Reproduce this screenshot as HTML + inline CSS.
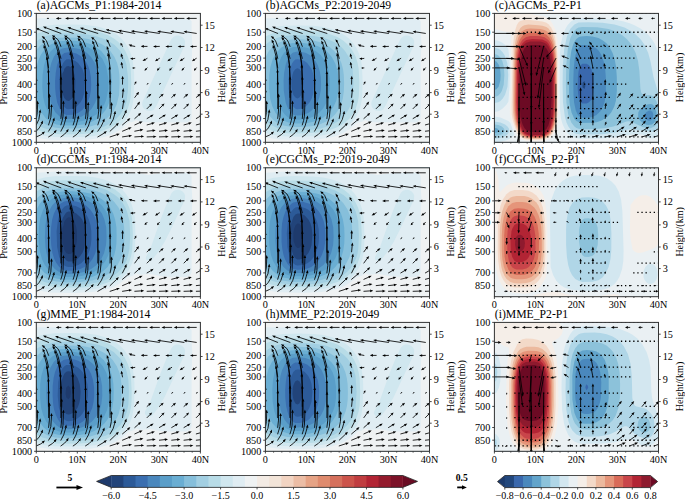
<!DOCTYPE html>
<html><head><meta charset="utf-8"><title>Figure</title>
<style>html,body{margin:0;padding:0;background:#fff;width:685px;height:500px;overflow:hidden}svg{display:block}text{font-family:"Liberation Serif",serif}</style>
</head><body>
<svg width="685" height="500" viewBox="0 0 685 500" font-family='"Liberation Serif", serif' fill="#000">
<g>
<rect x="36.3" y="13.4" width="164.1" height="128.9" fill="#22447a"/>
<path fill="#2c5a98" d="M38.3 13.4 200.4 13.4 200.4 142.3 36.3 142.3 36.3 13.4ZM66 66.9 64.3 68.7 63.8 70.9 62.3 73.6 62 82.8 62.3 93 64.3 98.1 66.3 100.3 68.3 100.9 69.4 100.7 71.8 98.7 74.3 93 75.1 88.8 75.3 80.8 74.6 74.9 72.5 68.9 70.8 66.9 68.3 66 66.3 66.6Z"/>
<path fill="#3a6eb0" d="M38.3 13.4 200.4 13.4 200.4 142.3 36.3 142.3 36.3 13.4ZM64.7 61 63.2 63 61.5 66.9 59.4 78.8 59.4 88.8 61.4 100.7 64.1 106.6 66.3 108.8 68.3 109.2 72.3 108.8 76.6 106.6 80.4 102.6 82.5 98.7 84.3 93 85 82.8 84.4 74.9 82.3 68.8 78.1 63 75.4 61 72.3 59.7 68.3 59.2 66.3 59.6Z"/>
<path fill="#4a87bd" d="M38.3 13.4 200.4 13.4 200.4 142.3 36.3 142.3 36.3 13.4ZM64.3 53.1 61.9 55 59.3 59 57.1 65 55.7 72.9 55.1 80.8 55.2 88.8 55.8 94.7 57.2 102.6 60.3 109.9 62.3 112.6 64.3 114.1 66.3 114.9 72.3 114.8 74.3 114.5 78.8 112.6 82.3 109.9 85.2 106.6 87.5 102.6 89.7 96.7 90.8 90.7 91.2 84.8 90.9 76.9 89.8 70.9 88.6 66.9 86.3 62.3 84 59 80.3 55.7 76.3 53.5 72.3 52.5 68.3 52.2 64.3 53Z"/>
<path fill="#5a9ec9" d="M38.3 13.4 200.4 13.4 200.4 142.3 36.3 142.3 36.3 13.4ZM61.1 49.1 58.2 51.1 56.3 53 53.7 57 51.3 63 49.8 68.9 49 76.9 48.8 86.8 49.4 94.7 50.9 102.6 53.2 108.6 55.5 112.6 59.6 116.5 62.3 118 66.3 118.9 72.3 118.8 76.3 118.3 81.9 116.5 88.1 112.6 91.8 108.6 95.3 102.6 96.7 98.7 98 92.7 98.5 84.8 98.1 74.9 97 68.9 94.8 63 91 57 87 53.1 84 51.1 79.5 49.1 72.3 47.8 66.3 47.7 62.3 48.6Z"/>
<path fill="#6aaed3" d="M38.3 13.4 200.4 13.4 200.4 142.3 36.3 142.3 36.3 13.4ZM60.1 45.1 54.3 48 50.3 51.8 47 57 44.1 65 42.6 74.9 42.3 86.8 43.1 96.7 44.9 104.6 47.5 110.6 50.1 114.5 54.3 118.5 58.3 120.7 64.3 122.2 70.3 122.4 78.3 121.8 84.6 120.5 89.8 118.5 96.3 114.5 100.4 110.6 104.3 104.6 106.3 99.3 108.3 88.8 108.3 78.6 106.3 66.9 102.5 59 99.2 55 94.9 51.1 88.3 47.4 80.9 45.1 74.3 44.3 66.3 44.1 60.3 45.1Z"/>
<path fill="#86bfdb" d="M38.3 13.4 200.4 13.4 200.4 142.3 36.3 142.3 36.3 98.3 38.4 106.6 41.3 112.6 46 118.5 51.5 122.5 56.5 124.5 64.3 125.6 74.3 125.6 83.7 124.5 90.3 122.4 96.3 119.4 100.3 116.2 105.3 110.6 107.6 106.6 109.8 100.7 111.4 92.7 111.8 82.8 111.5 74.9 109.6 65 105.9 57 101.2 51.1 94.3 45.9 90.3 44 82.3 41.7 74.3 40.8 62.3 40.9 56.3 42.1 50.3 44.8 44.9 49.1 40.7 55 38.1 61 36.3 68.4 36.3 13.4Z"/>
<path fill="#a2cfe2" d="M38.3 13.4 200.4 13.4 200.4 142.3 36.3 142.3 36.3 116.3 40.1 120.5 46.3 124.7 54.3 127.5 62.3 128.6 76.3 128.5 86.3 127.5 96.3 124.7 104.4 120.5 111 114.5 113.8 110.6 116.7 104.6 119.1 94.7 119.6 82.8 119.4 74.9 118.6 68.9 117.1 63 114.5 57 110.3 51.1 106.3 47.2 102.3 44.4 96.3 41.4 88.3 39 80.3 37.8 68.3 37.4 58.3 37.8 52.1 39.2 46.3 41.5 40.8 45.1 36.3 50 36.3 13.4Z"/>
<path fill="#b8dce7" d="M38.3 13.4 200.4 13.4 200.4 142.3 36.3 142.3 36.3 124.1 40.1 126.4 44.3 128.3 52 130.4 60.3 131.4 74.3 131.5 88.3 130.5 98.3 128.5 104.3 126.4 111.7 122.5 116.3 118.8 120.3 114.5 124.4 107.5 126.4 102.1 127.9 90.7 128.2 82.8 128 76.9 126.4 64.2 124.4 58.4 122.4 54.4 120.3 51.1 114.6 45.1 108.9 41.2 105 39.2 96.3 36.2 86.3 34.3 76.3 33.6 62.3 33.6 54.3 34.3 46.3 36.1 40.3 38.7 36.3 41.2 36.3 13.4Z"/>
<path fill="#d0e7ef" d="M38.3 13.4 200.4 13.4 200.4 142.3 36.3 142.3 36.3 129.6 44.5 132.4 54.3 133.9 66.3 134.4 82.3 134.1 92.3 133.1 100.3 131.4 108.3 128.5 114.3 125.2 118.3 122.1 122.4 118 126 112.6 127.8 108.6 129.7 102.6 130.7 96.7 131.3 82.8 130.7 68.9 129.7 63 128 57 125.3 51.1 122.4 46.5 118.3 42.1 114.3 38.8 108.3 35.3 100.3 32.2 92.3 30.4 82.3 29.3 66.3 29 54.3 29.5 44.3 31.2 36.3 34.1 36.3 13.4Z"/>
<path fill="#e0edf3" d="M38.3 13.4 200.4 13.4 200.4 142.3 36.3 142.3 36.3 133.9 44.3 135.8 54.3 137 70.3 137.3 84.3 137 94.3 135.9 102.3 134.2 108.3 132.3 116 128.4 120.4 125.3 124.4 121.3 127.8 116.5 130.4 111.6 132.4 105.5 133.6 98.7 134.3 82.8 134.1 72.9 133.3 65 132.3 59 130.4 52.5 127.8 47.1 124.4 41.9 120.4 37.5 116.3 34.3 110.3 30.8 102.3 27.7 94.3 25.9 84.3 24.7 70.3 24.4 54.3 24.7 44.3 26 36.3 28.1 36.3 13.4ZM173 37.2 171.3 39.2 169.4 43.1 142.4 102.1 142.2 104.6 142.6 106.6 143.8 108.6 146.4 110.4 150.4 111 152.4 110.5 154.4 109.1 157.1 104.6 184.9 45.1 185.1 41.2 184.3 39.2 182.6 37.2 180.4 35.9 178.4 35.4 176.4 35.5 174.4 36.2Z"/>
<path fill="#eff2f3" d="M38.3 13.4 200.4 13.4 200.4 142.3 36.3 142.3 36.3 137.8 50.3 139.8 72.3 140.2 90.3 139.5 102.3 137.6 108.3 135.8 114.3 133.3 120.4 129.7 128.4 122.5 132.4 121.9 136.4 120 140.4 122.1 142.4 122.3 186.4 122.5 188.4 121.8 190.1 120.5 191.4 118.5 191.6 116.5 191.6 63 192.3 43.1 191.6 33.2 191.6 21.3 189.7 19.3 186.4 18.4 36.3 18.3 36.3 13.4Z"/>
</g>
<svg x="36.3" y="13.4" width="164.1" height="128.9" viewBox="36.3 13.4 164.1 128.9" overflow="hidden">
<path d="M48.6 18.4 47.8 18.4M60.9 18.4 58.9 18.4M73.2 18.4 68.3 18.4M85.5 18.4 78.6 18.4M97.8 18.4 90.9 18.4M110.1 18.4 103.2 18.4M122.5 18.4 115.5 18.4M134.8 18.4 127.8 18.4M147.1 18.4 140.1 18.4M159.4 18.4 152.4 18.4M171.7 18.4 164.7 18.4M184.0 18.4 177.0 18.4M196.3 18.4 189.4 18.4M36.3 33.4 32.4 31.6M48.6 33.4 38.7 29.4M60.9 33.4 45.9 27.8M73.2 33.4 58.0 28.2M85.5 33.4 70.4 28.4M97.8 33.4 83.0 28.7M110.1 33.4 95.8 29.4M122.5 33.4 108.8 30.3M134.8 33.4 121.2 30.9M147.1 33.4 134.1 31.4M159.4 33.4 147.2 31.6M171.7 33.4 160.4 31.7M184.0 33.4 173.5 31.8M196.3 33.4 186.6 31.9M36.3 46.4 34.1 41.1M48.6 46.4 46.4 40.8 44.2 38.1M60.9 46.4 59.3 42.2 57.8 39.6 54.5 36.9M73.2 46.4 71.6 42.2 70.1 39.6 66.8 36.9M85.5 46.4 83.3 40.9 81.4 38.5 79.7 37.3M97.8 46.4 95.5 40.9 93.6 38.9M110.1 46.4 108.2 41.8M122.5 46.4 121.7 44.9M134.8 46.4 131.6 45.8M147.1 46.4 143.9 46.4M159.4 46.4 156.2 46.5M171.7 46.4 168.5 46.5M184.0 46.4 180.8 46.5M196.3 46.4 193.1 46.5M36.3 58.4 33.6 47.9M48.6 58.4 46.9 51.1 43.9 42.4M60.9 58.4 57.9 46.8 55.7 41.2 54.4 39.5M73.2 58.4 70.2 46.8 68.0 41.2 66.7 39.5M85.5 58.4 82.9 48.2 80.9 42.6 79.6 40.5M97.8 58.4 96.1 51.1 93.6 43.5M110.1 58.4 107.8 49.0M122.5 58.4 121.8 56.3M134.8 58.4 132.9 58.7M147.1 58.4 145.2 59.5M159.4 58.4 157.6 59.5M171.7 58.4 169.9 59.5M184.0 58.4 182.2 59.5M196.3 58.4 194.5 59.5M36.3 67.9 35.4 60.5 34.2 54.6M48.6 67.9 47.2 57.5 44.7 47.9M60.9 67.9 59.2 56.0 55.6 44.0M73.2 67.9 71.5 56.0 67.9 44.0M85.5 67.9 83.8 56.0 80.7 45.3M97.8 67.9 96.7 59.0 94.3 49.2M110.1 67.9 108.4 55.9M122.5 67.9 121.9 64.9M134.8 67.9 133.7 68.0M147.1 67.9 146.1 69.0M159.4 67.9 158.4 69.1M171.7 67.9 170.7 69.1M184.0 67.9 183.0 69.1M196.3 67.9 195.3 69.1M36.3 84.2 35.8 67.7M48.6 84.2 48.4 70.7 47.1 59.6M60.9 84.2 60.5 67.7 59.6 60.3 58.5 54.7M73.2 84.2 72.8 67.7 71.9 60.3 70.8 54.7M85.5 84.2 85.2 69.2 83.4 56.3M97.8 84.2 97.7 72.2 96.6 61.2M110.1 84.2 109.8 69.3M122.5 84.2 122.6 78.9M134.8 84.2 135.4 83.0M147.1 84.2 147.7 83.8M159.4 84.2 160.0 83.8M171.7 84.2 172.3 83.8M184.0 84.2 184.6 83.8M196.3 84.2 196.9 83.8M36.3 97.4 36.3 80.7M48.6 97.4 48.5 72.4M60.9 97.4 60.9 76.4 60.4 67.4M73.2 97.4 73.2 76.4 72.7 67.4M85.5 97.4 85.5 76.4 85.2 69.1M97.8 97.4 97.8 74.0M110.1 97.4 110.1 82.3M122.5 97.4 123.1 91.3M134.8 97.4 137.2 94.2M147.1 97.4 148.9 95.8M159.4 97.4 161.2 95.8M171.7 97.4 173.5 95.8M184.0 97.4 185.9 95.8M196.3 97.4 198.2 95.8M36.3 108.6 36.4 92.3M48.6 108.6 48.7 84.2M60.9 108.6 61.0 79.4M73.2 108.6 73.3 79.4M85.5 108.6 85.6 81.0M97.8 108.6 97.9 85.8M110.1 108.6 110.2 94.0M122.5 108.6 123.5 102.3M134.8 108.6 138.1 104.1M147.1 108.6 150.0 105.7M159.4 108.6 162.3 105.7M171.7 108.6 174.6 105.7M184.0 108.6 186.9 105.7M196.3 108.6 199.2 105.7M36.3 118.5 37.3 112.6 37.6 103.8M48.6 118.5 49.4 111.1 49.5 96.8M60.9 118.5 61.6 111.0 61.7 92.6M73.2 118.5 73.9 111.0 74.0 92.6M85.5 118.5 86.3 111.0 86.4 94.0M97.8 118.5 98.7 111.1 98.8 98.3M110.1 118.5 111.3 112.6 111.6 105.2M122.5 118.5 125.5 112.6M134.8 118.5 138.9 114.9M147.1 118.5 151.0 116.2M159.4 118.5 163.3 116.2M171.7 118.5 175.6 116.2M184.0 118.5 187.9 116.2M196.3 118.5 200.2 116.2M36.3 124.9 38.8 119.5 40.0 112.5M48.6 124.9 50.8 117.7 51.5 107.1M60.9 124.9 62.2 120.6 63.0 116.2 63.4 103.7M73.2 124.9 74.5 120.6 75.3 116.2 75.8 103.7M85.5 124.9 86.9 120.6 87.8 116.2 88.2 104.9M97.8 124.9 100.2 117.8 101.1 108.2M110.1 124.9 113.1 119.7 114.8 113.9M122.5 124.9 128.0 120.3M134.8 124.9 139.7 122.7M147.1 124.9 151.9 123.6M159.4 124.9 164.2 123.6M171.7 124.9 176.5 123.6M184.0 124.9 188.8 123.6M196.3 124.9 201.1 123.6M36.3 131.2 39.3 127.9 41.7 123.6M48.6 131.2 51.7 126.1 53.6 120.5M60.9 131.2 63.7 125.9 65.8 118.6M73.2 131.2 76.0 125.9 78.1 118.6M85.5 131.2 88.4 126.0 90.6 119.3M97.8 131.2 101.2 126.3 103.5 121.4M110.1 131.2 116.6 125.0M122.5 131.2 128.7 128.6M134.8 131.2 140.3 130.1M147.1 131.2 152.5 130.6M159.4 131.2 164.8 130.6M171.7 131.2 177.1 130.6M184.0 131.2 189.5 130.6M196.3 131.2 201.8 130.6M36.3 136.9 40.4 135.1 42.6 133.6M48.6 136.9 52.4 134.5 54.7 132.3M60.9 136.9 64.5 134.2 66.9 131.6M73.2 136.9 76.9 134.3 79.2 131.6M85.5 136.9 89.3 134.4 91.7 132.0M97.8 136.9 104.3 133.1M110.1 136.9 116.8 134.7M122.5 136.9 128.9 135.9M134.8 136.9 141.0 136.5M147.1 136.9 153.3 136.7M159.4 136.9 165.6 136.7M171.7 136.9 177.9 136.7M184.0 136.9 190.2 136.7M196.3 136.9 202.6 136.7" stroke="#000" stroke-width="0.85" fill="none" stroke-linecap="round" stroke-linejoin="round"/><path d="M46.6 18.4L47.8 17.7L47.8 19.1ZM55.8 18.4L58.9 17.1L58.9 19.7ZM65.1 18.4L68.3 17.1L68.3 19.7ZM75.4 18.4L78.6 17.1L78.6 19.7ZM87.7 18.4L90.9 17.1L90.9 19.7ZM100.0 18.4L103.2 17.1L103.2 19.7ZM112.3 18.4L115.5 17.1L115.5 19.7ZM124.6 18.4L127.8 17.1L127.8 19.7ZM136.9 18.4L140.1 17.1L140.1 19.7ZM149.2 18.4L152.4 17.1L152.4 19.7ZM161.5 18.4L164.7 17.1L164.7 19.7ZM173.8 18.4L177.0 17.1L177.0 19.7ZM186.2 18.4L189.4 17.1L189.4 19.7ZM29.5 30.2L33.0 30.4L31.9 32.7ZM35.8 27.9L39.3 28.2L38.1 30.5ZM43.0 26.4L46.5 26.7L45.3 29.0ZM55.1 27.0L58.5 27.0L57.6 29.4ZM67.4 27.2L70.9 27.1L70.0 29.6ZM80.0 27.7L83.5 27.5L82.6 30.0ZM92.8 28.5L96.2 28.2L95.4 30.6ZM105.7 29.5L109.1 29.0L108.5 31.5ZM118.1 30.3L121.5 29.7L121.0 32.2ZM130.9 30.9L134.3 30.1L133.9 32.6ZM144.1 31.1L147.4 30.3L147.0 32.8ZM157.2 31.2L160.5 30.4L160.2 33.0ZM170.3 31.3L173.7 30.5L173.3 33.1ZM183.5 31.5L186.8 30.6L186.5 33.2ZM32.5 38.3L35.2 40.4L33.0 41.7ZM41.7 36.1L45.0 37.0L43.4 39.1ZM51.8 35.3L55.2 35.8L53.9 38.0ZM64.0 35.4L67.4 35.8L66.2 38.1ZM77.0 35.7L80.4 36.2L79.1 38.4ZM91.1 36.9L94.4 37.8L92.8 39.9ZM106.3 39.2L109.2 41.0L107.1 42.6ZM120.5 42.7L122.8 44.3L120.5 45.6ZM128.6 44.6L132.1 44.6L131.1 47.0ZM140.7 46.3L143.9 45.1L143.8 47.7ZM153.0 46.5L156.2 45.2L156.2 47.8ZM165.3 46.5L168.5 45.2L168.5 47.8ZM177.6 46.5L180.8 45.2L180.8 47.8ZM189.9 46.5L193.1 45.2L193.1 47.8ZM32.6 44.9L34.8 47.5L32.4 48.3ZM42.4 39.6L45.1 41.8L42.8 43.0ZM52.1 37.2L55.3 38.5L53.5 40.4ZM64.4 37.3L67.6 38.5L65.8 40.4ZM77.6 38.0L80.6 39.6L78.6 41.3ZM92.2 40.6L94.7 43.0L92.4 44.1ZM106.8 46.0L109.0 48.6L106.6 49.4ZM121.0 53.3L123.1 56.0L120.6 56.7ZM130.1 58.5L133.0 57.4L132.8 60.0ZM142.5 61.1L144.6 58.4L145.9 60.6ZM155.0 61.3L156.8 58.5L158.3 60.6ZM167.3 61.3L169.2 58.5L170.6 60.6ZM179.6 61.3L181.5 58.5L182.9 60.6ZM191.9 61.3L193.8 58.5L195.2 60.6ZM33.5 51.5L35.5 54.3L33.0 54.9ZM43.7 44.9L45.9 47.5L43.4 48.3ZM54.3 41.0L56.8 43.5L54.4 44.5ZM66.6 41.0L69.1 43.5L66.7 44.5ZM79.6 42.3L81.9 44.8L79.5 45.7ZM93.3 46.2L95.6 48.8L93.1 49.6ZM107.7 52.8L109.7 55.6L107.2 56.3ZM121.3 61.7L123.2 64.6L120.6 65.1ZM132.1 68.1L133.6 67.1L133.8 68.9ZM144.5 70.7L145.2 68.2L147.0 69.8ZM157.0 70.8L157.5 68.3L159.4 69.8ZM169.3 70.8L169.8 68.3L171.7 69.8ZM181.6 70.8L182.1 68.3L184.0 69.8ZM193.9 70.8L194.4 68.3L196.3 69.8ZM35.5 64.5L37.1 67.6L34.5 67.8ZM46.5 56.4L48.4 59.3L45.9 59.8ZM57.7 51.6L59.7 54.4L57.2 55.0ZM70.0 51.6L72.0 54.4L69.5 55.0ZM82.7 53.2L84.7 56.0L82.2 56.6ZM96.1 58.0L97.9 61.0L95.3 61.4ZM109.5 66.2L111.1 69.2L108.5 69.4ZM122.7 75.7L123.9 79.0L121.3 78.9ZM136.3 81.2L136.3 83.5L134.4 82.5ZM148.7 83.2L148.0 84.3L147.4 83.3ZM161.0 83.2L160.3 84.3L159.7 83.3ZM173.3 83.2L172.6 84.3L172.0 83.3ZM185.6 83.2L184.9 84.3L184.3 83.3ZM197.9 83.2L197.2 84.3L196.6 83.3ZM36.3 77.5L37.6 80.7L35.0 80.7ZM48.3 69.2L49.7 72.3L47.2 72.5ZM60.1 64.2L61.7 67.3L59.1 67.5ZM72.4 64.2L74.0 67.3L71.4 67.5ZM84.9 65.9L86.5 69.0L83.9 69.2ZM97.6 70.9L99.1 74.0L96.5 74.1ZM110.1 79.1L111.4 82.3L108.8 82.3ZM123.4 88.1L124.4 91.4L121.8 91.2ZM139.1 91.7L138.2 95.0L136.1 93.4ZM151.4 93.7L149.8 96.7L148.1 94.8ZM163.7 93.7L162.1 96.7L160.4 94.8ZM176.0 93.7L174.4 96.7L172.7 94.8ZM188.3 93.7L186.7 96.7L185.0 94.8ZM200.6 93.7L199.0 96.7L197.3 94.8ZM36.4 89.1L37.7 92.3L35.1 92.3ZM48.7 81.0L50.0 84.2L47.4 84.2ZM60.9 76.2L62.3 79.4L59.7 79.4ZM73.2 76.2L74.6 79.4L72.0 79.4ZM85.6 77.8L86.9 81.0L84.3 81.0ZM97.9 82.6L99.2 85.8L96.6 85.8ZM110.2 90.8L111.5 94.0L108.9 94.0ZM124.0 99.2L124.8 102.6L122.2 102.1ZM140.1 101.6L139.1 104.9L137.1 103.3ZM152.2 103.4L150.9 106.6L149.0 104.8ZM164.5 103.4L163.2 106.6L161.3 104.8ZM176.8 103.4L175.5 106.6L173.6 104.8ZM189.1 103.4L187.8 106.6L186.0 104.8ZM201.4 103.4L200.1 106.6L198.3 104.8ZM37.6 100.6L38.9 103.9L36.3 103.8ZM49.5 93.6L50.8 96.8L48.2 96.8ZM61.7 89.4L63.0 92.6L60.4 92.6ZM74.0 89.4L75.3 92.6L72.7 92.6ZM86.4 90.8L87.7 94.0L85.1 94.0ZM98.8 95.1L100.1 98.3L97.5 98.3ZM111.6 102.0L112.9 105.3L110.3 105.2ZM126.5 109.6L126.7 113.1L124.2 112.2ZM141.1 112.7L139.8 115.9L138.0 114.0ZM153.6 114.4L151.7 117.3L150.2 115.2ZM165.9 114.4L164.0 117.3L162.5 115.2ZM178.2 114.4L176.3 117.3L174.8 115.2ZM190.5 114.4L188.6 117.3L187.1 115.2ZM202.8 114.4L200.9 117.3L199.4 115.2ZM40.2 109.3L41.3 112.6L38.7 112.4ZM51.5 103.9L52.8 107.1L50.2 107.1ZM63.5 100.5L64.7 103.7L62.1 103.7ZM75.8 100.5L77.1 103.7L74.5 103.7ZM88.2 101.7L89.5 104.9L86.9 104.9ZM101.1 105.0L102.4 108.2L99.8 108.2ZM115.2 110.7L116.1 114.0L113.5 113.7ZM130.3 118.1L128.9 121.2L127.1 119.3ZM142.6 121.4L140.2 123.9L139.2 121.5ZM154.9 122.6L152.2 124.8L151.5 122.3ZM167.2 122.6L164.5 124.8L163.8 122.3ZM179.5 122.6L176.8 124.8L176.1 122.3ZM191.8 122.6L189.2 124.8L188.4 122.3ZM204.1 122.6L201.5 124.8L200.7 122.3ZM42.9 120.6L42.9 124.1L40.5 123.1ZM54.3 117.4L54.9 120.8L52.3 120.2ZM66.2 115.4L67.0 118.8L64.5 118.4ZM78.6 115.5L79.4 118.8L76.8 118.4ZM91.2 116.2L91.9 119.6L89.3 119.1ZM104.5 118.4L104.7 121.8L102.2 121.0ZM118.8 122.7L117.6 125.9L115.7 124.1ZM131.7 127.3L129.2 129.8L128.2 127.4ZM143.4 129.5L140.5 131.4L140.0 128.8ZM155.7 130.2L152.7 131.9L152.4 129.3ZM168.0 130.2L165.0 131.9L164.7 129.3ZM180.3 130.2L177.3 131.9L177.0 129.3ZM192.6 130.2L189.6 131.9L189.3 129.3ZM204.9 130.2L201.9 131.9L201.6 129.3ZM45.0 131.6L43.4 134.6L41.7 132.6ZM56.6 129.8L55.8 133.1L53.7 131.6ZM68.6 128.8L68.0 132.2L65.8 130.9ZM81.0 128.9L80.3 132.3L78.2 130.9ZM93.7 129.5L92.8 132.8L90.7 131.2ZM106.8 131.1L105.2 134.1L103.5 132.1ZM119.8 133.7L117.2 135.9L116.4 133.5ZM132.1 135.5L129.1 137.2L128.8 134.7ZM144.2 136.3L141.1 137.8L141.0 135.2ZM156.5 136.5L153.4 138.0L153.3 135.4ZM168.8 136.5L165.7 138.0L165.6 135.4ZM181.1 136.5L178.0 138.0L177.9 135.4ZM193.4 136.5L190.3 138.0L190.2 135.4ZM205.8 136.5L202.6 138.0L202.5 135.4Z" fill="#000"/>
</svg>
<rect x="36.3" y="13.4" width="164.1" height="128.9" fill="none" stroke="#333" stroke-width="1"/>
<path d="M36.3 13.4h-2.2M36.3 32.2h-2.2M36.3 46.5h-2.2M36.3 58.1h-2.2M36.3 67.9h-2.2M36.3 84.2h-2.2M36.3 97.4h-2.2M36.3 118.5h-2.2M36.3 131.2h-2.2M36.3 142.3h-2.2M200.4 25.2h2.2M200.4 47.5h2.2M200.4 70.5h2.2M200.4 92.6h2.2M200.4 114.2h2.2M36.3 142.3v2.2M77.3 142.3v2.2M118.3 142.3v2.2M159.4 142.3v2.2M200.4 142.3v2.2M44.5 142.3v1.3M52.7 142.3v1.3M60.9 142.3v1.3M69.1 142.3v1.3M85.5 142.3v1.3M93.7 142.3v1.3M101.9 142.3v1.3M110.1 142.3v1.3M126.6 142.3v1.3M134.8 142.3v1.3M143 142.3v1.3M151.2 142.3v1.3M167.6 142.3v1.3M175.8 142.3v1.3M184 142.3v1.3M192.2 142.3v1.3" stroke="#333" stroke-width="0.9" fill="none"/>
<text x="32.2" y="16.8" font-size="10.2" text-anchor="end">100</text>
<text x="32.2" y="35.6" font-size="10.2" text-anchor="end">150</text>
<text x="32.2" y="49.9" font-size="10.2" text-anchor="end">200</text>
<text x="32.2" y="61.5" font-size="10.2" text-anchor="end">250</text>
<text x="32.2" y="71.3" font-size="10.2" text-anchor="end">300</text>
<text x="32.2" y="87.6" font-size="10.2" text-anchor="end">400</text>
<text x="32.2" y="100.8" font-size="10.2" text-anchor="end">500</text>
<text x="32.2" y="121.9" font-size="10.2" text-anchor="end">700</text>
<text x="32.2" y="134.6" font-size="10.2" text-anchor="end">850</text>
<text x="32.2" y="145.7" font-size="10.2" text-anchor="end">1000</text>
<text x="204.6" y="28.6" font-size="10.2" text-anchor="start">15</text>
<text x="204.6" y="50.9" font-size="10.2" text-anchor="start">12</text>
<text x="204.6" y="73.9" font-size="10.2" text-anchor="start">9</text>
<text x="204.6" y="96" font-size="10.2" text-anchor="start">6</text>
<text x="204.6" y="117.6" font-size="10.2" text-anchor="start">3</text>
<text x="36.3" y="153.9" font-size="10.2" text-anchor="middle">0</text>
<text x="77.3" y="153.9" font-size="10.2" text-anchor="middle">10N</text>
<text x="118.3" y="153.9" font-size="10.2" text-anchor="middle">20N</text>
<text x="159.4" y="153.9" font-size="10.2" text-anchor="middle">30N</text>
<text x="200.4" y="153.9" font-size="10.2" text-anchor="middle">40N</text>
<text x="36.7" y="9" font-size="11.7" text-anchor="start">(a)AGCMs_P1:1984-2014</text>
<text x="6.6" y="77.8" font-size="10.0" text-anchor="middle" transform="rotate(-90 6.6 77.8)">Pressure(mb)</text>
<text x="224.7" y="77.5" font-size="10.0" text-anchor="middle" transform="rotate(-90 224.7 77.5)">Height/(km)</text>
<g>
<rect x="265.4" y="13.4" width="164.1" height="128.9" fill="#2c5a98"/>
<path fill="#3a6eb0" d="M267.4 13.4 429.5 13.4 429.5 142.3 265.4 142.3 265.4 13.4ZM295.6 68.9 293.4 71.8 292.4 74.9 291.4 80.8 291.5 86.8 292.1 90.7 293.4 94.9 295.4 97.6 297.4 98.4 299.4 97.6 301.4 94.7 303 88.8 303.4 82.8 302.8 76.9 301.4 72 299.4 69.1 297.4 68.3Z"/>
<path fill="#4a87bd" d="M267.4 13.4 429.5 13.4 429.5 142.3 265.4 142.3 265.4 13.4ZM293.8 61 292.3 63 290.6 66.9 288.5 78.8 288.5 88.8 290.5 100.7 293.2 106.6 295.4 108.8 297.4 109.2 301.4 108.8 305.7 106.6 309.5 102.6 311.6 98.7 313.4 93 314.1 82.8 313.5 74.9 311.4 68.8 307.2 63 304.5 61 301.4 59.7 297.4 59.2 295.4 59.6Z"/>
<path fill="#5a9ec9" d="M267.4 13.4 429.5 13.4 429.5 142.3 265.4 142.3 265.4 13.4ZM292.4 53.1 289.4 56.1 286.9 61 285.6 65 284.1 72.9 283.6 80.8 283.8 90.7 285.7 102.6 287.1 106.6 289.1 110.6 290.6 112.6 293.4 114.7 297.4 115.5 301.4 115.3 304.8 114.5 309 112.6 311.7 110.6 315.1 106.6 317.4 102.6 319.5 96.7 320.7 90.7 321.1 84.8 320.8 76.9 319.7 70.9 317.7 65 315.5 61 312.2 57 309.8 55 305.4 52.8 301.4 51.9 297.4 51.6 293.4 52.4Z"/>
<path fill="#6aaed3" d="M267.4 13.4 429.5 13.4 429.5 142.3 265.4 142.3 265.4 13.4ZM293.2 47.1 288.2 49.1 283.9 53.1 281.3 57 278.9 63 277.2 70.9 276.5 78.8 276.7 90.7 277.7 98.7 279.2 104.6 281.9 110.6 284.8 114.5 287.4 116.9 291.4 118.9 295.4 119.7 301.4 119.6 307.4 118.8 313.6 116.5 319.5 112.6 323.1 108.6 326.5 102.6 328.5 96.7 329.7 88.8 329.7 78.8 328.7 70.9 326.9 65 323.8 59 320.6 55 315.6 51.1 311.4 49 305.4 47.4 299.4 46.8 293.4 47.1Z"/>
<path fill="#86bfdb" d="M267.4 13.4 429.5 13.4 429.5 142.3 265.4 142.3 265.4 13.4ZM293 43.1 287.4 44.3 281.4 47.4 276 53.1 272.8 59 270.4 66.9 269.3 74.9 269.2 88.8 270.2 98.7 272.4 106.6 275.3 112.6 278.4 116.5 283.4 120.4 288.3 122.5 293.4 123.4 301.4 123.5 307.4 123 315.4 121.3 323.4 117.5 329.4 112.5 333.4 107.1 336.3 100.7 338.1 92.7 338.4 78.8 337.6 70.9 335.4 63.7 331.8 57 327.4 52.1 323.4 49 317.4 46 311.4 44.2 303.4 43.1 293.4 43.1Z"/>
<path fill="#a2cfe2" d="M267.4 13.4 429.5 13.4 429.5 142.3 265.4 142.3 265.4 109.2 268.3 114.5 273.4 120.1 277.4 122.9 283.4 125.5 291.4 126.9 301.4 127.1 311.4 126.3 319.4 124.4 325.4 121.9 330.8 118.5 335 114.5 338 110.6 341 104.6 342.8 98.7 343.9 90.7 344.1 82.8 343.8 74.9 343 68.9 341.4 63 338.6 57 334.2 51.1 329.7 47.1 325.4 44.5 319.4 42 311.4 40.1 301.4 39.3 291.4 39.4 283.4 40.9 277.9 43.1 272.4 47.1 268.9 51.1 265.4 57.3 265.4 13.4Z"/>
<path fill="#b8dce7" d="M267.4 13.4 429.5 13.4 429.5 142.3 265.4 142.3 265.4 121.1 269.9 124.5 277.4 127.9 285.4 129.7 295.4 130.2 309.4 129.9 320.8 128.4 329.4 125.8 337.4 121.7 341.6 118.5 345.3 114.5 348 110.6 350 106.6 351.4 102.6 352.7 96.7 353.5 82.8 352.6 68.9 351.2 63 348.8 57 345 51.1 341.3 47.1 336 43.1 331.4 40.7 323.4 37.8 313.4 36 303.4 35.3 289.4 35.5 281.4 36.6 275.4 38.4 270 41.2 265.4 44.7 265.4 13.4Z"/>
<path fill="#d0e7ef" d="M267.4 13.4 429.5 13.4 429.5 142.3 265.4 142.3 265.4 127.9 273.4 131 281.4 132.7 291.4 133.4 307.4 133.3 317.4 132.6 327.4 130.8 335.4 128.1 341.4 125 345.4 122.2 349.5 118.4 352.5 114.5 355.7 108.6 357.7 102.6 358.8 96.7 359.4 82.8 358.7 68.9 357.6 63 355.8 57 351.5 49 347.4 44.2 343.4 40.8 337.4 37.1 329.4 33.9 319.4 31.7 309.4 30.8 291.4 30.6 281.4 31.3 272.8 33.2 265.4 36.4 265.4 13.4Z"/>
<path fill="#e0edf3" d="M267.4 13.4 429.5 13.4 429.5 142.3 265.4 142.3 265.4 133 273.4 135.1 283.4 136.3 299.4 136.7 313.4 136.3 321.4 135.5 329.4 134 337.4 131.4 343.6 128.4 349.2 124.5 353.1 120.5 356 116.5 359.1 110.6 360.9 104.6 362 98.7 362.7 82.8 362 66.9 361.1 61 359.5 55 357 49.1 353.5 43.5 349.5 39 345.4 35.7 339.4 32 331.4 28.9 323.4 27 313.4 25.8 299.4 25.4 283.4 25.8 273.4 27.1 265.4 29.4 265.4 13.4ZM402.1 37.2 400.4 39.2 398.5 43.1 371.5 102.1 371.3 104.6 371.7 106.6 372.9 108.6 375.5 110.4 379.5 111 381.5 110.5 383.5 109.1 386.2 104.6 414 45.1 414.2 41.2 413.4 39.2 411.7 37.2 409.5 35.9 407.5 35.4 405.5 35.5 403.5 36.2Z"/>
<path fill="#eff2f3" d="M267.4 13.4 429.5 13.4 429.5 142.3 265.4 142.3 265.4 137.3 279.4 139.4 299.4 139.9 317.4 139.4 331.4 137.2 337.4 135.4 343.4 132.9 349.5 129.2 355.5 123.7 357.5 122.5 361.5 121.9 365.5 120 369.5 122.1 371.5 122.3 415.5 122.5 417.5 121.8 419.2 120.5 420.5 118.5 420.7 116.5 420.7 63 421.4 43.1 420.7 33.2 420.7 21.3 418.8 19.3 415.5 18.4 265.4 18.3 265.4 13.4Z"/>
</g>
<svg x="265.4" y="13.4" width="164.1" height="128.9" viewBox="265.4 13.4 164.1 128.9" overflow="hidden">
<path d="M277.7 18.4 276.9 18.4M290.0 18.4 288.0 18.4M302.3 18.4 297.4 18.4M314.6 18.4 307.7 18.4M326.9 18.4 320.0 18.4M339.2 18.4 332.3 18.4M351.6 18.4 344.6 18.4M363.9 18.4 356.9 18.4M376.2 18.4 369.2 18.4M388.5 18.4 381.5 18.4M400.8 18.4 393.8 18.4M413.1 18.4 406.1 18.4M425.4 18.4 418.5 18.4M265.4 33.4 261.5 31.6M277.7 33.4 267.8 29.4M290.0 33.4 275.0 27.8M302.3 33.4 287.1 28.2M314.6 33.4 299.5 28.4M326.9 33.4 312.1 28.7M339.2 33.4 324.9 29.4M351.6 33.4 337.9 30.3M363.9 33.4 350.3 30.9M376.2 33.4 363.2 31.4M388.5 33.4 376.3 31.6M400.8 33.4 389.5 31.7M413.1 33.4 402.6 31.8M425.4 33.4 415.7 31.9M265.4 46.4 263.2 41.1M277.7 46.4 275.5 40.8 273.3 38.1M290.0 46.4 288.4 42.2 286.9 39.6 283.6 36.9M302.3 46.4 300.7 42.2 299.2 39.6 295.9 36.9M314.6 46.4 312.4 40.9 310.5 38.5 308.8 37.3M326.9 46.4 324.6 40.9 322.7 38.9M339.2 46.4 337.3 41.8M351.6 46.4 350.8 44.9M363.9 46.4 360.7 45.8M376.2 46.4 373.0 46.4M388.5 46.4 385.3 46.5M400.8 46.4 397.6 46.5M413.1 46.4 409.9 46.5M425.4 46.4 422.2 46.5M265.4 58.4 262.7 47.9M277.7 58.4 276.0 51.1 273.0 42.4M290.0 58.4 287.0 46.8 284.8 41.2 283.5 39.5M302.3 58.4 299.3 46.8 297.1 41.2 295.8 39.5M314.6 58.4 312.0 48.2 310.0 42.6 308.7 40.5M326.9 58.4 325.2 51.1 322.7 43.5M339.2 58.4 336.9 49.0M351.6 58.4 350.9 56.3M363.9 58.4 362.0 58.7M376.2 58.4 374.3 59.5M388.5 58.4 386.7 59.5M400.8 58.4 399.0 59.5M413.1 58.4 411.3 59.5M425.4 58.4 423.6 59.5M265.4 67.9 264.5 60.5 263.3 54.6M277.7 67.9 276.3 57.5 273.8 47.9M290.0 67.9 288.3 56.0 284.7 44.0M302.3 67.9 300.6 56.0 297.0 44.0M314.6 67.9 312.9 56.0 309.8 45.3M326.9 67.9 325.8 59.0 323.4 49.2M339.2 67.9 337.5 55.9M351.6 67.9 351.0 64.9M363.9 67.9 362.8 68.0M376.2 67.9 375.2 69.0M388.5 67.9 387.5 69.1M400.8 67.9 399.8 69.1M413.1 67.9 412.1 69.1M425.4 67.9 424.4 69.1M265.4 84.2 264.9 67.7M277.7 84.2 277.5 70.7 276.2 59.6M290.0 84.2 289.6 67.7 288.7 60.3 287.6 54.7M302.3 84.2 301.9 67.7 301.0 60.3 299.9 54.7M314.6 84.2 314.3 69.2 312.5 56.3M326.9 84.2 326.8 72.2 325.7 61.2M339.2 84.2 338.9 69.3M351.6 84.2 351.7 78.9M363.9 84.2 364.5 83.0M376.2 84.2 376.8 83.8M388.5 84.2 389.1 83.8M400.8 84.2 401.4 83.8M413.1 84.2 413.7 83.8M425.4 84.2 426.0 83.8M265.4 97.4 265.4 80.7M277.7 97.4 277.6 72.4M290.0 97.4 290.0 76.4 289.5 67.4M302.3 97.4 302.3 76.4 301.8 67.4M314.6 97.4 314.6 76.4 314.3 69.1M326.9 97.4 326.9 74.0M339.2 97.4 339.2 82.3M351.6 97.4 352.2 91.3M363.9 97.4 366.3 94.2M376.2 97.4 378.0 95.8M388.5 97.4 390.3 95.8M400.8 97.4 402.6 95.8M413.1 97.4 415.0 95.8M425.4 97.4 427.3 95.8M265.4 108.6 265.5 92.3M277.7 108.6 277.8 84.2M290.0 108.6 290.1 79.4M302.3 108.6 302.4 79.4M314.6 108.6 314.7 81.0M326.9 108.6 327.0 85.8M339.2 108.6 339.3 94.0M351.6 108.6 352.6 102.3M363.9 108.6 367.2 104.1M376.2 108.6 379.1 105.7M388.5 108.6 391.4 105.7M400.8 108.6 403.7 105.7M413.1 108.6 416.0 105.7M425.4 108.6 428.3 105.7M265.4 118.5 266.4 112.6 266.7 103.8M277.7 118.5 278.5 111.1 278.6 96.8M290.0 118.5 290.7 111.0 290.8 92.6M302.3 118.5 303.0 111.0 303.1 92.6M314.6 118.5 315.4 111.0 315.5 94.0M326.9 118.5 327.8 111.1 327.9 98.3M339.2 118.5 340.4 112.6 340.7 105.2M351.6 118.5 354.6 112.6M363.9 118.5 368.0 114.9M376.2 118.5 380.1 116.2M388.5 118.5 392.4 116.2M400.8 118.5 404.7 116.2M413.1 118.5 417.0 116.2M425.4 118.5 429.3 116.2M265.4 124.9 267.9 119.5 269.1 112.5M277.7 124.9 279.9 117.7 280.6 107.1M290.0 124.9 291.3 120.6 292.1 116.2 292.5 103.7M302.3 124.9 303.6 120.6 304.4 116.2 304.9 103.7M314.6 124.9 316.0 120.6 316.9 116.2 317.3 104.9M326.9 124.9 329.3 117.8 330.2 108.2M339.2 124.9 342.2 119.7 343.9 113.9M351.6 124.9 357.1 120.3M363.9 124.9 368.8 122.7M376.2 124.9 381.0 123.6M388.5 124.9 393.3 123.6M400.8 124.9 405.6 123.6M413.1 124.9 417.9 123.6M425.4 124.9 430.2 123.6M265.4 131.2 268.4 127.9 270.8 123.6M277.7 131.2 280.8 126.1 282.7 120.5M290.0 131.2 292.8 125.9 294.9 118.6M302.3 131.2 305.1 125.9 307.2 118.6M314.6 131.2 317.5 126.0 319.7 119.3M326.9 131.2 330.3 126.3 332.6 121.4M339.2 131.2 345.7 125.0M351.6 131.2 357.8 128.6M363.9 131.2 369.4 130.1M376.2 131.2 381.6 130.6M388.5 131.2 393.9 130.6M400.8 131.2 406.2 130.6M413.1 131.2 418.6 130.6M425.4 131.2 430.9 130.6M265.4 136.9 269.5 135.1 271.7 133.6M277.7 136.9 281.5 134.5 283.8 132.3M290.0 136.9 293.6 134.2 296.0 131.6M302.3 136.9 306.0 134.3 308.3 131.6M314.6 136.9 318.4 134.4 320.8 132.0M326.9 136.9 333.4 133.1M339.2 136.9 345.9 134.7M351.6 136.9 358.0 135.9M363.9 136.9 370.1 136.5M376.2 136.9 382.4 136.7M388.5 136.9 394.7 136.7M400.8 136.9 407.0 136.7M413.1 136.9 419.3 136.7M425.4 136.9 431.7 136.7" stroke="#000" stroke-width="0.85" fill="none" stroke-linecap="round" stroke-linejoin="round"/><path d="M275.7 18.4L276.9 17.7L276.9 19.1ZM284.9 18.4L288.0 17.1L288.0 19.7ZM294.2 18.4L297.4 17.1L297.4 19.7ZM304.5 18.4L307.7 17.1L307.7 19.7ZM316.8 18.4L320.0 17.1L320.0 19.7ZM329.1 18.4L332.3 17.1L332.3 19.7ZM341.4 18.4L344.6 17.1L344.6 19.7ZM353.7 18.4L356.9 17.1L356.9 19.7ZM366.0 18.4L369.2 17.1L369.2 19.7ZM378.3 18.4L381.5 17.1L381.5 19.7ZM390.6 18.4L393.8 17.1L393.8 19.7ZM402.9 18.4L406.1 17.1L406.1 19.7ZM415.3 18.4L418.5 17.1L418.5 19.7ZM258.6 30.2L262.1 30.4L261.0 32.7ZM264.9 27.9L268.4 28.2L267.2 30.5ZM272.1 26.4L275.6 26.7L274.4 29.0ZM284.2 27.0L287.6 27.0L286.7 29.4ZM296.5 27.2L300.0 27.1L299.1 29.6ZM309.1 27.7L312.6 27.5L311.7 30.0ZM321.9 28.5L325.3 28.2L324.5 30.6ZM334.8 29.5L338.2 29.0L337.6 31.5ZM347.2 30.3L350.6 29.7L350.1 32.2ZM360.0 30.9L363.4 30.1L363.0 32.6ZM373.2 31.1L376.5 30.3L376.1 32.8ZM386.3 31.2L389.6 30.4L389.3 33.0ZM399.4 31.3L402.8 30.5L402.4 33.1ZM412.6 31.5L415.9 30.6L415.6 33.2ZM261.6 38.3L264.3 40.4L262.1 41.7ZM270.8 36.1L274.1 37.0L272.5 39.1ZM280.9 35.3L284.3 35.8L283.0 38.0ZM293.1 35.4L296.5 35.8L295.3 38.1ZM306.1 35.7L309.5 36.2L308.2 38.4ZM320.2 36.9L323.5 37.8L321.9 39.9ZM335.4 39.2L338.3 41.0L336.2 42.6ZM349.6 42.7L351.9 44.3L349.6 45.6ZM357.7 44.6L361.2 44.6L360.2 47.0ZM369.8 46.3L373.0 45.1L372.9 47.7ZM382.1 46.5L385.3 45.2L385.3 47.8ZM394.4 46.5L397.6 45.2L397.6 47.8ZM406.7 46.5L409.9 45.2L409.9 47.8ZM419.0 46.5L422.2 45.2L422.2 47.8ZM261.7 44.9L263.9 47.5L261.5 48.3ZM271.5 39.6L274.2 41.8L271.9 43.0ZM281.2 37.2L284.4 38.5L282.6 40.4ZM293.5 37.3L296.7 38.5L294.9 40.4ZM306.7 38.0L309.7 39.6L307.7 41.3ZM321.3 40.6L323.8 43.0L321.5 44.1ZM335.9 46.0L338.1 48.6L335.7 49.4ZM350.1 53.3L352.2 56.0L349.7 56.7ZM359.2 58.5L362.1 57.4L361.9 60.0ZM371.6 61.1L373.7 58.4L375.0 60.6ZM384.1 61.3L385.9 58.5L387.4 60.6ZM396.4 61.3L398.3 58.5L399.7 60.6ZM408.7 61.3L410.6 58.5L412.0 60.6ZM421.0 61.3L422.9 58.5L424.3 60.6ZM262.6 51.5L264.6 54.3L262.1 54.9ZM272.8 44.9L275.0 47.5L272.5 48.3ZM283.4 41.0L285.9 43.5L283.5 44.5ZM295.7 41.0L298.2 43.5L295.8 44.5ZM308.7 42.3L311.0 44.8L308.6 45.7ZM322.4 46.2L324.7 48.8L322.2 49.6ZM336.8 52.8L338.8 55.6L336.3 56.3ZM350.4 61.7L352.3 64.6L349.7 65.1ZM361.2 68.1L362.7 67.1L362.9 68.9ZM373.6 70.7L374.3 68.2L376.1 69.8ZM386.1 70.8L386.6 68.3L388.5 69.8ZM398.4 70.8L398.9 68.3L400.8 69.8ZM410.7 70.8L411.2 68.3L413.1 69.8ZM423.0 70.8L423.5 68.3L425.4 69.8ZM264.6 64.5L266.2 67.6L263.6 67.8ZM275.6 56.4L277.5 59.3L275.0 59.8ZM286.8 51.6L288.8 54.4L286.3 55.0ZM299.1 51.6L301.1 54.4L298.6 55.0ZM311.8 53.2L313.8 56.0L311.3 56.6ZM325.2 58.0L327.0 61.0L324.4 61.4ZM338.6 66.2L340.2 69.2L337.6 69.4ZM351.8 75.7L353.0 79.0L350.4 78.9ZM365.4 81.2L365.4 83.5L363.5 82.5ZM377.8 83.2L377.1 84.3L376.5 83.3ZM390.1 83.2L389.4 84.3L388.8 83.3ZM402.4 83.2L401.7 84.3L401.1 83.3ZM414.7 83.2L414.0 84.3L413.4 83.3ZM427.0 83.2L426.3 84.3L425.7 83.3ZM265.4 77.5L266.7 80.7L264.1 80.7ZM277.4 69.2L278.8 72.3L276.3 72.5ZM289.2 64.2L290.8 67.3L288.2 67.5ZM301.5 64.2L303.1 67.3L300.5 67.5ZM314.0 65.9L315.6 69.0L313.0 69.2ZM326.7 70.9L328.2 74.0L325.6 74.1ZM339.2 79.1L340.5 82.3L337.9 82.3ZM352.5 88.1L353.5 91.4L350.9 91.2ZM368.2 91.7L367.3 95.0L365.2 93.4ZM380.5 93.7L378.9 96.7L377.2 94.8ZM392.8 93.7L391.2 96.7L389.5 94.8ZM405.1 93.7L403.5 96.7L401.8 94.8ZM417.4 93.7L415.8 96.7L414.1 94.8ZM429.7 93.7L428.1 96.7L426.4 94.8ZM265.5 89.1L266.8 92.3L264.2 92.3ZM277.8 81.0L279.1 84.2L276.5 84.2ZM290.0 76.2L291.4 79.4L288.8 79.4ZM302.3 76.2L303.7 79.4L301.1 79.4ZM314.7 77.8L316.0 81.0L313.4 81.0ZM327.0 82.6L328.3 85.8L325.7 85.8ZM339.3 90.8L340.6 94.0L338.0 94.0ZM353.1 99.2L353.9 102.6L351.3 102.1ZM369.2 101.6L368.2 104.9L366.2 103.3ZM381.3 103.4L380.0 106.6L378.1 104.8ZM393.6 103.4L392.3 106.6L390.4 104.8ZM405.9 103.4L404.6 106.6L402.7 104.8ZM418.2 103.4L416.9 106.6L415.1 104.8ZM430.5 103.4L429.2 106.6L427.4 104.8ZM266.7 100.6L268.0 103.9L265.4 103.8ZM278.6 93.6L279.9 96.8L277.3 96.8ZM290.8 89.4L292.1 92.6L289.5 92.6ZM303.1 89.4L304.4 92.6L301.8 92.6ZM315.5 90.8L316.8 94.0L314.2 94.0ZM327.9 95.1L329.2 98.3L326.6 98.3ZM340.7 102.0L342.0 105.3L339.4 105.2ZM355.6 109.6L355.8 113.1L353.3 112.2ZM370.2 112.7L368.9 115.9L367.1 114.0ZM382.7 114.4L380.8 117.3L379.3 115.2ZM395.0 114.4L393.1 117.3L391.6 115.2ZM407.3 114.4L405.4 117.3L403.9 115.2ZM419.6 114.4L417.7 117.3L416.2 115.2ZM431.9 114.4L430.0 117.3L428.5 115.2ZM269.3 109.3L270.4 112.6L267.8 112.4ZM280.6 103.9L281.9 107.1L279.3 107.1ZM292.6 100.5L293.8 103.7L291.2 103.7ZM304.9 100.5L306.2 103.7L303.6 103.7ZM317.3 101.7L318.6 104.9L316.0 104.9ZM330.2 105.0L331.5 108.2L328.9 108.2ZM344.3 110.7L345.2 114.0L342.6 113.7ZM359.4 118.1L358.0 121.2L356.2 119.3ZM371.7 121.4L369.3 123.9L368.3 121.5ZM384.0 122.6L381.3 124.8L380.6 122.3ZM396.3 122.6L393.6 124.8L392.9 122.3ZM408.6 122.6L405.9 124.8L405.2 122.3ZM420.9 122.6L418.3 124.8L417.5 122.3ZM433.2 122.6L430.6 124.8L429.8 122.3ZM272.0 120.6L272.0 124.1L269.6 123.1ZM283.4 117.4L284.0 120.8L281.4 120.2ZM295.3 115.4L296.1 118.8L293.6 118.4ZM307.7 115.5L308.5 118.8L305.9 118.4ZM320.3 116.2L321.0 119.6L318.4 119.1ZM333.6 118.4L333.8 121.8L331.3 121.0ZM347.9 122.7L346.7 125.9L344.8 124.1ZM360.8 127.3L358.3 129.8L357.3 127.4ZM372.5 129.5L369.6 131.4L369.1 128.8ZM384.8 130.2L381.8 131.9L381.5 129.3ZM397.1 130.2L394.1 131.9L393.8 129.3ZM409.4 130.2L406.4 131.9L406.1 129.3ZM421.7 130.2L418.7 131.9L418.4 129.3ZM434.0 130.2L431.0 131.9L430.7 129.3ZM274.1 131.6L272.5 134.6L270.8 132.6ZM285.7 129.8L284.9 133.1L282.8 131.6ZM297.7 128.8L297.1 132.2L294.9 130.9ZM310.1 128.9L309.4 132.3L307.3 130.9ZM322.8 129.5L321.9 132.8L319.8 131.2ZM335.9 131.1L334.3 134.1L332.6 132.1ZM348.9 133.7L346.3 135.9L345.5 133.5ZM361.2 135.5L358.2 137.2L357.9 134.7ZM373.3 136.3L370.2 137.8L370.1 135.2ZM385.6 136.5L382.5 138.0L382.4 135.4ZM397.9 136.5L394.8 138.0L394.7 135.4ZM410.2 136.5L407.1 138.0L407.0 135.4ZM422.5 136.5L419.4 138.0L419.3 135.4ZM434.9 136.5L431.7 138.0L431.6 135.4Z" fill="#000"/>
</svg>
<rect x="265.4" y="13.4" width="164.1" height="128.9" fill="none" stroke="#333" stroke-width="1"/>
<path d="M265.4 13.4h-2.2M265.4 32.2h-2.2M265.4 46.5h-2.2M265.4 58.1h-2.2M265.4 67.9h-2.2M265.4 84.2h-2.2M265.4 97.4h-2.2M265.4 118.5h-2.2M265.4 131.2h-2.2M265.4 142.3h-2.2M429.5 25.2h2.2M429.5 47.5h2.2M429.5 70.5h2.2M429.5 92.6h2.2M429.5 114.2h2.2M265.4 142.3v2.2M306.4 142.3v2.2M347.4 142.3v2.2M388.5 142.3v2.2M429.5 142.3v2.2M273.6 142.3v1.3M281.8 142.3v1.3M290 142.3v1.3M298.2 142.3v1.3M314.6 142.3v1.3M322.8 142.3v1.3M331 142.3v1.3M339.2 142.3v1.3M355.7 142.3v1.3M363.9 142.3v1.3M372.1 142.3v1.3M380.3 142.3v1.3M396.7 142.3v1.3M404.9 142.3v1.3M413.1 142.3v1.3M421.3 142.3v1.3" stroke="#333" stroke-width="0.9" fill="none"/>
<text x="261.3" y="16.8" font-size="10.2" text-anchor="end">100</text>
<text x="261.3" y="35.6" font-size="10.2" text-anchor="end">150</text>
<text x="261.3" y="49.9" font-size="10.2" text-anchor="end">200</text>
<text x="261.3" y="61.5" font-size="10.2" text-anchor="end">250</text>
<text x="261.3" y="71.3" font-size="10.2" text-anchor="end">300</text>
<text x="261.3" y="87.6" font-size="10.2" text-anchor="end">400</text>
<text x="261.3" y="100.8" font-size="10.2" text-anchor="end">500</text>
<text x="261.3" y="121.9" font-size="10.2" text-anchor="end">700</text>
<text x="261.3" y="134.6" font-size="10.2" text-anchor="end">850</text>
<text x="261.3" y="145.7" font-size="10.2" text-anchor="end">1000</text>
<text x="433.7" y="28.6" font-size="10.2" text-anchor="start">15</text>
<text x="433.7" y="50.9" font-size="10.2" text-anchor="start">12</text>
<text x="433.7" y="73.9" font-size="10.2" text-anchor="start">9</text>
<text x="433.7" y="96" font-size="10.2" text-anchor="start">6</text>
<text x="433.7" y="117.6" font-size="10.2" text-anchor="start">3</text>
<text x="265.4" y="153.9" font-size="10.2" text-anchor="middle">0</text>
<text x="306.4" y="153.9" font-size="10.2" text-anchor="middle">10N</text>
<text x="347.4" y="153.9" font-size="10.2" text-anchor="middle">20N</text>
<text x="388.5" y="153.9" font-size="10.2" text-anchor="middle">30N</text>
<text x="429.5" y="153.9" font-size="10.2" text-anchor="middle">40N</text>
<text x="265.8" y="9" font-size="11.7" text-anchor="start">(b)AGCMs_P2:2019-2049</text>
<text x="235.7" y="77.8" font-size="10.0" text-anchor="middle" transform="rotate(-90 235.7 77.8)">Pressure(mb)</text>
<text x="453.8" y="77.5" font-size="10.0" text-anchor="middle" transform="rotate(-90 453.8 77.5)">Height/(km)</text>
<g>
<rect x="494.4" y="13.4" width="164.1" height="128.9" fill="#22477c"/>
<path fill="#3a68ad" d="M496.4 13.4 658.5 13.4 658.5 142.3 494.4 142.3 494.4 13.4ZM582.6 82.8 582.5 87.2 584.5 89.1 585.2 86.8 585.3 84.8 584.5 81.1Z"/>
<path fill="#4a88bd" d="M496.4 13.4 658.5 13.4 658.5 142.3 494.4 142.3 494.4 13.4ZM580.9 65 579.8 66.9 578.6 70.9 577.9 76.9 577.7 88.8 578.5 97 580.5 102.2 582.5 103.6 586.5 103.5 588.6 102.6 590.5 100.8 591.7 98.7 593.3 92.7 593.6 82.8 593 74.9 591.4 68.9 590.4 66.9 588.7 65 586.5 63.8 582.5 63.7Z"/>
<path fill="#62a4cb" d="M496.4 13.4 658.5 13.4 658.5 142.3 494.4 142.3 494.4 13.4ZM582.3 45.1 580.5 45.8 577.6 49.1 575.5 55 574.5 61 573.7 68.9 573.3 80.8 573.5 94.7 574.1 102.6 575.8 110.6 577.6 114.5 579.3 116.5 582.5 117.8 588.5 117.7 592.5 116.9 596.5 115 600.5 111.1 603 106.6 604.5 102.4 605.5 96.7 605.9 90.7 605.8 76.9 605.2 68.9 604.5 64.3 602.5 57.5 600.5 53.4 598.5 50.6 596.5 48.6 592.5 46.3 588.5 45.2 582.5 45.1ZM650 110.6 648.5 110.7 645.9 112.6 644.7 114.5 644.5 116.5 645.3 118.5 646.5 119.7 648.5 120.7 650.5 120.6 652.7 118.5 653.3 114.5 652.5 112 650.5 110.5Z"/>
<path fill="#8cc2da" d="M496.4 13.4 658.5 13.4 658.5 142.3 494.4 142.3 494.4 132.8 497.1 132.4 498.9 130.4 497.4 128.4 494.4 127.8 494.4 89.9 496.4 89.3 498.6 86.8 500.3 80.8 500.6 74.9 500.1 68.9 499 65 496.4 61.5 494.4 60.8 494.4 13.4ZM578.5 37.2 576.4 38.9 574.8 41.2 573 45.1 571.3 51.1 569.8 61 569.1 74.9 569.1 94.7 569.8 104.6 571.5 112.6 574.4 118.9 576.4 121.1 580.5 123 592.5 122.8 596.5 122.2 601.7 120.5 607.8 116.5 611.2 112.6 614.3 106.6 615.9 100.7 616.9 90.7 616.8 76.9 616.1 66.9 614.6 59 612.6 53.1 609.5 47.1 606.2 43.1 602.5 40.2 598.5 38.1 592.5 36.6 586.5 36.1 580.5 36.4ZM647.4 104.6 642.5 107.3 639.2 110.6 638.3 112.6 638.1 116.5 640 120.5 642.5 122.7 646.5 124.7 648.5 125 651.8 124.5 654.4 122.5 655.5 120.5 656.6 116.5 656.5 112.6 654.5 106.6 652.5 104.6 650.5 104 648.5 104.2Z"/>
<path fill="#b0d6e7" d="M496.4 13.4 658.5 13.4 658.5 108 656.5 101.6 654.5 98.1 652.5 96.1 650.5 95.2 648.5 95 644.5 95.6 642.5 94.7 641.3 92.7 640.4 88.8 639.4 70.9 638 61 635.7 53.1 631.8 45.1 627 39.2 622.3 35.2 615 31.2 608.5 29.1 597.2 27.3 582.5 26.9 578.5 27.6 576.4 28.7 573.9 31.2 570.4 37.9 567.8 49.1 566.3 65 565.9 84.8 566.4 102.6 568.2 114.5 571.3 122.5 574.4 126.4 576.4 127.9 578.5 128.7 582.5 129.2 594.5 129.1 604.5 128.2 613.4 126.4 626.5 121.6 628.5 121.3 630.5 121.4 632.5 122.2 642.5 127 646.5 128.1 650.5 128.2 654.5 126.4 656.3 124.5 658.5 119.4 658.5 142.3 494.4 142.3 494.4 136 498.4 135.6 501.5 134.4 503.8 132.4 504.5 130.4 503.9 128.4 501.8 126.4 498.4 125.1 494.4 124.6 494.4 96.8 496.4 96.5 498.4 95.4 500.4 93.3 501.9 90.7 503.7 84.8 504.4 74.9 503.9 66.9 502.3 61 500.4 57.5 498.4 55.5 496.4 54.4 494.4 54 494.4 13.4Z"/>
<path fill="#d3e7f0" d="M496.4 13.4 658.5 13.4 658.5 93.5 653.5 76.9 650.4 61 648.2 53.1 644.7 45.1 640.6 39.2 634.3 33.2 630.5 30.7 624.5 27.6 614.5 24.5 602.5 22.7 588.5 22.2 578.5 22.6 574.4 24.4 570.4 28.7 568.4 32.4 566.7 37.2 564.2 49.1 562.9 65 562.6 84.8 563 102.6 564.8 116.5 566.5 122.5 568.4 126.6 571.2 130.4 574.4 132.9 576.4 133.8 580.5 134.5 602.5 134.2 614.5 132.8 628.5 129.6 632.5 129.2 652.5 131.8 654.5 131.2 656.5 129.7 658.5 127 658.5 142.3 494.4 142.3 494.4 138.8 500.4 138 504.8 136.4 507.4 134.4 508.8 132.4 509.3 130.4 508.9 128.4 507.5 126.4 505.1 124.5 500.4 122.5 494.4 121.6 494.4 103.1 498.4 102.2 500.4 100.9 502.6 98.7 505.1 94.7 507.5 86.8 508.2 74.9 507.3 63 504.5 55 502.4 51.9 500.4 50 498.4 48.7 494.4 47.7 494.4 13.4Z"/>
<path fill="#eaf0f3" d="M496.4 13.4 658.5 13.4 658.5 52.5 654.4 43.1 651.9 39.2 648.5 35.1 644.3 31.2 640.5 28.6 634.5 25.3 629.7 23.3 623 21.3 616.5 20 598.5 18.4 578.5 18.4 574.4 19.5 571.2 21.3 567.5 25.3 565.2 29.3 562.9 35.2 561 43.1 559.9 53.1 559.7 82.8 559.9 108.6 560.9 118.5 562.7 124.5 565.5 130.4 568.4 134 571.6 136.4 574.4 137.6 578.5 138.4 598.5 138.5 614.5 137.4 632.5 134.5 640.8 134.4 642.5 134.6 648.5 137.7 652.5 138.6 656.5 137.5 658.5 135.7 658.5 142.3 494.4 142.3 500.4 141.9 506.4 140.2 510.4 138.2 512.7 136.4 514.3 134.4 510.4 123 508.4 121.1 500.4 117.5 494.4 116.5 494.4 112.1 498.4 111.2 502.4 108.8 506.4 104.8 508.4 101.8 509.5 86.8 509.8 72.9 509.4 59 508.4 49.2 505.4 45.1 502.4 42.7 498.4 40.8 494.4 40.1 494.4 13.4Z"/>
<path fill="#f5eee8" d="M496.4 13.4 529.6 13.4 536.4 15.3 544.4 16.6 548.4 18.7 550.4 20.6 552.4 23.6 555.1 29.3 557.4 39.2 558.1 53.1 558.3 108.6 557.5 124.5 556.4 126.6 555.6 130.4 553.6 134.4 548.4 139.4 542.4 141.3 536.4 141.5 526.4 141 520.4 138.7 518.4 136.8 516.4 133.9 511.3 120.5 509.9 114.5 509.8 110.6 511 82.8 511.1 35.2 510.4 32.5 502.4 31.1 494.4 28.7 494.4 13.4Z"/>
<path fill="#f3d9c8" d="M520.4 20.9 524.4 19.7 528.4 19.8 542.4 21.4 546.4 22.8 548.4 24.3 551 27.3 553.1 31.2 555 37.2 556.9 49.1 557.4 57 557.4 114.5 555.5 126.4 553.1 132.4 551.7 134.4 548.4 137.6 544.4 139.3 540.4 139.8 528.4 139.7 524.4 138.9 520.4 136.7 518.4 134.4 515.5 128.4 512.9 120.5 511.8 114.5 511.6 106.6 512.8 47.1 513.9 37.2 515.5 29.3 516.8 25.3 518.4 22.6 519.8 21.3Z"/>
<path fill="#ecb99e" d="M524.4 25.3 528.4 24.6 538.4 25.2 542.4 25.7 546.4 27.1 548.4 28.6 550.6 31.2 552.4 34.6 554.5 41.2 556.1 51.1 556.7 61 557 100.7 556.5 114.5 555 124.5 553 130.4 550.4 134.5 548.4 136.4 546.4 137.5 540.4 138.9 530.4 138.9 526.4 138.4 522.4 136.7 519.8 134.4 517.5 130.4 515.3 124.5 513.9 118.5 513.1 112.6 512.9 102.6 513.6 61 514.5 47.1 515.8 39.2 517.5 33.2 520.4 28 522.4 26.2 524.4 25.3Z"/>
<path fill="#e5957a" d="M526.4 29 530.4 28.6 540.4 29.1 544.4 29.9 546.4 30.9 548.4 32.5 551.5 37.2 553.1 41.2 554.5 47.1 555.8 57 556.2 70.9 556.3 104.6 555.6 116.5 554.2 124.5 552.1 130.4 550.4 133.2 548.4 135.3 544.4 137.5 540.4 138.1 530.4 138.1 526.4 137.5 523.7 136.4 521.2 134.4 518.6 130.4 516.4 124.5 515 118.5 514.2 110.6 514 102.6 514.5 65 515.3 51.1 516.4 44.2 518.5 37.2 520.4 33.4 522.2 31.2 525.6 29.3Z"/>
<path fill="#d96b59" d="M528.4 32.7 540.4 32.8 544.4 33.7 546.4 34.7 549 37.2 551.4 41.2 552.8 45.1 554.4 53.1 555.3 63 555.6 76.9 555.5 104.6 554.9 116.5 553.4 124.5 551.2 130.4 548.4 134.2 544.4 136.6 540.4 137.3 532.4 137.4 528.4 137.1 524.4 135.8 522.4 134.3 519.7 130.4 517.4 124.5 516 118.5 515.2 110.6 515 100.7 515.4 66.9 516.3 53.1 517.8 45.1 520 39.2 522.4 35.8 524.4 34.1 526.5 33.2Z"/>
<path fill="#c9454a" d="M526.4 36.9 530.4 36 536.4 36 540.4 36.2 544.6 37.2 548.4 40 550.4 43.1 553 51.1 554.2 59 554.8 70.9 554.9 100.7 554.4 113 553.5 120.5 552 126.4 550.3 130.4 548.4 133 546.4 134.7 542.4 136.3 538.4 136.7 530.4 136.6 526.4 135.7 524 134.4 520.7 130.4 519 126.4 517.4 120.5 516.3 112.6 516 102.6 516.2 70.9 517 57 518.4 48.6 520.4 42.9 522.4 39.8 525.8 37.2Z"/>
<path fill="#b22434" d="M532.4 39.1 542.4 39.6 546.4 41.4 548.1 43.1 551.3 49.1 552.7 55 553.4 61 554.1 74.9 554.1 98.7 553.7 110.6 552.7 120.5 550.4 128.4 548.4 131.7 544.4 134.9 540.4 135.7 530.4 135.7 526.4 134.8 524.4 133.5 521.8 130.4 520 126.4 518.4 120.5 517.5 114.5 516.9 102.6 517.1 74.9 517.5 63 518.4 55 519.8 49.1 522.4 43.6 524.4 41.4 526.4 40.1 530.8 39.2Z"/>
<path fill="#8e1a2e" d="M526.4 42.7 530.4 41.6 534.4 41.5 540.4 41.6 544.4 42.7 546.4 44.1 548.4 46.5 550.4 50.8 551.4 55 552.4 60.4 553 72.9 553.1 100.7 552.6 114.5 550.4 125.8 548.4 130.1 546.4 132.5 543.1 134.4 540.4 134.9 532.4 135 528 134.4 524.7 132.4 522.4 129.4 519.8 122.5 518.4 114 518 106.6 518.4 65 520.4 51.6 522.4 46.8 524.4 44.2 525.8 43.1Z"/>
<path fill="#6c0a24" d="M532.4 45 538.4 45 542.4 45.7 544.4 46.6 546.4 48.5 548.4 52 549.5 55 550.4 59.4 551 65 551.6 76.9 551.6 98.7 550.4 117.8 548.4 125.3 546.4 128.9 544.4 130.8 540.4 132.2 530.4 132 526.4 130.2 524.4 128 522.6 124.5 520.4 117 519.5 98.7 519.7 74.9 520.5 61 522.4 52.4 524.4 48.6 526.4 46.6 530.7 45.1Z"/>
</g>
<svg x="494.4" y="13.4" width="164.1" height="128.9" viewBox="494.4 13.4 164.1 128.9" overflow="hidden">
<path d="M506.7 18.4 505.6 18.4M519.0 18.4 515.4 18.4M531.3 18.4 525.1 18.4M543.6 18.4 537.4 18.4M555.9 18.4 549.7 18.4M568.2 18.4 562.0 18.4M580.6 18.4 574.4 18.4M592.9 18.4 586.7 18.4M605.2 18.4 600.1 18.4M617.5 18.4 614.1 18.4M629.8 18.4 627.9 18.4M642.1 18.4 640.5 18.4M654.4 18.4 653.0 18.4M494.4 33.4 512.3 33.4M506.7 33.4 518.2 33.4M519.0 33.4 523.2 33.4M543.6 33.4 540.5 33.4M555.9 33.4 550.7 33.4M568.2 33.4 564.1 33.4M580.6 33.4 578.6 33.4M592.9 33.4 591.6 33.4M605.2 33.4 604.5 33.4M494.4 46.4 516.3 46.4M506.7 46.4 521.0 46.9M519.0 46.4 526.5 63.6M531.3 46.4 531.3 73.5M543.6 46.4 536.9 72.9M555.9 46.4 548.1 55.1M568.2 46.4 562.7 45.7M580.6 46.4 577.2 44.1M592.9 46.4 591.0 44.0M605.2 46.4 604.4 45.6M494.4 58.4 511.2 58.4M506.7 58.4 517.5 59.1M519.0 58.4 525.2 82.8M531.3 58.4 531.3 96.5M543.6 58.4 538.1 95.5M555.9 58.4 549.4 70.6M568.2 58.4 564.2 56.9M580.6 58.4 577.1 51.1M592.9 58.4 590.6 49.1M605.2 58.4 604.6 56.5M494.4 67.9 507.2 67.9M506.7 67.9 514.7 68.5M519.0 67.9 524.0 92.2M531.3 67.9 531.3 106.0M543.6 67.9 539.2 105.0M555.9 67.9 550.8 79.9M568.2 67.9 565.5 66.6M580.6 67.9 577.9 60.7M592.9 67.9 591.1 58.7M605.2 67.9 604.7 66.0M519.0 84.2 519.0 108.5M531.3 84.2 531.3 122.3M543.6 84.2 543.6 121.3M555.9 84.2 555.9 96.0M568.2 84.2 568.2 83.1M580.6 84.2 580.6 77.2M592.9 84.2 592.9 75.0M605.2 84.2 605.2 82.2M519.0 97.4 519.0 121.7M531.3 97.4 531.3 135.5M543.6 97.4 543.6 134.5M555.9 97.4 555.9 109.2M568.2 97.4 568.2 96.3M580.6 97.4 580.6 90.4M592.9 97.4 592.9 88.2M605.2 97.4 605.6 94.7M617.5 97.4 619.1 95.2M629.8 97.4 631.3 95.6M642.1 97.4 643.6 95.6M654.4 97.4 655.9 95.6M519.0 108.6 519.0 132.9M531.3 108.6 531.3 146.7M543.6 108.6 543.6 145.7M555.9 108.6 555.9 120.4M568.2 108.6 568.2 107.5M580.6 108.6 580.6 101.6M592.9 108.6 592.9 99.4M605.2 108.6 605.6 105.8M617.5 108.6 619.3 106.1M629.8 108.6 631.5 106.5M642.1 108.6 643.8 106.5M654.4 108.6 656.1 106.5M519.0 118.5 519.0 142.8M531.3 118.5 531.3 156.6M543.6 118.5 543.6 155.6M555.9 118.5 555.9 130.3M568.2 118.5 568.2 117.7M580.6 118.5 580.6 113.9M592.9 118.5 592.9 112.3M605.2 118.5 605.5 116.6M617.5 118.5 619.3 116.1M629.8 118.5 631.5 116.4M642.1 118.5 643.8 116.4M654.4 118.5 656.1 116.4M519.0 124.9 519.0 147.7M531.3 124.9 531.3 160.8M543.6 124.9 543.7 159.9M555.9 124.9 556.0 136.0M580.6 124.9 580.6 123.0M592.9 124.9 592.9 122.4M605.2 124.9 605.6 123.6M617.5 124.9 619.3 122.6M629.8 124.9 631.6 122.8M642.1 124.9 643.9 122.8M654.4 124.9 656.2 122.8M519.0 131.2 516.9 147.8M531.3 131.2 530.8 157.8M543.6 131.2 544.7 157.1M555.9 131.2 557.7 139.0M568.2 131.2 569.2 131.0M580.6 131.2 581.8 130.2M592.9 131.2 594.2 130.0M605.2 131.2 606.9 130.3M617.5 131.2 621.9 128.3M629.8 131.2 634.2 128.4M642.1 131.2 646.5 128.4M654.4 131.2 658.8 128.4M494.4 136.9 495.3 136.9M519.0 136.9 515.4 148.1M531.3 136.9 530.3 155.1M543.6 136.9 545.6 154.6M555.9 136.9 558.9 142.0M568.2 136.9 570.1 136.8M580.6 136.9 583.2 136.3M592.9 136.9 595.9 136.2M605.2 136.9 608.8 136.2M617.5 136.9 622.8 135.1M629.8 136.9 635.1 135.2M642.1 136.9 647.5 135.2M654.4 136.9 659.8 135.2" stroke="#000" stroke-width="0.85" fill="none" stroke-linecap="round" stroke-linejoin="round"/><path d="M503.9 18.4L505.6 17.5L505.6 19.3ZM512.2 18.4L515.4 17.1L515.4 19.7ZM521.9 18.4L525.1 17.1L525.1 19.7ZM534.2 18.4L537.4 17.1L537.4 19.7ZM546.5 18.4L549.7 17.1L549.7 19.7ZM558.8 18.4L562.0 17.1L562.0 19.7ZM571.2 18.4L574.4 17.1L574.4 19.7ZM583.5 18.4L586.7 17.1L586.7 19.7ZM596.9 18.4L600.1 17.1L600.1 19.7ZM610.9 18.4L614.1 17.1L614.1 19.7ZM625.0 18.4L627.9 17.1L627.9 19.7ZM638.2 18.4L640.5 17.1L640.5 19.7ZM651.0 18.4L653.0 17.3L653.0 19.5ZM515.5 33.4L512.3 34.7L512.3 32.1ZM521.4 33.4L518.2 34.7L518.2 32.1ZM526.4 33.4L523.2 34.7L523.2 32.1ZM537.3 33.4L540.5 32.1L540.5 34.7ZM547.5 33.4L550.7 32.1L550.7 34.7ZM560.9 33.4L564.1 32.1L564.1 34.7ZM575.6 33.4L578.6 32.1L578.6 34.7ZM589.7 33.4L591.6 32.4L591.6 34.4ZM603.6 33.4L604.5 32.9L604.5 33.9ZM519.5 46.4L516.3 47.7L516.3 45.1ZM524.2 47.1L521.0 48.2L521.1 45.6ZM527.8 66.5L525.3 64.1L527.7 63.1ZM531.3 76.7L530.0 73.5L532.6 73.5ZM536.1 76.0L535.6 72.5L538.2 73.2ZM545.9 57.5L547.1 54.2L549.0 56.0ZM559.5 45.3L562.8 44.4L562.5 47.0ZM574.6 42.3L578.0 43.0L576.5 45.2ZM589.1 41.5L592.1 43.2L590.0 44.8ZM603.3 44.5L605.0 45.0L603.8 46.2ZM514.4 58.4L511.2 59.7L511.2 57.1ZM520.7 59.3L517.4 60.4L517.6 57.8ZM526.0 85.9L524.0 83.1L526.5 82.4ZM531.3 99.7L530.0 96.5L532.6 96.5ZM537.6 98.7L536.8 95.4L539.4 95.7ZM547.9 73.4L548.3 69.9L550.6 71.2ZM561.2 55.7L564.7 55.6L563.8 58.1ZM575.8 48.2L578.3 50.5L576.0 51.6ZM589.9 46.0L591.9 48.8L589.4 49.5ZM603.7 53.6L605.8 56.1L603.3 56.8ZM510.4 67.9L507.2 69.2L507.2 66.6ZM517.9 68.8L514.6 69.8L514.8 67.2ZM524.6 95.4L522.7 92.5L525.3 92.0ZM531.3 109.2L530.0 106.0L532.6 106.0ZM538.8 108.2L537.9 104.9L540.5 105.2ZM549.5 82.9L549.6 79.4L552.0 80.4ZM562.6 65.2L566.1 65.4L565.0 67.8ZM576.8 57.7L579.1 60.2L576.6 61.1ZM590.5 55.5L592.3 58.4L589.8 58.9ZM604.0 63.1L605.9 65.7L603.4 66.3ZM519.0 111.7L517.7 108.5L520.3 108.5ZM531.3 125.5L530.0 122.3L532.6 122.3ZM543.6 124.5L542.3 121.3L544.9 121.3ZM555.9 99.2L554.6 96.0L557.2 96.0ZM568.2 81.5L569.1 83.1L567.4 83.1ZM580.6 74.0L581.9 77.2L579.3 77.2ZM592.9 71.8L594.2 75.0L591.6 75.0ZM605.2 79.3L606.5 82.3L603.9 82.2ZM519.0 124.9L517.7 121.7L520.3 121.7ZM531.3 138.7L530.0 135.5L532.6 135.5ZM543.6 137.7L542.3 134.5L544.9 134.5ZM555.9 112.4L554.6 109.2L557.2 109.2ZM568.2 94.7L569.1 96.3L567.4 96.3ZM580.6 87.2L581.9 90.4L579.3 90.4ZM592.9 85.0L594.2 88.2L591.6 88.2ZM606.0 91.5L606.9 94.9L604.3 94.5ZM621.0 92.6L620.2 95.9L618.1 94.4ZM633.3 93.2L632.3 96.5L630.2 94.8ZM645.6 93.2L644.5 96.5L642.6 94.8ZM657.9 93.2L656.9 96.5L654.9 94.8ZM519.0 136.1L517.7 132.9L520.3 132.9ZM531.3 149.9L530.0 146.7L532.6 146.7ZM543.6 148.9L542.3 145.7L544.9 145.7ZM555.9 123.6L554.6 120.4L557.2 120.4ZM568.2 105.9L569.1 107.5L567.4 107.5ZM580.6 98.4L581.9 101.6L579.3 101.6ZM592.9 96.2L594.2 99.4L591.6 99.4ZM606.1 102.6L606.9 106.0L604.3 105.6ZM621.2 103.5L620.4 106.8L618.3 105.3ZM633.5 104.1L632.5 107.4L630.5 105.7ZM645.9 104.1L644.8 107.4L642.8 105.7ZM658.2 104.1L657.1 107.4L655.1 105.7ZM519.0 146.0L517.7 142.8L520.3 142.8ZM531.3 159.8L530.0 156.6L532.6 156.6ZM543.6 158.8L542.3 155.6L544.9 155.6ZM555.9 133.5L554.6 130.3L557.2 130.3ZM568.2 116.5L568.9 117.7L567.6 117.7ZM580.6 110.7L581.9 113.9L579.3 113.9ZM592.9 109.1L594.2 112.3L591.6 112.3ZM606.1 113.7L606.8 116.8L604.3 116.3ZM621.2 113.5L620.3 116.9L618.3 115.3ZM633.5 114.0L632.5 117.3L630.5 115.6ZM645.9 114.0L644.8 117.3L642.8 115.6ZM658.2 114.0L657.1 117.3L655.1 115.6ZM519.0 150.9L517.7 147.7L520.3 147.7ZM531.3 164.0L530.0 160.8L532.6 160.8ZM543.7 163.1L542.4 159.9L545.0 159.9ZM556.0 139.2L554.7 136.0L557.3 136.0ZM580.6 120.2L581.9 123.0L579.3 123.0ZM592.9 119.2L594.2 122.4L591.6 122.4ZM606.2 121.5L606.7 123.9L604.5 123.2ZM621.3 120.1L620.3 123.4L618.3 121.8ZM633.6 120.4L632.5 123.7L630.6 122.0ZM645.9 120.4L644.8 123.7L642.9 122.0ZM658.2 120.4L657.2 123.7L655.2 122.0ZM516.5 151.0L515.6 147.7L518.2 148.0ZM530.7 161.0L529.5 157.8L532.1 157.8ZM544.9 160.3L543.4 157.1L546.0 157.0ZM558.4 142.1L556.5 139.3L559.0 138.7ZM570.8 130.6L569.4 131.8L569.0 130.1ZM583.7 128.7L582.6 131.2L581.0 129.2ZM596.2 128.2L595.1 131.0L593.3 129.0ZM609.4 128.9L607.5 131.4L606.3 129.1ZM624.6 126.5L622.6 129.4L621.2 127.2ZM636.9 126.7L634.9 129.5L633.5 127.3ZM649.2 126.7L647.2 129.5L645.8 127.3ZM661.5 126.7L659.5 129.5L658.1 127.3ZM496.7 136.9L495.3 137.7L495.3 136.1ZM514.4 151.1L514.1 147.7L516.6 148.5ZM530.2 158.3L529.0 155.0L531.6 155.2ZM545.9 157.8L544.3 154.7L546.9 154.5ZM560.6 144.8L557.8 142.7L560.1 141.3ZM572.9 136.6L570.2 138.1L570.0 135.5ZM586.4 135.7L583.5 137.6L583.0 135.1ZM599.0 135.4L596.2 137.4L595.6 134.9ZM611.9 135.7L609.0 137.5L608.5 135.0ZM625.9 134.2L623.2 136.4L622.4 133.9ZM638.2 134.2L635.5 136.4L634.7 134.0ZM650.5 134.2L647.8 136.4L647.1 134.0ZM662.8 134.2L660.2 136.4L659.4 134.0Z" fill="#000"/>
<path d="M575.8 12.8h1.3v1.3h-1.3zM579.9 12.8h1.3v1.3h-1.3zM584.0 12.8h1.3v1.3h-1.3zM588.1 12.8h1.3v1.3h-1.3zM592.2 12.8h1.3v1.3h-1.3zM596.3 12.8h1.3v1.3h-1.3zM600.4 12.8h1.3v1.3h-1.3zM604.5 12.8h1.3v1.3h-1.3zM608.6 12.8h1.3v1.3h-1.3zM612.7 12.8h1.3v1.3h-1.3zM616.8 12.8h1.3v1.3h-1.3zM620.9 12.8h1.3v1.3h-1.3zM625.0 12.8h1.3v1.3h-1.3zM629.1 12.8h1.3v1.3h-1.3zM633.2 12.8h1.3v1.3h-1.3zM637.3 12.8h1.3v1.3h-1.3zM641.4 12.8h1.3v1.3h-1.3zM645.5 12.8h1.3v1.3h-1.3zM649.6 12.8h1.3v1.3h-1.3zM653.7 12.8h1.3v1.3h-1.3zM657.9 12.8h1.3v1.3h-1.3zM526.6 31.6h1.3v1.3h-1.3zM530.7 31.6h1.3v1.3h-1.3zM534.8 31.6h1.3v1.3h-1.3zM538.9 31.6h1.3v1.3h-1.3zM571.7 31.6h1.3v1.3h-1.3zM575.8 31.6h1.3v1.3h-1.3zM579.9 31.6h1.3v1.3h-1.3zM584.0 31.6h1.3v1.3h-1.3zM588.1 31.6h1.3v1.3h-1.3zM592.2 31.6h1.3v1.3h-1.3zM596.3 31.6h1.3v1.3h-1.3zM600.4 31.6h1.3v1.3h-1.3zM604.5 31.6h1.3v1.3h-1.3zM608.6 31.6h1.3v1.3h-1.3zM612.7 31.6h1.3v1.3h-1.3zM616.8 31.6h1.3v1.3h-1.3zM620.9 31.6h1.3v1.3h-1.3zM625.0 31.6h1.3v1.3h-1.3zM629.1 31.6h1.3v1.3h-1.3zM633.2 31.6h1.3v1.3h-1.3zM637.3 31.6h1.3v1.3h-1.3zM641.4 31.6h1.3v1.3h-1.3zM645.5 31.6h1.3v1.3h-1.3zM649.6 31.6h1.3v1.3h-1.3zM653.7 31.6h1.3v1.3h-1.3zM657.9 31.6h1.3v1.3h-1.3zM518.4 45.8h1.3v1.3h-1.3zM522.5 45.8h1.3v1.3h-1.3zM526.6 45.8h1.3v1.3h-1.3zM530.7 45.8h1.3v1.3h-1.3zM534.8 45.8h1.3v1.3h-1.3zM538.9 45.8h1.3v1.3h-1.3zM543.0 45.8h1.3v1.3h-1.3zM575.8 45.8h1.3v1.3h-1.3zM579.9 45.8h1.3v1.3h-1.3zM584.0 45.8h1.3v1.3h-1.3zM588.1 45.8h1.3v1.3h-1.3zM592.2 45.8h1.3v1.3h-1.3zM596.3 45.8h1.3v1.3h-1.3zM600.4 45.8h1.3v1.3h-1.3zM604.5 45.8h1.3v1.3h-1.3zM608.6 45.8h1.3v1.3h-1.3zM612.7 45.8h1.3v1.3h-1.3zM616.8 45.8h1.3v1.3h-1.3zM620.9 45.8h1.3v1.3h-1.3zM625.0 45.8h1.3v1.3h-1.3zM629.1 45.8h1.3v1.3h-1.3zM633.2 45.8h1.3v1.3h-1.3zM637.3 45.8h1.3v1.3h-1.3zM641.4 45.8h1.3v1.3h-1.3zM645.5 45.8h1.3v1.3h-1.3zM649.6 45.8h1.3v1.3h-1.3zM518.4 57.4h1.3v1.3h-1.3zM522.5 57.4h1.3v1.3h-1.3zM526.6 57.4h1.3v1.3h-1.3zM530.7 57.4h1.3v1.3h-1.3zM534.8 57.4h1.3v1.3h-1.3zM538.9 57.4h1.3v1.3h-1.3zM543.0 57.4h1.3v1.3h-1.3zM547.1 57.4h1.3v1.3h-1.3zM575.8 57.4h1.3v1.3h-1.3zM579.9 57.4h1.3v1.3h-1.3zM584.0 57.4h1.3v1.3h-1.3zM588.1 57.4h1.3v1.3h-1.3zM592.2 57.4h1.3v1.3h-1.3zM596.3 57.4h1.3v1.3h-1.3zM600.4 57.4h1.3v1.3h-1.3zM604.5 57.4h1.3v1.3h-1.3zM608.6 57.4h1.3v1.3h-1.3zM612.7 57.4h1.3v1.3h-1.3zM616.8 57.4h1.3v1.3h-1.3zM620.9 57.4h1.3v1.3h-1.3zM625.0 57.4h1.3v1.3h-1.3zM629.1 57.4h1.3v1.3h-1.3zM633.2 57.4h1.3v1.3h-1.3zM518.4 67.3h1.3v1.3h-1.3zM522.5 67.3h1.3v1.3h-1.3zM526.6 67.3h1.3v1.3h-1.3zM530.7 67.3h1.3v1.3h-1.3zM534.8 67.3h1.3v1.3h-1.3zM538.9 67.3h1.3v1.3h-1.3zM543.0 67.3h1.3v1.3h-1.3zM547.1 67.3h1.3v1.3h-1.3zM575.8 67.3h1.3v1.3h-1.3zM579.9 67.3h1.3v1.3h-1.3zM584.0 67.3h1.3v1.3h-1.3zM588.1 67.3h1.3v1.3h-1.3zM592.2 67.3h1.3v1.3h-1.3zM596.3 67.3h1.3v1.3h-1.3zM600.4 67.3h1.3v1.3h-1.3zM604.5 67.3h1.3v1.3h-1.3zM608.6 67.3h1.3v1.3h-1.3zM612.7 67.3h1.3v1.3h-1.3zM616.8 67.3h1.3v1.3h-1.3zM620.9 67.3h1.3v1.3h-1.3zM518.4 83.5h1.3v1.3h-1.3zM522.5 83.5h1.3v1.3h-1.3zM526.6 83.5h1.3v1.3h-1.3zM530.7 83.5h1.3v1.3h-1.3zM534.8 83.5h1.3v1.3h-1.3zM538.9 83.5h1.3v1.3h-1.3zM543.0 83.5h1.3v1.3h-1.3zM547.1 83.5h1.3v1.3h-1.3zM575.8 83.5h1.3v1.3h-1.3zM579.9 83.5h1.3v1.3h-1.3zM584.0 83.5h1.3v1.3h-1.3zM588.1 83.5h1.3v1.3h-1.3zM592.2 83.5h1.3v1.3h-1.3zM596.3 83.5h1.3v1.3h-1.3zM600.4 83.5h1.3v1.3h-1.3zM604.5 83.5h1.3v1.3h-1.3zM608.6 83.5h1.3v1.3h-1.3zM612.7 83.5h1.3v1.3h-1.3zM616.8 83.5h1.3v1.3h-1.3zM620.9 83.5h1.3v1.3h-1.3zM625.0 83.5h1.3v1.3h-1.3zM518.4 96.8h1.3v1.3h-1.3zM522.5 96.8h1.3v1.3h-1.3zM526.6 96.8h1.3v1.3h-1.3zM530.7 96.8h1.3v1.3h-1.3zM534.8 96.8h1.3v1.3h-1.3zM538.9 96.8h1.3v1.3h-1.3zM543.0 96.8h1.3v1.3h-1.3zM547.1 96.8h1.3v1.3h-1.3zM551.2 96.8h1.3v1.3h-1.3zM575.8 96.8h1.3v1.3h-1.3zM579.9 96.8h1.3v1.3h-1.3zM584.0 96.8h1.3v1.3h-1.3zM588.1 96.8h1.3v1.3h-1.3zM592.2 96.8h1.3v1.3h-1.3zM596.3 96.8h1.3v1.3h-1.3zM600.4 96.8h1.3v1.3h-1.3zM604.5 96.8h1.3v1.3h-1.3zM608.6 96.8h1.3v1.3h-1.3zM637.3 96.8h1.3v1.3h-1.3zM641.4 96.8h1.3v1.3h-1.3zM645.5 96.8h1.3v1.3h-1.3zM649.6 96.8h1.3v1.3h-1.3zM653.7 96.8h1.3v1.3h-1.3zM657.9 96.8h1.3v1.3h-1.3zM518.4 108.0h1.3v1.3h-1.3zM522.5 108.0h1.3v1.3h-1.3zM526.6 108.0h1.3v1.3h-1.3zM530.7 108.0h1.3v1.3h-1.3zM534.8 108.0h1.3v1.3h-1.3zM538.9 108.0h1.3v1.3h-1.3zM543.0 108.0h1.3v1.3h-1.3zM547.1 108.0h1.3v1.3h-1.3zM551.2 108.0h1.3v1.3h-1.3zM579.9 108.0h1.3v1.3h-1.3zM584.0 108.0h1.3v1.3h-1.3zM588.1 108.0h1.3v1.3h-1.3zM592.2 108.0h1.3v1.3h-1.3zM596.3 108.0h1.3v1.3h-1.3zM600.4 108.0h1.3v1.3h-1.3zM629.1 108.0h1.3v1.3h-1.3zM633.2 108.0h1.3v1.3h-1.3zM637.3 108.0h1.3v1.3h-1.3zM641.4 108.0h1.3v1.3h-1.3zM645.5 108.0h1.3v1.3h-1.3zM649.6 108.0h1.3v1.3h-1.3zM653.7 108.0h1.3v1.3h-1.3zM657.9 108.0h1.3v1.3h-1.3zM518.4 117.8h1.3v1.3h-1.3zM522.5 117.8h1.3v1.3h-1.3zM526.6 117.8h1.3v1.3h-1.3zM530.7 117.8h1.3v1.3h-1.3zM534.8 117.8h1.3v1.3h-1.3zM538.9 117.8h1.3v1.3h-1.3zM543.0 117.8h1.3v1.3h-1.3zM547.1 117.8h1.3v1.3h-1.3zM551.2 117.8h1.3v1.3h-1.3zM575.8 117.8h1.3v1.3h-1.3zM579.9 117.8h1.3v1.3h-1.3zM584.0 117.8h1.3v1.3h-1.3zM588.1 117.8h1.3v1.3h-1.3zM616.8 117.8h1.3v1.3h-1.3zM620.9 117.8h1.3v1.3h-1.3zM625.0 117.8h1.3v1.3h-1.3zM629.1 117.8h1.3v1.3h-1.3zM633.2 117.8h1.3v1.3h-1.3zM637.3 117.8h1.3v1.3h-1.3zM641.4 117.8h1.3v1.3h-1.3zM645.5 117.8h1.3v1.3h-1.3zM649.6 117.8h1.3v1.3h-1.3zM653.7 117.8h1.3v1.3h-1.3zM657.9 117.8h1.3v1.3h-1.3zM497.9 130.6h1.3v1.3h-1.3zM502.0 130.6h1.3v1.3h-1.3zM506.1 130.6h1.3v1.3h-1.3zM510.2 130.6h1.3v1.3h-1.3zM514.3 130.6h1.3v1.3h-1.3zM518.4 130.6h1.3v1.3h-1.3zM522.5 130.6h1.3v1.3h-1.3zM526.6 130.6h1.3v1.3h-1.3zM530.7 130.6h1.3v1.3h-1.3zM534.8 130.6h1.3v1.3h-1.3zM538.9 130.6h1.3v1.3h-1.3zM543.0 130.6h1.3v1.3h-1.3zM547.1 130.6h1.3v1.3h-1.3zM551.2 130.6h1.3v1.3h-1.3zM563.5 130.6h1.3v1.3h-1.3zM567.6 130.6h1.3v1.3h-1.3zM571.7 130.6h1.3v1.3h-1.3zM575.8 130.6h1.3v1.3h-1.3zM579.9 130.6h1.3v1.3h-1.3zM584.0 130.6h1.3v1.3h-1.3zM588.1 130.6h1.3v1.3h-1.3zM592.2 130.6h1.3v1.3h-1.3zM596.3 130.6h1.3v1.3h-1.3zM600.4 130.6h1.3v1.3h-1.3zM604.5 130.6h1.3v1.3h-1.3zM608.6 130.6h1.3v1.3h-1.3zM612.7 130.6h1.3v1.3h-1.3zM616.8 130.6h1.3v1.3h-1.3zM620.9 130.6h1.3v1.3h-1.3zM625.0 130.6h1.3v1.3h-1.3zM629.1 130.6h1.3v1.3h-1.3zM633.2 130.6h1.3v1.3h-1.3zM637.3 130.6h1.3v1.3h-1.3zM641.4 130.6h1.3v1.3h-1.3zM645.5 130.6h1.3v1.3h-1.3zM649.6 130.6h1.3v1.3h-1.3zM653.7 130.6h1.3v1.3h-1.3zM657.9 130.6h1.3v1.3h-1.3zM497.9 136.3h1.3v1.3h-1.3zM502.0 136.3h1.3v1.3h-1.3zM506.1 136.3h1.3v1.3h-1.3zM510.2 136.3h1.3v1.3h-1.3zM514.3 136.3h1.3v1.3h-1.3zM518.4 136.3h1.3v1.3h-1.3zM522.5 136.3h1.3v1.3h-1.3zM526.6 136.3h1.3v1.3h-1.3zM530.7 136.3h1.3v1.3h-1.3zM534.8 136.3h1.3v1.3h-1.3zM538.9 136.3h1.3v1.3h-1.3zM543.0 136.3h1.3v1.3h-1.3zM547.1 136.3h1.3v1.3h-1.3zM551.2 136.3h1.3v1.3h-1.3zM555.3 136.3h1.3v1.3h-1.3zM559.4 136.3h1.3v1.3h-1.3zM563.5 136.3h1.3v1.3h-1.3zM567.6 136.3h1.3v1.3h-1.3zM571.7 136.3h1.3v1.3h-1.3zM575.8 136.3h1.3v1.3h-1.3zM579.9 136.3h1.3v1.3h-1.3zM584.0 136.3h1.3v1.3h-1.3zM588.1 136.3h1.3v1.3h-1.3zM592.2 136.3h1.3v1.3h-1.3zM596.3 136.3h1.3v1.3h-1.3zM600.4 136.3h1.3v1.3h-1.3zM604.5 136.3h1.3v1.3h-1.3zM608.6 136.3h1.3v1.3h-1.3zM612.7 136.3h1.3v1.3h-1.3zM616.8 136.3h1.3v1.3h-1.3zM620.9 136.3h1.3v1.3h-1.3zM625.0 136.3h1.3v1.3h-1.3zM629.1 136.3h1.3v1.3h-1.3zM633.2 136.3h1.3v1.3h-1.3zM637.3 136.3h1.3v1.3h-1.3zM641.4 136.3h1.3v1.3h-1.3zM645.5 136.3h1.3v1.3h-1.3zM649.6 136.3h1.3v1.3h-1.3zM653.7 136.3h1.3v1.3h-1.3zM657.9 136.3h1.3v1.3h-1.3z" fill="#000"/>
</svg>
<rect x="494.4" y="13.4" width="164.1" height="128.9" fill="none" stroke="#333" stroke-width="1"/>
<path d="M494.4 13.4h-2.2M494.4 32.2h-2.2M494.4 46.5h-2.2M494.4 58.1h-2.2M494.4 67.9h-2.2M494.4 84.2h-2.2M494.4 97.4h-2.2M494.4 118.5h-2.2M494.4 131.2h-2.2M658.5 25.2h2.2M658.5 47.5h2.2M658.5 70.5h2.2M658.5 92.6h2.2M658.5 114.2h2.2M494.4 142.3v2.2M535.4 142.3v2.2M576.4 142.3v2.2M617.5 142.3v2.2M658.5 142.3v2.2M502.6 142.3v1.3M510.8 142.3v1.3M519 142.3v1.3M527.2 142.3v1.3M543.6 142.3v1.3M551.8 142.3v1.3M560 142.3v1.3M568.2 142.3v1.3M584.7 142.3v1.3M592.9 142.3v1.3M601.1 142.3v1.3M609.3 142.3v1.3M625.7 142.3v1.3M633.9 142.3v1.3M642.1 142.3v1.3M650.3 142.3v1.3" stroke="#333" stroke-width="0.9" fill="none"/>
<text x="490.3" y="16.8" font-size="10.2" text-anchor="end">100</text>
<text x="490.3" y="35.6" font-size="10.2" text-anchor="end">150</text>
<text x="490.3" y="49.9" font-size="10.2" text-anchor="end">200</text>
<text x="490.3" y="61.5" font-size="10.2" text-anchor="end">250</text>
<text x="490.3" y="71.3" font-size="10.2" text-anchor="end">300</text>
<text x="490.3" y="87.6" font-size="10.2" text-anchor="end">400</text>
<text x="490.3" y="100.8" font-size="10.2" text-anchor="end">500</text>
<text x="490.3" y="121.9" font-size="10.2" text-anchor="end">700</text>
<text x="490.3" y="134.6" font-size="10.2" text-anchor="end">850</text>
<text x="662.7" y="28.6" font-size="10.2" text-anchor="start">15</text>
<text x="662.7" y="50.9" font-size="10.2" text-anchor="start">12</text>
<text x="662.7" y="73.9" font-size="10.2" text-anchor="start">9</text>
<text x="662.7" y="96" font-size="10.2" text-anchor="start">6</text>
<text x="662.7" y="117.6" font-size="10.2" text-anchor="start">3</text>
<text x="494.4" y="153.9" font-size="10.2" text-anchor="middle">0</text>
<text x="535.4" y="153.9" font-size="10.2" text-anchor="middle">10N</text>
<text x="576.4" y="153.9" font-size="10.2" text-anchor="middle">20N</text>
<text x="617.5" y="153.9" font-size="10.2" text-anchor="middle">30N</text>
<text x="658.5" y="153.9" font-size="10.2" text-anchor="middle">40N</text>
<text x="494.8" y="9" font-size="11.7" text-anchor="start">(c)AGCMs_P2-P1</text>
<text x="464.7" y="77.8" font-size="10.0" text-anchor="middle" transform="rotate(-90 464.7 77.8)">Pressure(mb)</text>
<text x="682.8" y="77.5" font-size="10.0" text-anchor="middle" transform="rotate(-90 682.8 77.5)">Height/(km)</text>
<g>
<rect x="36.3" y="167.8" width="164.1" height="128.9" fill="#1e3a6c"/>
<path fill="#22447a" d="M38.3 167.8 200.4 167.8 200.4 296.7 36.3 296.7 36.3 167.8ZM68.2 217.4 66.3 218.7 64.3 221.5 63.6 225.3 62.3 228.6 62.3 243 63.3 245.1 64.3 250 66.3 253.1 68.3 254.1 70.3 254 72.2 253.1 74.9 249.1 76.3 244.2 77 239.2 76.9 231.3 76.3 227.3 74.3 221.3 72.3 218.7 70.3 217.4 68.3 217.3Z"/>
<path fill="#2c5a98" d="M38.3 167.8 200.4 167.8 200.4 296.7 36.3 296.7 36.3 167.8ZM65.5 213.4 63 217.4 61.2 223.3 60.6 227.3 60.7 245.1 61.2 249.1 63 255.1 64.3 258 66.3 260.6 68.3 261.6 72.3 261.4 74.3 260.8 77.3 259 79.4 257 82.4 253.1 84.3 248.3 85.3 243.2 85.9 233.2 84.3 224.2 82.3 219.7 80.7 217.4 76.3 213.4 74.3 212.5 70.3 211.6 68.3 211.6 66.3 212.5Z"/>
<path fill="#3a6eb0" d="M38.3 167.8 200.4 167.8 200.4 296.7 36.3 296.7 36.3 167.8ZM66.6 205.5 64.3 206.8 61.9 209.4 59.8 213.4 58 219.4 56.6 231.3 57.1 247.1 59.2 257 62.3 263.3 64.3 265.4 66.3 266.6 68.3 267 72.3 266.9 78.3 265.1 81.5 263 85.3 259 87.7 255.1 89.3 251.1 90.8 245.1 91.4 239.2 91.3 231.3 90.5 225.3 88.8 219.4 86.9 215.4 84.3 211.8 80.3 208.2 76.3 206.2 72.3 205.3 68.3 205.2Z"/>
<path fill="#4a87bd" d="M38.3 167.8 200.4 167.8 200.4 296.7 36.3 296.7 36.3 167.8ZM64.1 201.5 60.3 203.7 56.9 207.5 53.9 213.4 52.2 219.4 51.1 227.3 50.8 237.2 51.2 245.1 52.4 253.1 54.3 259 56.3 263 59.4 267 62 268.9 64.3 270 68.3 270.7 74.3 270.4 80.3 269 84.5 267 89.4 263 92.5 259 95.4 253.1 97 247.1 97.9 239.2 97.9 231.3 96.8 223.3 95 217.4 93 213.4 90.2 209.4 86 205.5 82.3 203.3 76.3 201.4 68.3 200.8 64.3 201.4Z"/>
<path fill="#5a9ec9" d="M38.3 167.8 200.4 167.8 200.4 296.7 36.3 296.7 36.3 167.8ZM66.1 197.5 60.3 198.9 55.9 201.5 52.1 205.5 48.7 211.4 46.7 217.4 45.4 225.3 44.9 237.2 45.5 247.1 46.5 253.1 48.3 259 51.4 265 54.8 268.9 58.3 271.4 64.3 273.5 68.3 273.9 76.3 273.6 84.3 271.9 91.2 268.9 96.5 265 101.3 259 104.1 253.1 106 245.1 106.6 237.2 106.2 227.3 104.4 219.4 101.9 213.4 97.5 207.5 92.9 203.5 86.3 200.1 80.3 198.4 74.3 197.6 66.3 197.5Z"/>
<path fill="#6aaed3" d="M38.3 167.8 200.4 167.8 200.4 296.7 36.3 296.7 36.3 167.8ZM58.7 195.6 52.3 198.5 46.9 203.5 43.2 209.4 40.4 217.4 38.9 227.3 38.7 241.2 39.8 251.1 41.9 259 44.8 265 47.8 268.9 52.3 272.8 56.3 274.9 62.3 276.5 68.3 277 78.3 276.6 86.3 275.1 94.3 271.8 100.3 267.4 105.5 261 108.4 255.1 110.7 245.1 111.2 237.2 110.8 227.3 108.8 217.4 106.1 211.4 102.3 206.1 98.3 202.3 92.3 198.5 86.3 196.3 78.3 194.7 68.3 194.3 60.3 195.1Z"/>
<path fill="#86bfdb" d="M38.3 167.8 200.4 167.8 200.4 296.7 36.3 296.7 36.3 261.4 39.3 267 44.7 272.9 50.3 276.4 56.3 278.6 64.3 279.7 76.3 279.6 84.3 278.8 92.3 276.9 98.3 274.2 103.4 270.9 107.6 267 111.7 261 114.3 255.1 115.7 249.1 116.4 243.2 116.6 235.2 116.4 227.3 115.1 219.4 113.2 213.4 110 207.5 106.9 203.5 102.3 199.4 96.3 195.9 90.3 193.6 82.3 192 72.3 191.3 62.3 191.5 54.3 193.1 48.6 195.6 43.3 199.5 39.9 203.5 36.3 209.9 36.3 167.8Z"/>
<path fill="#a2cfe2" d="M38.3 167.8 200.4 167.8 200.4 296.7 36.3 296.7 36.3 271.9 42.3 276.7 48.3 279.6 56.3 281.6 66.3 282.4 80.3 282.1 92.3 280.5 102.3 277.2 109.8 272.9 114.3 268.9 117.5 265 121.6 257 123.9 247.1 124.4 235.2 124.1 227.3 123.1 219.4 121.3 213.4 118.5 207.5 114.3 201.9 110.3 198.2 106.3 195.4 100.3 192.5 92.3 190 84.3 188.7 74.3 188.1 60.3 188.4 52.5 189.6 46.6 191.6 40.3 195.2 36.3 198.8 36.3 167.8Z"/>
<path fill="#b8dce7" d="M38.3 167.8 200.4 167.8 200.4 296.7 36.3 296.7 36.3 278.2 44.3 282 52.3 283.9 62.3 284.9 78.3 284.8 88.3 284.1 98.3 282.3 106.3 279.7 114.3 275.3 118.3 272.1 122.4 267.6 125.3 263 127.1 259 129.5 249.1 130.2 235.2 129.5 221.3 127 211.4 125.3 207.5 122.4 202.5 118.3 197.8 114.3 194.4 106.3 189.8 98.3 187.1 88.3 185.2 78.3 184.4 62.3 184.4 52.3 185.4 43.8 187.6 36.3 191.4 36.3 167.8Z"/>
<path fill="#d0e7ef" d="M38.3 167.8 200.4 167.8 200.4 296.7 36.3 296.7 36.3 282.9 44.3 285.5 54.3 287.1 64.3 287.6 82.3 287.4 92.3 286.4 100.3 284.9 108.3 282.3 115 278.9 122.4 272.9 126.4 267.7 128.9 263 130.9 257 132.1 251.1 132.9 235.2 132.1 219.4 131 213.4 129.2 207.5 126.4 201.5 123.6 197.5 120 193.6 115.1 189.6 108.3 185.9 100.3 183 92.3 181.4 82.3 180.4 64.3 180.2 54.3 180.7 44.3 182.4 36.3 185.2 36.3 167.8Z"/>
<path fill="#e0edf3" d="M38.3 167.8 200.4 167.8 200.4 296.7 36.3 296.7 36.3 286.8 44.3 288.7 54.3 289.9 72.3 290.2 86.3 289.8 94.3 289 102.3 287.4 110.3 284.8 116.3 281.9 122.4 277.5 126.4 273.3 129.4 268.9 132.2 263 133.9 257 134.9 251.1 135.5 235.2 134.8 217.4 133.2 209.4 131.3 203.5 128.4 197.5 125.6 193.6 122.1 189.6 116.3 185.1 110.3 181.8 102.3 179 94.3 177.3 86.3 176.3 72.3 175.9 54.3 176.3 44.3 177.6 36.3 179.7 36.3 167.8ZM173 191.6 171.3 193.6 165.2 207.5 160.4 220 151 247.1 146 257 145.8 259 146.4 259.8 148.4 261.1 150.5 261 152.4 259.5 158.4 251.7 164.4 242.2 171 229.3 184.9 199.5 185.1 195.6 184.3 193.6 182.6 191.6 180.4 190.3 178.4 189.8 176.4 189.9 174.4 190.6Z"/>
<path fill="#eff2f3" d="M38.3 167.8 200.4 167.8 200.4 296.7 36.3 296.7 36.3 290.3 50.3 292.4 74.3 292.9 92.3 292.1 104.3 290 110.3 288.2 116.3 285.5 122.4 281.6 126.4 278 128.4 276.9 132.4 276.1 136.4 273.2 140.4 275.1 146.4 274 150.4 273.9 160.4 276 166.4 276.7 186.4 276.9 188.4 276.2 190.1 274.9 191.4 272.9 191.6 270.9 191.6 217.4 192.3 197.5 191.6 187.6 191.6 175.7 189.7 173.7 186.4 172.8 164.4 173 148.4 174.9 140.4 173.6 132.4 172.9 98.3 172.7 78.3 171.3 58.3 171.4 36.3 172.7 36.3 167.8ZM136.4 263.8 136.5 268.9 136.2 265Z"/>
</g>
<svg x="36.3" y="167.8" width="164.1" height="128.9" viewBox="36.3 167.8 164.1 128.9" overflow="hidden">
<path d="M48.6 172.8 47.8 172.8M60.9 172.8 58.9 172.8M73.2 172.8 68.3 172.8M85.5 172.8 78.6 172.8M97.8 172.8 90.9 172.8M110.1 172.8 103.2 172.8M122.5 172.8 115.5 172.8M134.8 172.8 127.8 172.8M147.1 172.8 140.1 172.8M159.4 172.8 152.4 172.8M171.7 172.8 164.7 172.8M184.0 172.8 177.0 172.8M196.3 172.8 189.4 172.8M36.3 187.8 32.4 186.0M48.6 187.8 38.7 183.8M60.9 187.8 45.9 182.2M73.2 187.8 58.0 182.6M85.5 187.8 70.4 182.8M97.8 187.8 83.0 183.1M110.1 187.8 95.8 183.8M122.5 187.8 108.8 184.7M134.8 187.8 121.2 185.3M147.1 187.8 134.1 185.8M159.4 187.8 147.2 186.0M171.7 187.8 160.4 186.1M184.0 187.8 173.5 186.2M196.3 187.8 186.6 186.3M36.3 200.8 34.1 195.5M48.6 200.8 46.4 195.2 44.2 192.5M60.9 200.8 59.3 196.6 57.8 194.0 54.5 191.3M73.2 200.8 71.6 196.6 70.1 194.0 66.8 191.3M85.5 200.8 83.3 195.3 81.4 192.9 79.7 191.7M97.8 200.8 95.5 195.3 93.6 193.3M110.1 200.8 108.2 196.2M122.5 200.8 121.7 199.3M134.8 200.8 131.6 200.2M147.1 200.8 143.9 200.8M159.4 200.8 156.2 200.9M171.7 200.8 168.5 200.9M184.0 200.8 180.8 200.9M196.3 200.8 193.1 200.9M36.3 212.8 33.6 202.3M48.6 212.8 46.9 205.5 43.9 196.8M60.9 212.8 57.9 201.2 55.7 195.6 54.4 193.9M73.2 212.8 70.2 201.2 68.0 195.6 66.7 193.9M85.5 212.8 82.9 202.6 80.9 197.0 79.6 194.9M97.8 212.8 96.1 205.5 93.6 197.9M110.1 212.8 107.8 203.4M122.5 212.8 121.8 210.7M134.8 212.8 132.9 213.1M147.1 212.8 145.2 213.9M159.4 212.8 157.6 213.9M171.7 212.8 169.9 213.9M184.0 212.8 182.2 213.9M196.3 212.8 194.5 213.9M36.3 222.3 35.4 214.9 34.2 209.0M48.6 222.3 47.2 211.9 44.7 202.3M60.9 222.3 59.2 210.4 55.6 198.4M73.2 222.3 71.5 210.4 67.9 198.4M85.5 222.3 83.8 210.4 80.7 199.7M97.8 222.3 96.7 213.4 94.3 203.6M110.1 222.3 108.4 210.3M122.5 222.3 121.9 219.3M134.8 222.3 133.7 222.4M147.1 222.3 146.1 223.4M159.4 222.3 158.4 223.5M171.7 222.3 170.7 223.5M184.0 222.3 183.0 223.5M196.3 222.3 195.3 223.5M36.3 238.6 35.8 222.1M48.6 238.6 48.4 225.1 47.1 214.0M60.9 238.6 60.5 222.1 59.6 214.7 58.5 209.1M73.2 238.6 72.8 222.1 71.9 214.7 70.8 209.1M85.5 238.6 85.2 223.6 83.4 210.7M97.8 238.6 97.7 226.6 96.6 215.6M110.1 238.6 109.8 223.7M122.5 238.6 122.6 233.3M134.8 238.6 135.4 237.4M147.1 238.6 147.7 238.2M159.4 238.6 160.0 238.2M171.7 238.6 172.3 238.2M184.0 238.6 184.6 238.2M196.3 238.6 196.9 238.2M36.3 251.8 36.3 235.1M48.6 251.8 48.5 226.8M60.9 251.8 60.9 230.8 60.4 221.8M73.2 251.8 73.2 230.8 72.7 221.8M85.5 251.8 85.5 230.8 85.2 223.5M97.8 251.8 97.8 228.4M110.1 251.8 110.1 236.7M122.5 251.8 123.1 245.7M134.8 251.8 137.2 248.6M147.1 251.8 148.9 250.2M159.4 251.8 161.2 250.2M171.7 251.8 173.5 250.2M184.0 251.8 185.9 250.2M196.3 251.8 198.2 250.2M36.3 263.0 36.4 246.7M48.6 263.0 48.7 238.6M60.9 263.0 61.0 233.8M73.2 263.0 73.3 233.8M85.5 263.0 85.6 235.4M97.8 263.0 97.9 240.2M110.1 263.0 110.2 248.4M122.5 263.0 123.5 256.7M134.8 263.0 138.1 258.5M147.1 263.0 150.0 260.1M159.4 263.0 162.3 260.1M171.7 263.0 174.6 260.1M184.0 263.0 186.9 260.1M196.3 263.0 199.2 260.1M36.3 272.9 37.3 267.0 37.6 258.2M48.6 272.9 49.4 265.5 49.5 251.2M60.9 272.9 61.6 265.4 61.7 247.0M73.2 272.9 73.9 265.4 74.0 247.0M85.5 272.9 86.3 265.4 86.4 248.4M97.8 272.9 98.7 265.5 98.8 252.7M110.1 272.9 111.3 267.0 111.6 259.6M122.5 272.9 125.5 267.0M134.8 272.9 138.9 269.3M147.1 272.9 151.0 270.6M159.4 272.9 163.3 270.6M171.7 272.9 175.6 270.6M184.0 272.9 187.9 270.6M196.3 272.9 200.2 270.6M36.3 279.3 38.8 273.9 40.0 266.9M48.6 279.3 50.8 272.1 51.5 261.5M60.9 279.3 62.2 275.0 63.0 270.6 63.4 258.1M73.2 279.3 74.5 275.0 75.3 270.6 75.8 258.1M85.5 279.3 86.9 275.0 87.8 270.6 88.2 259.3M97.8 279.3 100.2 272.2 101.1 262.6M110.1 279.3 113.1 274.1 114.8 268.3M122.5 279.3 128.0 274.7M134.8 279.3 139.7 277.1M147.1 279.3 151.9 278.0M159.4 279.3 164.2 278.0M171.7 279.3 176.5 278.0M184.0 279.3 188.8 278.0M196.3 279.3 201.1 278.0M36.3 285.6 39.3 282.3 41.7 278.0M48.6 285.6 51.7 280.5 53.6 274.9M60.9 285.6 63.7 280.3 65.8 273.0M73.2 285.6 76.0 280.3 78.1 273.0M85.5 285.6 88.4 280.4 90.6 273.7M97.8 285.6 101.2 280.7 103.5 275.8M110.1 285.6 116.6 279.4M122.5 285.6 128.7 283.0M134.8 285.6 140.3 284.5M147.1 285.6 152.5 285.0M159.4 285.6 164.8 285.0M171.7 285.6 177.1 285.0M184.0 285.6 189.5 285.0M196.3 285.6 201.8 285.0M36.3 291.3 40.4 289.5 42.6 288.0M48.6 291.3 52.4 288.9 54.7 286.7M60.9 291.3 64.5 288.6 66.9 286.0M73.2 291.3 76.9 288.7 79.2 286.0M85.5 291.3 89.3 288.8 91.7 286.4M97.8 291.3 104.3 287.5M110.1 291.3 116.8 289.1M122.5 291.3 128.9 290.3M134.8 291.3 141.0 290.9M147.1 291.3 153.3 291.1M159.4 291.3 165.6 291.1M171.7 291.3 177.9 291.1M184.0 291.3 190.2 291.1M196.3 291.3 202.6 291.1" stroke="#000" stroke-width="0.85" fill="none" stroke-linecap="round" stroke-linejoin="round"/><path d="M46.6 172.8L47.8 172.1L47.8 173.5ZM55.8 172.8L58.9 171.5L58.9 174.1ZM65.1 172.8L68.3 171.5L68.3 174.1ZM75.4 172.8L78.6 171.5L78.6 174.1ZM87.7 172.8L90.9 171.5L90.9 174.1ZM100.0 172.8L103.2 171.5L103.2 174.1ZM112.3 172.8L115.5 171.5L115.5 174.1ZM124.6 172.8L127.8 171.5L127.8 174.1ZM136.9 172.8L140.1 171.5L140.1 174.1ZM149.2 172.8L152.4 171.5L152.4 174.1ZM161.5 172.8L164.7 171.5L164.7 174.1ZM173.8 172.8L177.0 171.5L177.0 174.1ZM186.2 172.8L189.4 171.5L189.4 174.1ZM29.5 184.6L33.0 184.8L31.9 187.1ZM35.8 182.3L39.3 182.6L38.1 184.9ZM43.0 180.8L46.5 181.1L45.3 183.4ZM55.1 181.4L58.5 181.4L57.6 183.8ZM67.4 181.6L70.9 181.5L70.0 184.0ZM80.0 182.1L83.5 181.9L82.6 184.4ZM92.8 182.9L96.2 182.6L95.4 185.0ZM105.7 183.9L109.1 183.4L108.5 185.9ZM118.1 184.7L121.5 184.1L121.0 186.6ZM130.9 185.3L134.3 184.5L133.9 187.0ZM144.1 185.5L147.4 184.7L147.0 187.2ZM157.2 185.6L160.5 184.8L160.2 187.4ZM170.3 185.7L173.7 184.9L173.3 187.5ZM183.5 185.9L186.8 185.0L186.5 187.6ZM32.5 192.7L35.2 194.8L33.0 196.1ZM41.7 190.5L45.0 191.4L43.4 193.5ZM51.8 189.7L55.2 190.2L53.9 192.4ZM64.0 189.8L67.4 190.2L66.2 192.5ZM77.0 190.1L80.4 190.6L79.1 192.8ZM91.1 191.3L94.4 192.2L92.8 194.3ZM106.3 193.6L109.2 195.4L107.1 197.0ZM120.5 197.1L122.8 198.7L120.5 200.0ZM128.6 199.0L132.1 199.0L131.1 201.4ZM140.7 200.7L143.9 199.5L143.8 202.1ZM153.0 200.9L156.2 199.6L156.2 202.2ZM165.3 200.9L168.5 199.6L168.5 202.2ZM177.6 200.9L180.8 199.6L180.8 202.2ZM189.9 200.9L193.1 199.6L193.1 202.2ZM32.6 199.3L34.8 201.9L32.4 202.7ZM42.4 194.0L45.1 196.2L42.8 197.4ZM52.1 191.6L55.3 192.9L53.5 194.8ZM64.4 191.7L67.6 192.9L65.8 194.8ZM77.6 192.4L80.6 194.0L78.6 195.7ZM92.2 195.0L94.7 197.4L92.4 198.5ZM106.8 200.4L109.0 203.0L106.6 203.8ZM121.0 207.7L123.1 210.4L120.6 211.1ZM130.1 212.9L133.0 211.8L132.8 214.4ZM142.5 215.5L144.6 212.8L145.9 215.0ZM155.0 215.7L156.8 212.9L158.3 215.0ZM167.3 215.7L169.2 212.9L170.6 215.0ZM179.6 215.7L181.5 212.9L182.9 215.0ZM191.9 215.7L193.8 212.9L195.2 215.0ZM33.5 205.9L35.5 208.7L33.0 209.3ZM43.7 199.3L45.9 201.9L43.4 202.7ZM54.3 195.4L56.8 197.9L54.4 198.9ZM66.6 195.4L69.1 197.9L66.7 198.9ZM79.6 196.7L81.9 199.2L79.5 200.1ZM93.3 200.6L95.6 203.2L93.1 204.0ZM107.7 207.2L109.7 210.0L107.2 210.7ZM121.3 216.1L123.2 219.0L120.6 219.5ZM132.1 222.5L133.6 221.5L133.8 223.3ZM144.5 225.1L145.2 222.6L147.0 224.2ZM157.0 225.2L157.5 222.7L159.4 224.2ZM169.3 225.2L169.8 222.7L171.7 224.2ZM181.6 225.2L182.1 222.7L184.0 224.2ZM193.9 225.2L194.4 222.7L196.3 224.2ZM35.5 218.9L37.1 222.0L34.5 222.2ZM46.5 210.8L48.4 213.7L45.9 214.2ZM57.7 206.0L59.7 208.8L57.2 209.4ZM70.0 206.0L72.0 208.8L69.5 209.4ZM82.7 207.6L84.7 210.4L82.2 211.0ZM96.1 212.4L97.9 215.4L95.3 215.8ZM109.5 220.6L111.1 223.6L108.5 223.8ZM122.7 230.1L123.9 233.4L121.3 233.3ZM136.3 235.6L136.3 237.9L134.4 236.9ZM148.7 237.6L148.0 238.7L147.4 237.7ZM161.0 237.6L160.3 238.7L159.7 237.7ZM173.3 237.6L172.6 238.7L172.0 237.7ZM185.6 237.6L184.9 238.7L184.3 237.7ZM197.9 237.6L197.2 238.7L196.6 237.7ZM36.3 231.9L37.6 235.1L35.0 235.1ZM48.3 223.6L49.7 226.7L47.2 226.9ZM60.1 218.6L61.7 221.7L59.1 221.9ZM72.4 218.6L74.0 221.7L71.4 221.9ZM84.9 220.3L86.5 223.4L83.9 223.6ZM97.6 225.3L99.1 228.4L96.5 228.5ZM110.1 233.5L111.4 236.7L108.8 236.7ZM123.4 242.5L124.4 245.8L121.8 245.6ZM139.1 246.1L138.2 249.4L136.1 247.8ZM151.4 248.1L149.8 251.1L148.1 249.2ZM163.7 248.1L162.1 251.1L160.4 249.2ZM176.0 248.1L174.4 251.1L172.7 249.2ZM188.3 248.1L186.7 251.1L185.0 249.2ZM200.6 248.1L199.0 251.1L197.3 249.2ZM36.4 243.5L37.7 246.7L35.1 246.7ZM48.7 235.4L50.0 238.6L47.4 238.6ZM60.9 230.6L62.3 233.8L59.7 233.8ZM73.2 230.6L74.6 233.8L72.0 233.8ZM85.6 232.2L86.9 235.4L84.3 235.4ZM97.9 237.0L99.2 240.2L96.6 240.2ZM110.2 245.2L111.5 248.4L108.9 248.4ZM124.0 253.6L124.8 257.0L122.2 256.5ZM140.1 256.0L139.1 259.3L137.1 257.7ZM152.2 257.8L150.9 261.0L149.0 259.2ZM164.5 257.8L163.2 261.0L161.3 259.2ZM176.8 257.8L175.5 261.0L173.6 259.2ZM189.1 257.8L187.8 261.0L186.0 259.2ZM201.4 257.8L200.1 261.0L198.3 259.2ZM37.6 255.0L38.9 258.3L36.3 258.2ZM49.5 248.0L50.8 251.2L48.2 251.2ZM61.7 243.8L63.0 247.0L60.4 247.0ZM74.0 243.8L75.3 247.0L72.7 247.0ZM86.4 245.2L87.7 248.4L85.1 248.4ZM98.8 249.5L100.1 252.7L97.5 252.7ZM111.6 256.4L112.9 259.7L110.3 259.6ZM126.5 264.0L126.7 267.5L124.2 266.6ZM141.1 267.1L139.8 270.3L138.0 268.4ZM153.6 268.8L151.7 271.7L150.2 269.6ZM165.9 268.8L164.0 271.7L162.5 269.6ZM178.2 268.8L176.3 271.7L174.8 269.6ZM190.5 268.8L188.6 271.7L187.1 269.6ZM202.8 268.8L200.9 271.7L199.4 269.6ZM40.2 263.7L41.3 267.0L38.7 266.8ZM51.5 258.3L52.8 261.5L50.2 261.5ZM63.5 254.9L64.7 258.1L62.1 258.1ZM75.8 254.9L77.1 258.1L74.5 258.1ZM88.2 256.1L89.5 259.3L86.9 259.3ZM101.1 259.4L102.4 262.6L99.8 262.6ZM115.2 265.1L116.1 268.4L113.5 268.1ZM130.3 272.5L128.9 275.6L127.1 273.7ZM142.6 275.8L140.2 278.3L139.2 275.9ZM154.9 277.0L152.2 279.2L151.5 276.7ZM167.2 277.0L164.5 279.2L163.8 276.7ZM179.5 277.0L176.8 279.2L176.1 276.7ZM191.8 277.0L189.2 279.2L188.4 276.7ZM204.1 277.0L201.5 279.2L200.7 276.7ZM42.9 275.0L42.9 278.5L40.5 277.5ZM54.3 271.8L54.9 275.2L52.3 274.6ZM66.2 269.8L67.0 273.2L64.5 272.8ZM78.6 269.9L79.4 273.2L76.8 272.8ZM91.2 270.6L91.9 274.0L89.3 273.5ZM104.5 272.8L104.7 276.2L102.2 275.4ZM118.8 277.1L117.6 280.3L115.7 278.5ZM131.7 281.7L129.2 284.2L128.2 281.8ZM143.4 283.9L140.5 285.8L140.0 283.2ZM155.7 284.6L152.7 286.3L152.4 283.7ZM168.0 284.6L165.0 286.3L164.7 283.7ZM180.3 284.6L177.3 286.3L177.0 283.7ZM192.6 284.6L189.6 286.3L189.3 283.7ZM204.9 284.6L201.9 286.3L201.6 283.7ZM45.0 286.0L43.4 289.0L41.7 287.0ZM56.6 284.2L55.8 287.5L53.7 286.0ZM68.6 283.2L68.0 286.6L65.8 285.3ZM81.0 283.3L80.3 286.7L78.2 285.3ZM93.7 283.9L92.8 287.2L90.7 285.6ZM106.8 285.5L105.2 288.5L103.5 286.5ZM119.8 288.1L117.2 290.3L116.4 287.9ZM132.1 289.9L129.1 291.6L128.8 289.1ZM144.2 290.7L141.1 292.2L141.0 289.6ZM156.5 290.9L153.4 292.4L153.3 289.8ZM168.8 290.9L165.7 292.4L165.6 289.8ZM181.1 290.9L178.0 292.4L177.9 289.8ZM193.4 290.9L190.3 292.4L190.2 289.8ZM205.8 290.9L202.6 292.4L202.5 289.8Z" fill="#000"/>
</svg>
<rect x="36.3" y="167.8" width="164.1" height="128.9" fill="none" stroke="#333" stroke-width="1"/>
<path d="M36.3 167.8h-2.2M36.3 186.6h-2.2M36.3 200.9h-2.2M36.3 212.5h-2.2M36.3 222.3h-2.2M36.3 238.6h-2.2M36.3 251.8h-2.2M36.3 272.9h-2.2M36.3 285.6h-2.2M36.3 296.7h-2.2M200.4 179.6h2.2M200.4 201.9h2.2M200.4 224.9h2.2M200.4 247h2.2M200.4 268.6h2.2M36.3 296.7v2.2M77.3 296.7v2.2M118.3 296.7v2.2M159.4 296.7v2.2M200.4 296.7v2.2M44.5 296.7v1.3M52.7 296.7v1.3M60.9 296.7v1.3M69.1 296.7v1.3M85.5 296.7v1.3M93.7 296.7v1.3M101.9 296.7v1.3M110.1 296.7v1.3M126.6 296.7v1.3M134.8 296.7v1.3M143 296.7v1.3M151.2 296.7v1.3M167.6 296.7v1.3M175.8 296.7v1.3M184 296.7v1.3M192.2 296.7v1.3" stroke="#333" stroke-width="0.9" fill="none"/>
<text x="32.2" y="171.2" font-size="10.2" text-anchor="end">100</text>
<text x="32.2" y="190" font-size="10.2" text-anchor="end">150</text>
<text x="32.2" y="204.3" font-size="10.2" text-anchor="end">200</text>
<text x="32.2" y="215.9" font-size="10.2" text-anchor="end">250</text>
<text x="32.2" y="225.7" font-size="10.2" text-anchor="end">300</text>
<text x="32.2" y="242" font-size="10.2" text-anchor="end">400</text>
<text x="32.2" y="255.2" font-size="10.2" text-anchor="end">500</text>
<text x="32.2" y="276.3" font-size="10.2" text-anchor="end">700</text>
<text x="32.2" y="289" font-size="10.2" text-anchor="end">850</text>
<text x="32.2" y="300.1" font-size="10.2" text-anchor="end">1000</text>
<text x="204.6" y="183" font-size="10.2" text-anchor="start">15</text>
<text x="204.6" y="205.3" font-size="10.2" text-anchor="start">12</text>
<text x="204.6" y="228.3" font-size="10.2" text-anchor="start">9</text>
<text x="204.6" y="250.4" font-size="10.2" text-anchor="start">6</text>
<text x="204.6" y="272" font-size="10.2" text-anchor="start">3</text>
<text x="36.3" y="308.3" font-size="10.2" text-anchor="middle">0</text>
<text x="77.3" y="308.3" font-size="10.2" text-anchor="middle">10N</text>
<text x="118.3" y="308.3" font-size="10.2" text-anchor="middle">20N</text>
<text x="159.4" y="308.3" font-size="10.2" text-anchor="middle">30N</text>
<text x="200.4" y="308.3" font-size="10.2" text-anchor="middle">40N</text>
<text x="36.7" y="163.4" font-size="11.7" text-anchor="start">(d)CGCMs_P1:1984-2014</text>
<text x="6.6" y="232.2" font-size="10.0" text-anchor="middle" transform="rotate(-90 6.6 232.2)">Pressure(mb)</text>
<text x="224.7" y="231.9" font-size="10.0" text-anchor="middle" transform="rotate(-90 224.7 231.9)">Height/(km)</text>
<g>
<rect x="265.4" y="167.8" width="164.1" height="128.9" fill="#1e3a6c"/>
<path fill="#22447a" d="M267.4 167.8 429.5 167.8 429.5 296.7 265.4 296.7 265.4 167.8ZM295.5 225.3 294 229.3 293.4 232.5 293.3 237.2 293.7 241.2 295.4 246.1 297.4 248 299.4 247.8 301.4 245.3 302.2 243.2 302.9 239.2 303 233.2 301.4 226.2 299.4 223.7 297.4 223.5Z"/>
<path fill="#2c5a98" d="M267.4 167.8 429.5 167.8 429.5 296.7 265.4 296.7 265.4 167.8ZM297.7 213.4 295.4 214.4 293.4 217.1 291.2 223.3 290.1 229.3 290.1 241.2 290.7 247.1 293.4 255.6 295.4 258.3 297.4 259.4 299.4 259.4 301.5 259 305.1 257 308.4 253.1 310.3 249.1 311.5 245.1 312.4 235.2 311.6 227.3 310.4 223.3 308.4 219.4 304.7 215.4 301.4 213.8 299.4 213.4Z"/>
<path fill="#3a6eb0" d="M267.4 167.8 429.5 167.8 429.5 296.7 265.4 296.7 265.4 167.8ZM295.4 207.5 293.4 208.9 291.4 211.4 289.6 215.4 288 221.3 286.8 233.2 287.4 247.1 289.6 257 291.4 260.9 292.9 263 295.4 265 297.4 265.6 303.4 265 307.4 263.3 310.5 261 313.8 257 315.9 253.1 317.4 249.1 318.6 243.2 319 237.2 318.7 229.3 317.5 223.3 316.1 219.4 313.9 215.4 311.4 212.2 307.9 209.4 305.4 208.2 301.4 207.1 297.4 206.9Z"/>
<path fill="#4a87bd" d="M267.4 167.8 429.5 167.8 429.5 296.7 265.4 296.7 265.4 167.8ZM291.7 203.5 287.6 207.5 285.4 211.4 283.3 217.4 282.1 223.3 281.5 231.3 281.5 241.2 282.3 249.1 283.5 255.1 284.9 259 287.4 263.8 290.2 267 293.4 269 297.4 269.8 303.4 269.5 307.4 268.6 311.2 267 316.5 263 319.4 259.4 321.9 255.1 324 249.1 325 243.2 325.4 235.2 324.9 227.3 323.7 221.3 321.4 215.4 318.9 211.4 315.4 207.6 312.6 205.5 308.7 203.5 303.4 202.1 297.4 201.8 293.4 202.6Z"/>
<path fill="#5a9ec9" d="M267.4 167.8 429.5 167.8 429.5 296.7 265.4 296.7 265.4 167.8ZM290.1 199.5 285.4 202.5 281.2 207.5 278.4 213.4 276.7 219.4 275.5 229.3 275.4 241.2 276.2 249.1 278.1 257 280.7 263 283.5 267 287.4 270.4 291.4 272.3 295.4 273.1 303.4 273 309.4 272.1 313.6 270.9 318 268.9 323.4 265 328.3 259 331.2 253.1 333.1 245.1 333.6 237.2 333.2 227.3 331.5 219.4 328.9 213.4 326.2 209.4 322.4 205.5 316.3 201.5 310.9 199.5 303.4 198.3 295.4 198.2 291.4 199Z"/>
<path fill="#6aaed3" d="M267.4 167.8 429.5 167.8 429.5 296.7 265.4 296.7 265.4 167.8ZM290.7 195.6 284.8 197.5 279.2 201.5 274.6 207.5 271.9 213.4 270 221.3 269.1 231.3 269.3 245.1 271 255.1 273.1 261 276.6 267 280.4 270.9 285.4 274.1 289.4 275.5 295.4 276.3 303.4 276.3 311.4 275.3 319.4 273 325.4 269.7 331.4 264.3 335.4 258.2 338.1 251.1 339.4 243.2 339.6 231.3 338.3 221.3 336.4 215.4 333.2 209.4 329.4 204.9 323.4 200.4 317.3 197.5 309.4 195.6 299.4 194.9 291.4 195.4Z"/>
<path fill="#86bfdb" d="M267.4 167.8 429.5 167.8 429.5 296.7 265.4 296.7 265.4 258.6 268.3 265 272.8 270.9 277.9 274.9 283.4 277.4 291.4 279.1 301.4 279.3 311.4 278.6 319.3 276.9 325.4 274.4 331.1 270.9 335.3 267 338.3 263 341.4 257 343.2 251.1 344.3 243.2 344.5 235.2 344.2 227.3 342.9 219.4 341 213.4 337.8 207.5 334.6 203.5 329.4 199.1 323.4 195.8 317.4 193.8 309.4 192.3 299.4 191.8 291.4 192.1 283.4 193.7 277.4 196.6 271.7 201.5 267.7 207.5 265.4 212.8 265.4 167.8Z"/>
<path fill="#a2cfe2" d="M267.4 167.8 429.5 167.8 429.5 296.7 265.4 296.7 265.4 270.8 269.8 274.9 276.8 278.9 283.4 280.8 293.4 282 307.4 281.8 319.4 280.4 329.4 277.4 337.6 272.9 342.2 268.9 345.4 265 349.5 257 351.8 247.1 352.4 235.2 352.1 227.3 351.4 221.3 350 215.4 347.5 209.4 343.6 203.5 339.7 199.5 334.1 195.6 329.4 193.2 321.4 190.6 313.4 189.2 303.4 188.6 289.4 188.9 281.4 190.2 275.4 192.4 270.2 195.6 265.4 200 265.4 167.8Z"/>
<path fill="#b8dce7" d="M267.4 167.8 429.5 167.8 429.5 296.7 265.4 296.7 265.4 277.6 271.6 280.8 281.4 283.6 291.4 284.6 307.4 284.5 319.4 283.6 329.4 281.5 336.5 278.9 343.4 274.9 348.1 270.9 351.5 267 355.8 259 357.5 253.7 358.3 249.1 358.9 235.2 358.2 221.3 355.7 211.4 351.5 203.2 347.4 198.5 343.4 195 335.4 190.4 327.4 187.6 319.4 185.9 307.4 184.9 291.4 184.9 281.4 185.9 273.4 188 265.4 192.2 265.4 167.8Z"/>
<path fill="#d0e7ef" d="M267.4 167.8 429.5 167.8 429.5 296.7 265.4 296.7 265.4 282.5 273.4 285.2 283.4 286.9 293.4 287.3 311.4 287.1 321.4 286.2 329.4 284.6 337.4 282 343.6 278.9 347.4 276.1 351.5 272.4 355.5 267.2 357.7 263 359.8 257 361 251.1 361.8 235.2 361 219.4 359.9 213.4 358 207.5 355.5 202.2 352.3 197.5 348.6 193.6 343.6 189.6 337.4 186.3 329.4 183.4 321.4 181.8 311.4 180.8 293.4 180.5 283.4 181 273.4 182.8 265.4 185.7 265.4 167.8Z"/>
<path fill="#e0edf3" d="M267.4 167.8 429.5 167.8 429.5 296.7 265.4 296.7 265.4 286.6 273.4 288.5 283.4 289.7 295.4 290.1 313.4 289.8 323.4 288.8 331.4 287.3 339.1 284.8 345.4 281.7 349.6 278.9 353.9 274.9 357.5 270.2 360.3 265 361.8 261 363.6 253.1 364.3 245.1 364.5 235.2 363.7 217.4 362.2 209.4 360.2 203.5 357.5 197.9 354.4 193.6 350.8 189.6 345.4 185.4 339.4 182.1 331.4 179.2 323.4 177.5 313.4 176.4 295.4 176.1 283.4 176.5 273.4 177.8 265.4 180 265.4 167.8ZM402.1 191.6 400.4 193.6 394.3 207.5 389.5 220 380.1 247.1 375.1 257 374.9 259 375.5 259.8 377.5 261.1 379.6 261 381.5 259.5 387.5 251.7 393.5 242.2 400.1 229.3 414 199.5 414.2 195.6 413.4 193.6 411.7 191.6 409.5 190.3 407.5 189.8 405.5 189.9 403.5 190.6Z"/>
<path fill="#eff2f3" d="M267.4 167.8 429.5 167.8 429.5 296.7 265.4 296.7 265.4 290.2 279.4 292.3 303.4 292.8 321.4 292 333.4 289.9 339.4 288.1 345.4 285.4 351.5 281.5 355.5 277.9 357.5 276.9 361.5 276.1 365.5 273.2 369.5 275.1 375.5 274 379.5 273.9 389.5 276 395.5 276.7 415.5 276.9 417.5 276.2 419.2 274.9 420.5 272.9 420.7 270.9 420.7 217.4 421.4 197.5 420.7 187.6 420.7 175.7 418.8 173.7 415.5 172.8 393.5 173 377.5 174.9 369.5 173.6 361.5 172.9 327.4 172.7 307.4 171.5 287.4 171.5 265.4 172.7 265.4 167.8ZM365.5 263.8 365.6 268.9 365.3 265Z"/>
</g>
<svg x="265.4" y="167.8" width="164.1" height="128.9" viewBox="265.4 167.8 164.1 128.9" overflow="hidden">
<path d="M277.7 172.8 276.9 172.8M290.0 172.8 288.0 172.8M302.3 172.8 297.4 172.8M314.6 172.8 307.7 172.8M326.9 172.8 320.0 172.8M339.2 172.8 332.3 172.8M351.6 172.8 344.6 172.8M363.9 172.8 356.9 172.8M376.2 172.8 369.2 172.8M388.5 172.8 381.5 172.8M400.8 172.8 393.8 172.8M413.1 172.8 406.1 172.8M425.4 172.8 418.5 172.8M265.4 187.8 261.5 186.0M277.7 187.8 267.8 183.8M290.0 187.8 275.0 182.2M302.3 187.8 287.1 182.6M314.6 187.8 299.5 182.8M326.9 187.8 312.1 183.1M339.2 187.8 324.9 183.8M351.6 187.8 337.9 184.7M363.9 187.8 350.3 185.3M376.2 187.8 363.2 185.8M388.5 187.8 376.3 186.0M400.8 187.8 389.5 186.1M413.1 187.8 402.6 186.2M425.4 187.8 415.7 186.3M265.4 200.8 263.2 195.5M277.7 200.8 275.5 195.2 273.3 192.5M290.0 200.8 288.4 196.6 286.9 194.0 283.6 191.3M302.3 200.8 300.7 196.6 299.2 194.0 295.9 191.3M314.6 200.8 312.4 195.3 310.5 192.9 308.8 191.7M326.9 200.8 324.6 195.3 322.7 193.3M339.2 200.8 337.3 196.2M351.6 200.8 350.8 199.3M363.9 200.8 360.7 200.2M376.2 200.8 373.0 200.8M388.5 200.8 385.3 200.9M400.8 200.8 397.6 200.9M413.1 200.8 409.9 200.9M425.4 200.8 422.2 200.9M265.4 212.8 262.7 202.3M277.7 212.8 276.0 205.5 273.0 196.8M290.0 212.8 287.0 201.2 284.8 195.6 283.5 193.9M302.3 212.8 299.3 201.2 297.1 195.6 295.8 193.9M314.6 212.8 312.0 202.6 310.0 197.0 308.7 194.9M326.9 212.8 325.2 205.5 322.7 197.9M339.2 212.8 336.9 203.4M351.6 212.8 350.9 210.7M363.9 212.8 362.0 213.1M376.2 212.8 374.3 213.9M388.5 212.8 386.7 213.9M400.8 212.8 399.0 213.9M413.1 212.8 411.3 213.9M425.4 212.8 423.6 213.9M265.4 222.3 264.5 214.9 263.3 209.0M277.7 222.3 276.3 211.9 273.8 202.3M290.0 222.3 288.3 210.4 284.7 198.4M302.3 222.3 300.6 210.4 297.0 198.4M314.6 222.3 312.9 210.4 309.8 199.7M326.9 222.3 325.8 213.4 323.4 203.6M339.2 222.3 337.5 210.3M351.6 222.3 351.0 219.3M363.9 222.3 362.8 222.4M376.2 222.3 375.2 223.4M388.5 222.3 387.5 223.5M400.8 222.3 399.8 223.5M413.1 222.3 412.1 223.5M425.4 222.3 424.4 223.5M265.4 238.6 264.9 222.1M277.7 238.6 277.5 225.1 276.2 214.0M290.0 238.6 289.6 222.1 288.7 214.7 287.6 209.1M302.3 238.6 301.9 222.1 301.0 214.7 299.9 209.1M314.6 238.6 314.3 223.6 312.5 210.7M326.9 238.6 326.8 226.6 325.7 215.6M339.2 238.6 338.9 223.7M351.6 238.6 351.7 233.3M363.9 238.6 364.5 237.4M376.2 238.6 376.8 238.2M388.5 238.6 389.1 238.2M400.8 238.6 401.4 238.2M413.1 238.6 413.7 238.2M425.4 238.6 426.0 238.2M265.4 251.8 265.4 235.1M277.7 251.8 277.6 226.8M290.0 251.8 290.0 230.8 289.5 221.8M302.3 251.8 302.3 230.8 301.8 221.8M314.6 251.8 314.6 230.8 314.3 223.5M326.9 251.8 326.9 228.4M339.2 251.8 339.2 236.7M351.6 251.8 352.2 245.7M363.9 251.8 366.3 248.6M376.2 251.8 378.0 250.2M388.5 251.8 390.3 250.2M400.8 251.8 402.6 250.2M413.1 251.8 415.0 250.2M425.4 251.8 427.3 250.2M265.4 263.0 265.5 246.7M277.7 263.0 277.8 238.6M290.0 263.0 290.1 233.8M302.3 263.0 302.4 233.8M314.6 263.0 314.7 235.4M326.9 263.0 327.0 240.2M339.2 263.0 339.3 248.4M351.6 263.0 352.6 256.7M363.9 263.0 367.2 258.5M376.2 263.0 379.1 260.1M388.5 263.0 391.4 260.1M400.8 263.0 403.7 260.1M413.1 263.0 416.0 260.1M425.4 263.0 428.3 260.1M265.4 272.9 266.4 267.0 266.7 258.2M277.7 272.9 278.5 265.5 278.6 251.2M290.0 272.9 290.7 265.4 290.8 247.0M302.3 272.9 303.0 265.4 303.1 247.0M314.6 272.9 315.4 265.4 315.5 248.4M326.9 272.9 327.8 265.5 327.9 252.7M339.2 272.9 340.4 267.0 340.7 259.6M351.6 272.9 354.6 267.0M363.9 272.9 368.0 269.3M376.2 272.9 380.1 270.6M388.5 272.9 392.4 270.6M400.8 272.9 404.7 270.6M413.1 272.9 417.0 270.6M425.4 272.9 429.3 270.6M265.4 279.3 267.9 273.9 269.1 266.9M277.7 279.3 279.9 272.1 280.6 261.5M290.0 279.3 291.3 275.0 292.1 270.6 292.5 258.1M302.3 279.3 303.6 275.0 304.4 270.6 304.9 258.1M314.6 279.3 316.0 275.0 316.9 270.6 317.3 259.3M326.9 279.3 329.3 272.2 330.2 262.6M339.2 279.3 342.2 274.1 343.9 268.3M351.6 279.3 357.1 274.7M363.9 279.3 368.8 277.1M376.2 279.3 381.0 278.0M388.5 279.3 393.3 278.0M400.8 279.3 405.6 278.0M413.1 279.3 417.9 278.0M425.4 279.3 430.2 278.0M265.4 285.6 268.4 282.3 270.8 278.0M277.7 285.6 280.8 280.5 282.7 274.9M290.0 285.6 292.8 280.3 294.9 273.0M302.3 285.6 305.1 280.3 307.2 273.0M314.6 285.6 317.5 280.4 319.7 273.7M326.9 285.6 330.3 280.7 332.6 275.8M339.2 285.6 345.7 279.4M351.6 285.6 357.8 283.0M363.9 285.6 369.4 284.5M376.2 285.6 381.6 285.0M388.5 285.6 393.9 285.0M400.8 285.6 406.2 285.0M413.1 285.6 418.6 285.0M425.4 285.6 430.9 285.0M265.4 291.3 269.5 289.5 271.7 288.0M277.7 291.3 281.5 288.9 283.8 286.7M290.0 291.3 293.6 288.6 296.0 286.0M302.3 291.3 306.0 288.7 308.3 286.0M314.6 291.3 318.4 288.8 320.8 286.4M326.9 291.3 333.4 287.5M339.2 291.3 345.9 289.1M351.6 291.3 358.0 290.3M363.9 291.3 370.1 290.9M376.2 291.3 382.4 291.1M388.5 291.3 394.7 291.1M400.8 291.3 407.0 291.1M413.1 291.3 419.3 291.1M425.4 291.3 431.7 291.1" stroke="#000" stroke-width="0.85" fill="none" stroke-linecap="round" stroke-linejoin="round"/><path d="M275.7 172.8L276.9 172.1L276.9 173.5ZM284.9 172.8L288.0 171.5L288.0 174.1ZM294.2 172.8L297.4 171.5L297.4 174.1ZM304.5 172.8L307.7 171.5L307.7 174.1ZM316.8 172.8L320.0 171.5L320.0 174.1ZM329.1 172.8L332.3 171.5L332.3 174.1ZM341.4 172.8L344.6 171.5L344.6 174.1ZM353.7 172.8L356.9 171.5L356.9 174.1ZM366.0 172.8L369.2 171.5L369.2 174.1ZM378.3 172.8L381.5 171.5L381.5 174.1ZM390.6 172.8L393.8 171.5L393.8 174.1ZM402.9 172.8L406.1 171.5L406.1 174.1ZM415.3 172.8L418.5 171.5L418.5 174.1ZM258.6 184.6L262.1 184.8L261.0 187.1ZM264.9 182.3L268.4 182.6L267.2 184.9ZM272.1 180.8L275.6 181.1L274.4 183.4ZM284.2 181.4L287.6 181.4L286.7 183.8ZM296.5 181.6L300.0 181.5L299.1 184.0ZM309.1 182.1L312.6 181.9L311.7 184.4ZM321.9 182.9L325.3 182.6L324.5 185.0ZM334.8 183.9L338.2 183.4L337.6 185.9ZM347.2 184.7L350.6 184.1L350.1 186.6ZM360.0 185.3L363.4 184.5L363.0 187.0ZM373.2 185.5L376.5 184.7L376.1 187.2ZM386.3 185.6L389.6 184.8L389.3 187.4ZM399.4 185.7L402.8 184.9L402.4 187.5ZM412.6 185.9L415.9 185.0L415.6 187.6ZM261.6 192.7L264.3 194.8L262.1 196.1ZM270.8 190.5L274.1 191.4L272.5 193.5ZM280.9 189.7L284.3 190.2L283.0 192.4ZM293.1 189.8L296.5 190.2L295.3 192.5ZM306.1 190.1L309.5 190.6L308.2 192.8ZM320.2 191.3L323.5 192.2L321.9 194.3ZM335.4 193.6L338.3 195.4L336.2 197.0ZM349.6 197.1L351.9 198.7L349.6 200.0ZM357.7 199.0L361.2 199.0L360.2 201.4ZM369.8 200.7L373.0 199.5L372.9 202.1ZM382.1 200.9L385.3 199.6L385.3 202.2ZM394.4 200.9L397.6 199.6L397.6 202.2ZM406.7 200.9L409.9 199.6L409.9 202.2ZM419.0 200.9L422.2 199.6L422.2 202.2ZM261.7 199.3L263.9 201.9L261.5 202.7ZM271.5 194.0L274.2 196.2L271.9 197.4ZM281.2 191.6L284.4 192.9L282.6 194.8ZM293.5 191.7L296.7 192.9L294.9 194.8ZM306.7 192.4L309.7 194.0L307.7 195.7ZM321.3 195.0L323.8 197.4L321.5 198.5ZM335.9 200.4L338.1 203.0L335.7 203.8ZM350.1 207.7L352.2 210.4L349.7 211.1ZM359.2 212.9L362.1 211.8L361.9 214.4ZM371.6 215.5L373.7 212.8L375.0 215.0ZM384.1 215.7L385.9 212.9L387.4 215.0ZM396.4 215.7L398.3 212.9L399.7 215.0ZM408.7 215.7L410.6 212.9L412.0 215.0ZM421.0 215.7L422.9 212.9L424.3 215.0ZM262.6 205.9L264.6 208.7L262.1 209.3ZM272.8 199.3L275.0 201.9L272.5 202.7ZM283.4 195.4L285.9 197.9L283.5 198.9ZM295.7 195.4L298.2 197.9L295.8 198.9ZM308.7 196.7L311.0 199.2L308.6 200.1ZM322.4 200.6L324.7 203.2L322.2 204.0ZM336.8 207.2L338.8 210.0L336.3 210.7ZM350.4 216.1L352.3 219.0L349.7 219.5ZM361.2 222.5L362.7 221.5L362.9 223.3ZM373.6 225.1L374.3 222.6L376.1 224.2ZM386.1 225.2L386.6 222.7L388.5 224.2ZM398.4 225.2L398.9 222.7L400.8 224.2ZM410.7 225.2L411.2 222.7L413.1 224.2ZM423.0 225.2L423.5 222.7L425.4 224.2ZM264.6 218.9L266.2 222.0L263.6 222.2ZM275.6 210.8L277.5 213.7L275.0 214.2ZM286.8 206.0L288.8 208.8L286.3 209.4ZM299.1 206.0L301.1 208.8L298.6 209.4ZM311.8 207.6L313.8 210.4L311.3 211.0ZM325.2 212.4L327.0 215.4L324.4 215.8ZM338.6 220.6L340.2 223.6L337.6 223.8ZM351.8 230.1L353.0 233.4L350.4 233.3ZM365.4 235.6L365.4 237.9L363.5 236.9ZM377.8 237.6L377.1 238.7L376.5 237.7ZM390.1 237.6L389.4 238.7L388.8 237.7ZM402.4 237.6L401.7 238.7L401.1 237.7ZM414.7 237.6L414.0 238.7L413.4 237.7ZM427.0 237.6L426.3 238.7L425.7 237.7ZM265.4 231.9L266.7 235.1L264.1 235.1ZM277.4 223.6L278.8 226.7L276.3 226.9ZM289.2 218.6L290.8 221.7L288.2 221.9ZM301.5 218.6L303.1 221.7L300.5 221.9ZM314.0 220.3L315.6 223.4L313.0 223.6ZM326.7 225.3L328.2 228.4L325.6 228.5ZM339.2 233.5L340.5 236.7L337.9 236.7ZM352.5 242.5L353.5 245.8L350.9 245.6ZM368.2 246.1L367.3 249.4L365.2 247.8ZM380.5 248.1L378.9 251.1L377.2 249.2ZM392.8 248.1L391.2 251.1L389.5 249.2ZM405.1 248.1L403.5 251.1L401.8 249.2ZM417.4 248.1L415.8 251.1L414.1 249.2ZM429.7 248.1L428.1 251.1L426.4 249.2ZM265.5 243.5L266.8 246.7L264.2 246.7ZM277.8 235.4L279.1 238.6L276.5 238.6ZM290.0 230.6L291.4 233.8L288.8 233.8ZM302.3 230.6L303.7 233.8L301.1 233.8ZM314.7 232.2L316.0 235.4L313.4 235.4ZM327.0 237.0L328.3 240.2L325.7 240.2ZM339.3 245.2L340.6 248.4L338.0 248.4ZM353.1 253.6L353.9 257.0L351.3 256.5ZM369.2 256.0L368.2 259.3L366.2 257.7ZM381.3 257.8L380.0 261.0L378.1 259.2ZM393.6 257.8L392.3 261.0L390.4 259.2ZM405.9 257.8L404.6 261.0L402.7 259.2ZM418.2 257.8L416.9 261.0L415.1 259.2ZM430.5 257.8L429.2 261.0L427.4 259.2ZM266.7 255.0L268.0 258.3L265.4 258.2ZM278.6 248.0L279.9 251.2L277.3 251.2ZM290.8 243.8L292.1 247.0L289.5 247.0ZM303.1 243.8L304.4 247.0L301.8 247.0ZM315.5 245.2L316.8 248.4L314.2 248.4ZM327.9 249.5L329.2 252.7L326.6 252.7ZM340.7 256.4L342.0 259.7L339.4 259.6ZM355.6 264.0L355.8 267.5L353.3 266.6ZM370.2 267.1L368.9 270.3L367.1 268.4ZM382.7 268.8L380.8 271.7L379.3 269.6ZM395.0 268.8L393.1 271.7L391.6 269.6ZM407.3 268.8L405.4 271.7L403.9 269.6ZM419.6 268.8L417.7 271.7L416.2 269.6ZM431.9 268.8L430.0 271.7L428.5 269.6ZM269.3 263.7L270.4 267.0L267.8 266.8ZM280.6 258.3L281.9 261.5L279.3 261.5ZM292.6 254.9L293.8 258.1L291.2 258.1ZM304.9 254.9L306.2 258.1L303.6 258.1ZM317.3 256.1L318.6 259.3L316.0 259.3ZM330.2 259.4L331.5 262.6L328.9 262.6ZM344.3 265.1L345.2 268.4L342.6 268.1ZM359.4 272.5L358.0 275.6L356.2 273.7ZM371.7 275.8L369.3 278.3L368.3 275.9ZM384.0 277.0L381.3 279.2L380.6 276.7ZM396.3 277.0L393.6 279.2L392.9 276.7ZM408.6 277.0L405.9 279.2L405.2 276.7ZM420.9 277.0L418.3 279.2L417.5 276.7ZM433.2 277.0L430.6 279.2L429.8 276.7ZM272.0 275.0L272.0 278.5L269.6 277.5ZM283.4 271.8L284.0 275.2L281.4 274.6ZM295.3 269.8L296.1 273.2L293.6 272.8ZM307.7 269.9L308.5 273.2L305.9 272.8ZM320.3 270.6L321.0 274.0L318.4 273.5ZM333.6 272.8L333.8 276.2L331.3 275.4ZM347.9 277.1L346.7 280.3L344.8 278.5ZM360.8 281.7L358.3 284.2L357.3 281.8ZM372.5 283.9L369.6 285.8L369.1 283.2ZM384.8 284.6L381.8 286.3L381.5 283.7ZM397.1 284.6L394.1 286.3L393.8 283.7ZM409.4 284.6L406.4 286.3L406.1 283.7ZM421.7 284.6L418.7 286.3L418.4 283.7ZM434.0 284.6L431.0 286.3L430.7 283.7ZM274.1 286.0L272.5 289.0L270.8 287.0ZM285.7 284.2L284.9 287.5L282.8 286.0ZM297.7 283.2L297.1 286.6L294.9 285.3ZM310.1 283.3L309.4 286.7L307.3 285.3ZM322.8 283.9L321.9 287.2L319.8 285.6ZM335.9 285.5L334.3 288.5L332.6 286.5ZM348.9 288.1L346.3 290.3L345.5 287.9ZM361.2 289.9L358.2 291.6L357.9 289.1ZM373.3 290.7L370.2 292.2L370.1 289.6ZM385.6 290.9L382.5 292.4L382.4 289.8ZM397.9 290.9L394.8 292.4L394.7 289.8ZM410.2 290.9L407.1 292.4L407.0 289.8ZM422.5 290.9L419.4 292.4L419.3 289.8ZM434.9 290.9L431.7 292.4L431.6 289.8Z" fill="#000"/>
</svg>
<rect x="265.4" y="167.8" width="164.1" height="128.9" fill="none" stroke="#333" stroke-width="1"/>
<path d="M265.4 167.8h-2.2M265.4 186.6h-2.2M265.4 200.9h-2.2M265.4 212.5h-2.2M265.4 222.3h-2.2M265.4 238.6h-2.2M265.4 251.8h-2.2M265.4 272.9h-2.2M265.4 285.6h-2.2M265.4 296.7h-2.2M429.5 179.6h2.2M429.5 201.9h2.2M429.5 224.9h2.2M429.5 247h2.2M429.5 268.6h2.2M265.4 296.7v2.2M306.4 296.7v2.2M347.4 296.7v2.2M388.5 296.7v2.2M429.5 296.7v2.2M273.6 296.7v1.3M281.8 296.7v1.3M290 296.7v1.3M298.2 296.7v1.3M314.6 296.7v1.3M322.8 296.7v1.3M331 296.7v1.3M339.2 296.7v1.3M355.7 296.7v1.3M363.9 296.7v1.3M372.1 296.7v1.3M380.3 296.7v1.3M396.7 296.7v1.3M404.9 296.7v1.3M413.1 296.7v1.3M421.3 296.7v1.3" stroke="#333" stroke-width="0.9" fill="none"/>
<text x="261.3" y="171.2" font-size="10.2" text-anchor="end">100</text>
<text x="261.3" y="190" font-size="10.2" text-anchor="end">150</text>
<text x="261.3" y="204.3" font-size="10.2" text-anchor="end">200</text>
<text x="261.3" y="215.9" font-size="10.2" text-anchor="end">250</text>
<text x="261.3" y="225.7" font-size="10.2" text-anchor="end">300</text>
<text x="261.3" y="242" font-size="10.2" text-anchor="end">400</text>
<text x="261.3" y="255.2" font-size="10.2" text-anchor="end">500</text>
<text x="261.3" y="276.3" font-size="10.2" text-anchor="end">700</text>
<text x="261.3" y="289" font-size="10.2" text-anchor="end">850</text>
<text x="261.3" y="300.1" font-size="10.2" text-anchor="end">1000</text>
<text x="433.7" y="183" font-size="10.2" text-anchor="start">15</text>
<text x="433.7" y="205.3" font-size="10.2" text-anchor="start">12</text>
<text x="433.7" y="228.3" font-size="10.2" text-anchor="start">9</text>
<text x="433.7" y="250.4" font-size="10.2" text-anchor="start">6</text>
<text x="433.7" y="272" font-size="10.2" text-anchor="start">3</text>
<text x="265.4" y="308.3" font-size="10.2" text-anchor="middle">0</text>
<text x="306.4" y="308.3" font-size="10.2" text-anchor="middle">10N</text>
<text x="347.4" y="308.3" font-size="10.2" text-anchor="middle">20N</text>
<text x="388.5" y="308.3" font-size="10.2" text-anchor="middle">30N</text>
<text x="429.5" y="308.3" font-size="10.2" text-anchor="middle">40N</text>
<text x="265.8" y="163.4" font-size="11.7" text-anchor="start">(e)CGCMs_P2:2019-2049</text>
<text x="235.7" y="232.2" font-size="10.0" text-anchor="middle" transform="rotate(-90 235.7 232.2)">Pressure(mb)</text>
<text x="453.8" y="231.9" font-size="10.0" text-anchor="middle" transform="rotate(-90 453.8 231.9)">Height/(km)</text>
<g>
<rect x="494.4" y="167.8" width="164.1" height="128.9" fill="#8cc2da"/>
<path fill="#b0d6e7" d="M496.4 167.8 658.5 167.8 658.5 296.7 494.4 296.7 494.4 167.8ZM582.8 219.4 580.5 222.8 579.1 229.3 579 241.2 580.4 251.1 582.5 255.3 584.5 256.7 588.5 256.9 592.5 255.7 594.5 253.9 596.1 251.1 597.7 245.1 598.2 235.2 597.6 227.3 596.2 223.3 594.5 220.8 592.6 219.4 588.5 218.2 584.5 218.4Z"/>
<path fill="#d3e7f0" d="M496.4 167.8 658.5 167.8 658.5 296.7 494.4 296.7 494.4 167.8ZM582 197.5 576.4 199.3 572.4 202.9 569.7 207.5 567.8 213.4 566.5 221.3 566.1 229.3 566.1 245.1 566.9 257 568.2 265 570 270.9 572 274.9 575.3 278.9 578.5 280.8 582.5 281.9 592.5 281.8 598.5 280.2 602.5 277.4 605.9 272.9 608.6 267 610.5 259 611.3 251.1 611.4 233.2 610.8 221.3 609.9 215.4 608.1 209.4 606 205.5 602.5 201.5 598.5 199 594.5 197.8 588.5 197.3 582.5 197.5Z"/>
<path fill="#eaf0f3" d="M496.4 167.8 658.5 167.8 658.5 296.7 494.4 296.7 494.4 167.8ZM574.5 175.7 570.4 176.7 566.4 178.4 562.4 181 559.5 183.7 556.5 187.6 554.4 191.3 551.4 199.5 550.1 205.5 549.9 211.4 550.6 267 553.1 274.9 556.3 280.8 560.1 284.8 564.4 287.4 570.4 289.4 580.4 290.8 592.5 290.9 600.5 290.1 604.5 289.3 608.5 287.9 610.7 286.8 614.5 283.9 617.1 280.8 619.4 276.9 622.1 268.9 623.3 261 623.6 251.1 622.4 211.4 621.1 199.5 618.7 191.6 615.4 185.6 611.8 181.7 606.5 178.1 600.5 176.1 594.5 175.2 584.5 175 576.4 175.4ZM647.2 265 645.3 267 643.6 270.9 643.5 276.9 644.5 279.7 646.5 282.5 648.5 283.7 650.5 284.1 652.5 283.6 654.5 282.3 656.7 278.9 657.6 274.9 657.4 270.9 656.5 268 654.5 265.2 652.5 264 650.5 263.7 648.5 264.2Z"/>
<path fill="#f5eee8" d="M494.8 169.8 496.4 171.5 497.6 175.7 498.6 181.7 498.8 189.6 499.6 191.6 500.4 191.8 506.4 185.7 508.4 184.5 512.4 183.1 516.4 182.6 524.4 182.7 528.4 183.2 532.4 184.4 536.4 186.7 538.4 188.5 541 191.6 543.4 195.6 544.8 199.5 546.3 211.4 547.4 231.3 547.5 257 546.4 273.9 545.8 276.9 544 280.8 540.4 286.2 534.4 291.6 528.4 293.2 522.4 293.5 512.4 292.4 508.4 291.2 504.4 288.3 501.6 284.8 498.7 278.9 497 272.9 495.7 265 495.1 251.1 495.1 215.4 494.4 206.2 494.4 169.4ZM642.5 195.2 646.5 195.3 650.5 196.9 654.5 200.4 658.5 206.5 658.5 244 655.8 247.1 652.5 249 642.5 252.4 638.5 252.9 636.5 252.5 634.5 251.4 632.5 249.4 630.5 238.3 629.9 229.3 630.5 205.1 634.6 199.5 638.5 196.5 640.9 195.6ZM546.4 292.5 556.4 291.6 570.4 295.1 584.5 296.2 600.5 296.1 614.5 293.9 617.7 294.7 620.6 296.7 532.4 296.7 535.3 294.7 544.7 292.7Z"/>
<path fill="#f3d9c8" d="M510.4 191.3 514.4 190.1 522.4 189.9 528.4 190.8 532.4 192.4 536.4 195.5 538.4 197.9 540.6 201.5 542.9 207.5 544.7 219.4 545.4 231.3 545.5 253.1 544.8 265 543.7 270.9 541.2 276.9 538.4 281 534.4 284.5 530.4 286.4 524.4 287.6 514.4 287.4 510.4 286.4 506.4 283.9 503.8 280.8 501.7 276.9 499.7 270.9 498.2 261 497.7 249.1 497.9 225.3 499.2 211.4 500.5 205.5 502.8 199.5 506.4 194.2 509.8 191.6Z"/>
<path fill="#ecb99e" d="M512.4 196.7 516.4 196 524.4 196.1 528.4 197 532.4 198.9 536.4 202.6 538.4 205.6 540.4 209.9 542 215.4 543.3 225.3 543.8 237.2 543.7 255.1 542.7 265 540.8 270.9 538.4 275.4 534.4 279.6 530.4 281.9 526.4 283 520.4 283.5 514.4 283.2 510.4 281.9 506.6 278.9 504.4 275.7 502.4 271 501.4 267 500.2 259 499.7 249.1 499.8 231.3 500.7 219.4 502.1 211.4 504.4 205 506.4 201.5 508.4 199.2 510.7 197.5Z"/>
<path fill="#e5957a" d="M512.4 203 516.4 202 522.4 202 526.4 202.6 530.4 204.2 534.2 207.5 536.4 210.5 538.4 214.7 539.9 219.4 541.2 227.3 541.7 235.2 541.8 251.1 541.1 259 539.8 265 537.2 270.9 534.4 274.5 531.4 276.9 526.4 278.8 522.4 279.3 516.4 279.3 512.4 278.5 510.4 277.4 507.7 274.9 505.3 270.9 503.9 267 502.4 259.5 501.8 251.1 501.8 235.2 502.4 225.1 503.7 217.4 505.5 211.4 508.4 206.3 511.6 203.5Z"/>
<path fill="#d96b59" d="M514.4 208.8 518.4 208.3 524.4 208.7 528.4 210.1 530.4 211.4 532.4 213.5 534.4 216.4 536.4 221 537.6 225.3 538.7 233.2 539 241.2 538.8 251.1 537.8 259 536.4 263.8 534.4 267.9 531.9 270.9 528.4 273.4 524.4 274.7 520.4 275 516.4 274.9 512.4 273.7 510.4 272.2 508.4 269.6 505.8 263 504.6 257 504.2 249.1 504.2 235.2 504.8 227.3 506.4 219.4 507.9 215.4 510.4 211.5 513.1 209.4Z"/>
<path fill="#c9454a" d="M518.4 215.3 524.4 215.9 528.4 218 530.4 220 532.4 223.2 533.9 227.3 535.3 235.2 535.5 249.1 534.8 255.1 533.9 259 532.1 263 528.8 267 526.4 268.4 522.4 269.5 516.4 269.5 514.4 268.8 512.4 267.4 510.4 264.7 508.9 261 507.4 253.1 507.2 237.2 507.6 231.3 508.7 225.3 510.4 220.8 512.4 217.8 514.4 216.2 517.1 215.4Z"/>
<path fill="#b22434" d="M518.4 223.3 522.4 223.6 524.4 224.4 526.4 225.8 528.4 228.4 529.7 231.3 531 237.2 531.2 247.1 530.8 251.1 529.7 255.1 528.4 257.7 526.4 260 522.4 262 518.4 262.3 516.4 261.9 514.4 260.7 512.2 257 510.8 251.1 510.5 239.2 511.5 231.3 512.4 228.4 514.4 225.1 516.4 223.7 518.3 223.3Z"/>
<path fill="#8e1a2e" d="M518.4 234.8 520.4 234.8 522.4 235.8 524.4 239.2 524.9 243.2 524.5 247.1 523.7 249.1 522.4 250.6 520.4 251.5 518.4 251.6 516.4 250.2 515.9 249.1 515.1 245.1 515.2 241.2 516 237.2 517.7 235.2Z"/>
</g>
<svg x="494.4" y="167.8" width="164.1" height="128.9" viewBox="494.4 167.8 164.1 128.9" overflow="hidden">
<path d="M506.7 172.8 505.7 172.8M519.0 172.8 516.1 172.8M531.3 172.8 526.1 172.8M543.6 172.8 538.4 172.8M555.9 172.8 555.4 174.3M568.2 172.8 567.7 174.3M580.6 172.8 580.0 174.3M592.9 172.8 592.4 174.3M605.2 172.8 604.7 174.3M617.5 172.8 617.1 174.3M629.8 172.8 629.5 174.3M642.1 172.8 641.9 174.3M654.4 172.8 654.2 174.3M494.4 200.8 498.3 200.8M506.7 200.8 508.0 201.0M531.3 200.8 529.9 201.1M543.6 200.8 541.9 200.8M555.9 200.8 554.5 200.8M568.2 200.8 567.3 200.6M580.6 200.8 579.9 200.1M592.9 200.8 592.6 200.0M494.4 212.8 497.6 212.8M506.7 212.8 508.1 215.4M519.0 212.8 518.7 219.4M531.3 212.8 529.3 218.2M543.6 212.8 542.1 212.9M555.9 212.8 554.6 212.8M568.2 212.8 567.4 212.3M580.6 212.8 580.0 211.0M592.9 212.8 592.6 210.7M605.2 212.8 605.2 212.0M494.4 222.3 497.0 222.3M506.7 222.3 508.1 225.6M519.0 222.3 518.7 230.4M531.3 222.3 529.4 228.9M543.6 222.3 542.2 222.4M555.9 222.3 554.7 222.3M568.2 222.3 567.5 221.8M580.6 222.3 580.1 220.5M592.9 222.3 592.6 220.2M605.2 222.3 605.2 221.5M506.7 238.6 506.7 241.7M519.0 238.6 519.0 246.7M531.3 238.6 531.3 245.1M580.6 238.6 580.6 236.8M592.9 238.6 592.9 236.5M605.2 238.6 605.2 237.8M506.7 251.8 506.7 252.8M519.0 251.8 519.0 253.6M531.3 251.8 531.3 253.3M580.6 251.8 580.6 250.0M592.9 251.8 592.9 249.7M605.2 251.8 605.2 251.0M580.6 263.0 580.6 261.2M592.9 263.0 592.9 260.9M605.2 263.0 605.2 262.2M580.6 272.9 580.6 271.6M592.9 272.9 592.9 271.3M605.2 272.9 605.2 272.3M580.6 279.3 580.6 278.5M592.9 279.3 592.9 278.3M543.6 285.6 544.3 285.6M555.9 285.6 556.6 285.6M568.2 285.6 569.0 285.5M580.6 285.6 581.4 285.2M592.9 285.6 593.8 285.1M605.2 285.6 606.1 285.4M617.5 285.6 618.4 285.6M629.8 285.6 630.7 285.6M642.1 285.6 643.0 285.6M654.4 285.6 655.3 285.6M494.4 291.3 495.0 291.3M506.7 291.3 505.6 291.3M531.3 291.3 532.1 291.3M543.6 291.3 544.9 291.3M555.9 291.3 557.2 291.3M568.2 291.3 569.7 291.2M580.6 291.3 582.1 291.1M592.9 291.3 594.5 291.1M605.2 291.3 606.8 291.2M617.5 291.3 619.1 291.3M629.8 291.3 631.4 291.3M642.1 291.3 643.7 291.3M654.4 291.3 656.0 291.3" stroke="#000" stroke-width="0.85" fill="none" stroke-linecap="round" stroke-linejoin="round"/><path d="M504.2 172.8L505.7 172.0L505.7 173.6ZM512.9 172.8L516.1 171.5L516.1 174.1ZM522.9 172.8L526.1 171.5L526.1 174.1ZM535.2 172.8L538.4 171.5L538.4 174.1ZM554.7 176.6L554.2 173.9L556.7 174.7ZM567.0 176.6L566.5 173.9L569.0 174.7ZM579.3 176.6L578.8 173.9L581.3 174.7ZM591.6 176.6L591.1 173.9L593.6 174.7ZM604.1 176.6L603.5 173.9L605.9 174.7ZM616.6 176.6L615.9 174.0L618.3 174.6ZM629.1 176.6L628.3 174.1L630.7 174.5ZM641.6 176.6L640.7 174.1L643.1 174.5ZM653.9 176.6L653.0 174.2L655.4 174.5ZM501.5 200.8L498.3 202.1L498.3 199.5ZM509.9 201.2L507.9 202.0L508.1 199.9ZM527.8 201.4L529.7 199.9L530.1 202.2ZM539.3 200.8L541.9 199.5L541.9 202.1ZM552.3 200.8L554.5 199.6L554.5 202.0ZM565.8 200.3L567.4 199.8L567.1 201.4ZM579.0 199.0L580.5 199.6L579.4 200.6ZM592.2 198.7L593.3 199.7L591.9 200.2ZM500.8 212.8L497.6 214.1L497.6 211.5ZM509.6 218.2L507.0 216.0L509.2 214.8ZM518.5 222.6L517.4 219.3L520.0 219.4ZM528.2 221.2L528.1 217.7L530.5 218.7ZM539.7 213.1L542.0 211.6L542.2 214.2ZM552.6 212.7L554.7 211.7L554.6 213.8ZM566.1 211.6L567.8 211.6L567.0 213.0ZM579.2 208.4L581.2 210.7L578.8 211.4ZM592.2 207.5L593.9 210.5L591.3 210.8ZM605.2 210.7L605.8 212.0L604.5 212.0ZM500.2 222.3L497.0 223.6L497.0 221.0ZM509.4 228.6L506.9 226.1L509.3 225.1ZM518.6 233.6L517.4 230.3L520.0 230.4ZM528.5 232.0L528.1 228.5L530.6 229.3ZM540.1 222.6L542.1 221.3L542.3 223.6ZM552.9 222.2L554.8 221.3L554.7 223.2ZM566.3 221.1L567.8 221.2L567.1 222.5ZM579.3 217.9L581.3 220.2L578.8 220.9ZM592.3 217.0L593.9 220.0L591.3 220.3ZM605.2 220.2L605.8 221.5L604.5 221.5ZM506.7 244.9L505.4 241.7L508.0 241.7ZM519.0 249.9L517.7 246.7L520.3 246.7ZM531.3 248.3L530.0 245.1L532.6 245.1ZM580.6 234.2L581.9 236.8L579.3 236.8ZM592.9 233.3L594.2 236.5L591.6 236.5ZM605.2 236.5L605.8 237.8L604.5 237.8ZM506.7 254.2L505.9 252.8L507.5 252.8ZM519.0 256.2L517.7 253.6L520.3 253.6ZM531.3 255.6L530.1 253.3L532.5 253.3ZM580.6 247.4L581.9 250.0L579.3 250.0ZM592.9 246.5L594.2 249.7L591.6 249.7ZM605.2 249.7L605.8 251.0L604.5 251.0ZM580.6 258.6L581.9 261.2L579.3 261.2ZM592.9 257.7L594.2 260.9L591.6 260.9ZM605.2 260.9L605.8 262.2L604.5 262.2ZM580.6 269.6L581.6 271.6L579.5 271.6ZM592.9 268.9L594.2 271.3L591.6 271.3ZM605.2 271.3L605.7 272.3L604.7 272.3ZM580.6 277.3L581.2 278.5L579.9 278.5ZM592.9 276.8L593.7 278.3L592.1 278.3ZM545.3 285.6L544.3 286.1L544.3 285.1ZM557.6 285.6L556.6 286.1L556.6 285.0ZM570.2 285.3L569.1 286.1L568.9 284.9ZM582.7 284.5L581.8 285.9L581.1 284.5ZM595.1 284.3L594.2 285.8L593.3 284.4ZM607.4 285.1L606.2 286.1L605.9 284.7ZM619.7 285.5L618.4 286.3L618.3 284.9ZM632.0 285.6L630.7 286.3L630.7 284.9ZM644.3 285.6L643.0 286.3L643.0 284.9ZM656.6 285.6L655.3 286.3L655.3 284.9ZM495.9 291.3L495.0 291.8L495.0 290.8ZM504.0 291.3L505.6 290.4L505.6 292.2ZM533.3 291.4L532.1 292.0L532.1 290.7ZM546.7 291.3L544.9 292.3L544.9 290.3ZM559.1 291.3L557.2 292.3L557.2 290.3ZM571.8 291.2L569.7 292.4L569.6 290.1ZM584.5 290.8L582.3 292.4L582.0 289.8ZM597.0 290.7L594.7 292.3L594.3 289.8ZM609.3 291.1L606.9 292.5L606.7 289.9ZM621.6 291.3L619.1 292.6L619.1 290.0ZM633.9 291.3L631.4 292.6L631.4 290.0ZM646.2 291.3L643.7 292.6L643.7 290.0ZM658.5 291.3L656.0 292.6L656.0 290.0Z" fill="#000"/>
<path d="M551.2 167.2h1.3v1.3h-1.3zM555.3 167.2h1.3v1.3h-1.3zM559.4 167.2h1.3v1.3h-1.3zM563.5 167.2h1.3v1.3h-1.3zM567.6 167.2h1.3v1.3h-1.3zM571.7 167.2h1.3v1.3h-1.3zM575.8 167.2h1.3v1.3h-1.3zM579.9 167.2h1.3v1.3h-1.3zM584.0 167.2h1.3v1.3h-1.3zM588.1 167.2h1.3v1.3h-1.3zM592.2 167.2h1.3v1.3h-1.3zM596.3 167.2h1.3v1.3h-1.3zM600.4 167.2h1.3v1.3h-1.3zM604.5 167.2h1.3v1.3h-1.3zM608.6 167.2h1.3v1.3h-1.3zM612.7 167.2h1.3v1.3h-1.3zM616.8 167.2h1.3v1.3h-1.3zM620.9 167.2h1.3v1.3h-1.3zM625.0 167.2h1.3v1.3h-1.3zM629.1 167.2h1.3v1.3h-1.3zM633.2 167.2h1.3v1.3h-1.3zM637.3 167.2h1.3v1.3h-1.3zM641.4 167.2h1.3v1.3h-1.3zM645.5 167.2h1.3v1.3h-1.3zM649.6 167.2h1.3v1.3h-1.3zM653.7 167.2h1.3v1.3h-1.3zM657.9 167.2h1.3v1.3h-1.3zM518.4 186.0h1.3v1.3h-1.3zM522.5 186.0h1.3v1.3h-1.3zM526.6 186.0h1.3v1.3h-1.3zM530.7 186.0h1.3v1.3h-1.3zM534.8 186.0h1.3v1.3h-1.3zM538.9 186.0h1.3v1.3h-1.3zM543.0 186.0h1.3v1.3h-1.3zM547.1 186.0h1.3v1.3h-1.3zM551.2 186.0h1.3v1.3h-1.3zM555.3 186.0h1.3v1.3h-1.3zM559.4 186.0h1.3v1.3h-1.3zM563.5 186.0h1.3v1.3h-1.3zM567.6 186.0h1.3v1.3h-1.3zM571.7 186.0h1.3v1.3h-1.3zM575.8 186.0h1.3v1.3h-1.3zM579.9 186.0h1.3v1.3h-1.3zM584.0 186.0h1.3v1.3h-1.3zM588.1 186.0h1.3v1.3h-1.3zM592.2 186.0h1.3v1.3h-1.3zM596.3 186.0h1.3v1.3h-1.3zM551.2 200.2h1.3v1.3h-1.3zM555.3 200.2h1.3v1.3h-1.3zM559.4 200.2h1.3v1.3h-1.3zM563.5 200.2h1.3v1.3h-1.3zM567.6 200.2h1.3v1.3h-1.3zM571.7 200.2h1.3v1.3h-1.3zM575.8 200.2h1.3v1.3h-1.3zM579.9 200.2h1.3v1.3h-1.3zM584.0 200.2h1.3v1.3h-1.3zM588.1 200.2h1.3v1.3h-1.3zM592.2 200.2h1.3v1.3h-1.3zM596.3 200.2h1.3v1.3h-1.3zM600.4 200.2h1.3v1.3h-1.3zM604.5 200.2h1.3v1.3h-1.3zM608.6 200.2h1.3v1.3h-1.3zM514.3 211.8h1.3v1.3h-1.3zM518.4 211.8h1.3v1.3h-1.3zM522.5 211.8h1.3v1.3h-1.3zM526.6 211.8h1.3v1.3h-1.3zM530.7 211.8h1.3v1.3h-1.3zM575.8 211.8h1.3v1.3h-1.3zM579.9 211.8h1.3v1.3h-1.3zM584.0 211.8h1.3v1.3h-1.3zM588.1 211.8h1.3v1.3h-1.3zM592.2 211.8h1.3v1.3h-1.3zM596.3 211.8h1.3v1.3h-1.3zM600.4 211.8h1.3v1.3h-1.3zM604.5 211.8h1.3v1.3h-1.3zM608.6 211.8h1.3v1.3h-1.3zM637.3 211.8h1.3v1.3h-1.3zM641.4 211.8h1.3v1.3h-1.3zM645.5 211.8h1.3v1.3h-1.3zM649.6 211.8h1.3v1.3h-1.3zM653.7 211.8h1.3v1.3h-1.3zM657.9 211.8h1.3v1.3h-1.3zM510.2 221.7h1.3v1.3h-1.3zM514.3 221.7h1.3v1.3h-1.3zM518.4 221.7h1.3v1.3h-1.3zM522.5 221.7h1.3v1.3h-1.3zM526.6 221.7h1.3v1.3h-1.3zM530.7 221.7h1.3v1.3h-1.3zM534.8 221.7h1.3v1.3h-1.3zM575.8 221.7h1.3v1.3h-1.3zM579.9 221.7h1.3v1.3h-1.3zM584.0 221.7h1.3v1.3h-1.3zM588.1 221.7h1.3v1.3h-1.3zM592.2 221.7h1.3v1.3h-1.3zM596.3 221.7h1.3v1.3h-1.3zM600.4 221.7h1.3v1.3h-1.3zM604.5 221.7h1.3v1.3h-1.3zM608.6 221.7h1.3v1.3h-1.3zM612.7 221.7h1.3v1.3h-1.3zM616.8 221.7h1.3v1.3h-1.3zM506.1 237.9h1.3v1.3h-1.3zM510.2 237.9h1.3v1.3h-1.3zM514.3 237.9h1.3v1.3h-1.3zM518.4 237.9h1.3v1.3h-1.3zM522.5 237.9h1.3v1.3h-1.3zM526.6 237.9h1.3v1.3h-1.3zM530.7 237.9h1.3v1.3h-1.3zM534.8 237.9h1.3v1.3h-1.3zM538.9 237.9h1.3v1.3h-1.3zM543.0 237.9h1.3v1.3h-1.3zM575.8 237.9h1.3v1.3h-1.3zM579.9 237.9h1.3v1.3h-1.3zM584.0 237.9h1.3v1.3h-1.3zM588.1 237.9h1.3v1.3h-1.3zM592.2 237.9h1.3v1.3h-1.3zM596.3 237.9h1.3v1.3h-1.3zM600.4 237.9h1.3v1.3h-1.3zM604.5 237.9h1.3v1.3h-1.3zM608.6 237.9h1.3v1.3h-1.3zM506.1 251.2h1.3v1.3h-1.3zM510.2 251.2h1.3v1.3h-1.3zM514.3 251.2h1.3v1.3h-1.3zM518.4 251.2h1.3v1.3h-1.3zM522.5 251.2h1.3v1.3h-1.3zM526.6 251.2h1.3v1.3h-1.3zM530.7 251.2h1.3v1.3h-1.3zM534.8 251.2h1.3v1.3h-1.3zM538.9 251.2h1.3v1.3h-1.3zM543.0 251.2h1.3v1.3h-1.3zM547.1 251.2h1.3v1.3h-1.3zM575.8 251.2h1.3v1.3h-1.3zM579.9 251.2h1.3v1.3h-1.3zM584.0 251.2h1.3v1.3h-1.3zM588.1 251.2h1.3v1.3h-1.3zM592.2 251.2h1.3v1.3h-1.3zM596.3 251.2h1.3v1.3h-1.3zM600.4 251.2h1.3v1.3h-1.3zM604.5 251.2h1.3v1.3h-1.3zM608.6 251.2h1.3v1.3h-1.3zM653.7 251.2h1.3v1.3h-1.3zM657.9 251.2h1.3v1.3h-1.3zM506.1 262.4h1.3v1.3h-1.3zM510.2 262.4h1.3v1.3h-1.3zM514.3 262.4h1.3v1.3h-1.3zM518.4 262.4h1.3v1.3h-1.3zM522.5 262.4h1.3v1.3h-1.3zM526.6 262.4h1.3v1.3h-1.3zM530.7 262.4h1.3v1.3h-1.3zM534.8 262.4h1.3v1.3h-1.3zM538.9 262.4h1.3v1.3h-1.3zM543.0 262.4h1.3v1.3h-1.3zM547.1 262.4h1.3v1.3h-1.3zM579.9 262.4h1.3v1.3h-1.3zM584.0 262.4h1.3v1.3h-1.3zM588.1 262.4h1.3v1.3h-1.3zM592.2 262.4h1.3v1.3h-1.3zM596.3 262.4h1.3v1.3h-1.3zM600.4 262.4h1.3v1.3h-1.3zM604.5 262.4h1.3v1.3h-1.3zM637.3 262.4h1.3v1.3h-1.3zM641.4 262.4h1.3v1.3h-1.3zM645.5 262.4h1.3v1.3h-1.3zM649.6 262.4h1.3v1.3h-1.3zM653.7 262.4h1.3v1.3h-1.3zM657.9 262.4h1.3v1.3h-1.3zM506.1 272.2h1.3v1.3h-1.3zM510.2 272.2h1.3v1.3h-1.3zM514.3 272.2h1.3v1.3h-1.3zM518.4 272.2h1.3v1.3h-1.3zM522.5 272.2h1.3v1.3h-1.3zM526.6 272.2h1.3v1.3h-1.3zM530.7 272.2h1.3v1.3h-1.3zM534.8 272.2h1.3v1.3h-1.3zM538.9 272.2h1.3v1.3h-1.3zM543.0 272.2h1.3v1.3h-1.3zM547.1 272.2h1.3v1.3h-1.3zM588.1 272.2h1.3v1.3h-1.3zM592.2 272.2h1.3v1.3h-1.3zM596.3 272.2h1.3v1.3h-1.3zM600.4 272.2h1.3v1.3h-1.3zM604.5 272.2h1.3v1.3h-1.3zM633.2 272.2h1.3v1.3h-1.3zM637.3 272.2h1.3v1.3h-1.3zM641.4 272.2h1.3v1.3h-1.3zM645.5 272.2h1.3v1.3h-1.3zM506.1 285.0h1.3v1.3h-1.3zM510.2 285.0h1.3v1.3h-1.3zM514.3 285.0h1.3v1.3h-1.3zM518.4 285.0h1.3v1.3h-1.3zM522.5 285.0h1.3v1.3h-1.3zM526.6 285.0h1.3v1.3h-1.3zM530.7 285.0h1.3v1.3h-1.3zM534.8 285.0h1.3v1.3h-1.3zM543.0 285.0h1.3v1.3h-1.3zM547.1 285.0h1.3v1.3h-1.3zM579.9 285.0h1.3v1.3h-1.3zM584.0 285.0h1.3v1.3h-1.3zM588.1 285.0h1.3v1.3h-1.3zM592.2 285.0h1.3v1.3h-1.3zM596.3 285.0h1.3v1.3h-1.3zM600.4 285.0h1.3v1.3h-1.3zM604.5 285.0h1.3v1.3h-1.3zM608.6 285.0h1.3v1.3h-1.3zM616.8 285.0h1.3v1.3h-1.3zM620.9 285.0h1.3v1.3h-1.3zM625.0 285.0h1.3v1.3h-1.3zM629.1 285.0h1.3v1.3h-1.3zM637.3 285.0h1.3v1.3h-1.3zM641.4 285.0h1.3v1.3h-1.3zM645.5 285.0h1.3v1.3h-1.3zM649.6 285.0h1.3v1.3h-1.3zM653.7 285.0h1.3v1.3h-1.3zM657.9 285.0h1.3v1.3h-1.3zM506.1 290.7h1.3v1.3h-1.3zM510.2 290.7h1.3v1.3h-1.3zM514.3 290.7h1.3v1.3h-1.3zM518.4 290.7h1.3v1.3h-1.3zM522.5 290.7h1.3v1.3h-1.3zM526.6 290.7h1.3v1.3h-1.3zM530.7 290.7h1.3v1.3h-1.3zM534.8 290.7h1.3v1.3h-1.3zM538.9 290.7h1.3v1.3h-1.3zM551.2 290.7h1.3v1.3h-1.3zM555.3 290.7h1.3v1.3h-1.3zM559.4 290.7h1.3v1.3h-1.3zM563.5 290.7h1.3v1.3h-1.3zM567.6 290.7h1.3v1.3h-1.3zM571.7 290.7h1.3v1.3h-1.3zM575.8 290.7h1.3v1.3h-1.3zM579.9 290.7h1.3v1.3h-1.3zM584.0 290.7h1.3v1.3h-1.3zM588.1 290.7h1.3v1.3h-1.3zM592.2 290.7h1.3v1.3h-1.3zM596.3 290.7h1.3v1.3h-1.3zM600.4 290.7h1.3v1.3h-1.3zM604.5 290.7h1.3v1.3h-1.3zM608.6 290.7h1.3v1.3h-1.3zM612.7 290.7h1.3v1.3h-1.3zM616.8 290.7h1.3v1.3h-1.3zM620.9 290.7h1.3v1.3h-1.3zM625.0 290.7h1.3v1.3h-1.3zM629.1 290.7h1.3v1.3h-1.3zM633.2 290.7h1.3v1.3h-1.3zM637.3 290.7h1.3v1.3h-1.3zM641.4 290.7h1.3v1.3h-1.3zM645.5 290.7h1.3v1.3h-1.3zM649.6 290.7h1.3v1.3h-1.3zM653.7 290.7h1.3v1.3h-1.3zM657.9 290.7h1.3v1.3h-1.3z" fill="#000"/>
</svg>
<rect x="494.4" y="167.8" width="164.1" height="128.9" fill="none" stroke="#333" stroke-width="1"/>
<path d="M494.4 167.8h-2.2M494.4 186.6h-2.2M494.4 200.9h-2.2M494.4 212.5h-2.2M494.4 222.3h-2.2M494.4 238.6h-2.2M494.4 251.8h-2.2M494.4 272.9h-2.2M494.4 285.6h-2.2M658.5 179.6h2.2M658.5 201.9h2.2M658.5 224.9h2.2M658.5 247h2.2M658.5 268.6h2.2M494.4 296.7v2.2M535.4 296.7v2.2M576.4 296.7v2.2M617.5 296.7v2.2M658.5 296.7v2.2M502.6 296.7v1.3M510.8 296.7v1.3M519 296.7v1.3M527.2 296.7v1.3M543.6 296.7v1.3M551.8 296.7v1.3M560 296.7v1.3M568.2 296.7v1.3M584.7 296.7v1.3M592.9 296.7v1.3M601.1 296.7v1.3M609.3 296.7v1.3M625.7 296.7v1.3M633.9 296.7v1.3M642.1 296.7v1.3M650.3 296.7v1.3" stroke="#333" stroke-width="0.9" fill="none"/>
<text x="490.3" y="171.2" font-size="10.2" text-anchor="end">100</text>
<text x="490.3" y="190" font-size="10.2" text-anchor="end">150</text>
<text x="490.3" y="204.3" font-size="10.2" text-anchor="end">200</text>
<text x="490.3" y="215.9" font-size="10.2" text-anchor="end">250</text>
<text x="490.3" y="225.7" font-size="10.2" text-anchor="end">300</text>
<text x="490.3" y="242" font-size="10.2" text-anchor="end">400</text>
<text x="490.3" y="255.2" font-size="10.2" text-anchor="end">500</text>
<text x="490.3" y="276.3" font-size="10.2" text-anchor="end">700</text>
<text x="490.3" y="289" font-size="10.2" text-anchor="end">850</text>
<text x="662.7" y="183" font-size="10.2" text-anchor="start">15</text>
<text x="662.7" y="205.3" font-size="10.2" text-anchor="start">12</text>
<text x="662.7" y="228.3" font-size="10.2" text-anchor="start">9</text>
<text x="662.7" y="250.4" font-size="10.2" text-anchor="start">6</text>
<text x="662.7" y="272" font-size="10.2" text-anchor="start">3</text>
<text x="494.4" y="308.3" font-size="10.2" text-anchor="middle">0</text>
<text x="535.4" y="308.3" font-size="10.2" text-anchor="middle">10N</text>
<text x="576.4" y="308.3" font-size="10.2" text-anchor="middle">20N</text>
<text x="617.5" y="308.3" font-size="10.2" text-anchor="middle">30N</text>
<text x="658.5" y="308.3" font-size="10.2" text-anchor="middle">40N</text>
<text x="494.8" y="163.4" font-size="11.7" text-anchor="start">(f)CGCMs_P2-P1</text>
<text x="464.7" y="232.2" font-size="10.0" text-anchor="middle" transform="rotate(-90 464.7 232.2)">Pressure(mb)</text>
<text x="682.8" y="231.9" font-size="10.0" text-anchor="middle" transform="rotate(-90 682.8 231.9)">Height/(km)</text>
<g>
<rect x="36.3" y="322.4" width="164.1" height="128.9" fill="#1e3a6c"/>
<path fill="#22447a" d="M38.3 322.4 200.4 322.4 200.4 451.3 36.3 451.3 36.3 322.4ZM67.8 385.9 66.2 387.8 65.6 393.8 66.3 397.2 68.3 399.3 70.3 397 71 391.8 70.3 387.7 68.3 385.4Z"/>
<path fill="#2c5a98" d="M38.3 322.4 200.4 322.4 200.4 451.3 36.3 451.3 36.3 322.4ZM66 372 64.3 373.7 63.2 375.9 61.3 381.9 60.6 393.8 61.8 405.7 64.3 411.9 66.3 413.9 68.3 414.5 70.3 414.3 74.3 412 77.5 407.7 79.1 403.7 80 399.7 80.6 391.8 79.7 383.9 77.6 377.9 74.8 374 72.3 372.1 70.3 371.4 68.3 371.2 66.3 371.7Z"/>
<path fill="#3a6eb0" d="M38.3 322.4 200.4 322.4 200.4 451.3 36.3 451.3 36.3 322.4ZM64.7 366 62.3 368.6 60.6 372 59.4 375.9 58.2 381.9 57.7 395.8 58.9 407.7 61.5 415.6 64.3 419.6 66.3 420.8 68.3 421.2 72.3 420.8 76.3 419.3 80.3 416.3 82.6 413.6 84.8 409.7 86.3 405.7 88 395.8 88 389.8 87.4 383.9 84.9 375.9 82.5 372 80.3 369.4 78.3 367.8 74.3 365.7 70.3 364.9 66.3 365.1Z"/>
<path fill="#4a87bd" d="M38.3 322.4 200.4 322.4 200.4 451.3 36.3 451.3 36.3 322.4ZM63.5 360.1 60.6 362.1 57.6 366 55 372 53.6 377.9 52.7 385.9 52.6 395.8 53.1 403.7 54.1 409.7 56 415.6 58 419.6 59.4 421.6 62.3 424.2 66.3 425.7 70.3 425.8 74.3 425.3 79.6 423.5 82.9 421.6 87.1 417.6 89.8 413.6 92.3 407.7 93.6 401.7 94.2 395.8 94.1 387.8 93 379.9 91.1 374 89 370 86 366 82.3 362.9 78.3 360.8 74.3 359.6 68.3 359.1 64.3 359.7Z"/>
<path fill="#5a9ec9" d="M38.3 322.4 200.4 322.4 200.4 451.3 36.3 451.3 36.3 322.4ZM61.8 356.1 57.8 358.1 53.7 362.1 50.2 368 48.2 374 46.8 381.9 46.3 393.8 46.9 403.7 48.5 411.6 50.7 417.6 53 421.6 56.6 425.5 59.6 427.5 64.3 429 68.3 429.3 76.3 428.8 81.7 427.5 86.4 425.5 92 421.6 96.9 415.6 99.8 409.7 101.4 403.7 102.3 395.8 102.1 385.9 100.7 377.9 98.5 372 96.3 368 93.1 364 88.2 360.1 82.3 357.2 76.3 355.7 68.3 355.2 62.3 355.9Z"/>
<path fill="#6aaed3" d="M38.3 322.4 200.4 322.4 200.4 451.3 36.3 451.3 36.3 322.4ZM63.9 352.1 58.3 353.3 52.3 356.4 46.9 362.1 43.7 368 41.3 375.9 40.2 383.9 40.1 397.8 41.1 407.7 43.3 415.6 46.2 421.6 49.3 425.5 54.3 429.4 59.2 431.5 64.3 432.4 72.3 432.5 78.3 432 86.3 430.3 94.3 426.5 100.3 421.5 104.3 416.1 107.2 409.7 109 401.7 109.3 387.8 108.5 379.9 106.3 372.7 102.7 366 98.3 361.1 94.3 358 88.3 355 82.3 353.2 74.3 352.1 64.3 352.1Z"/>
<path fill="#86bfdb" d="M38.3 322.4 200.4 322.4 200.4 451.3 36.3 451.3 36.3 415.3 39.2 421.6 43.7 427.5 48.3 431.1 53.1 433.5 60.3 435.2 68.3 435.6 78.3 435.2 88.3 433.4 94.3 431 100.1 427.5 104.4 423.5 107.5 419.6 110.5 413.6 112.3 407.7 113.5 399.7 113.7 391.8 113.4 383.9 112.5 377.9 110.9 372 108.1 366 103.6 360.1 99 356.1 94.3 353.4 88.3 351.1 80.3 349.4 70.3 348.8 60.3 349.2 54.3 350.5 50.4 352.1 47.1 354.1 42.7 358.1 38.6 364 36.3 369.3 36.3 322.4Z"/>
<path fill="#a2cfe2" d="M38.3 322.4 200.4 322.4 200.4 451.3 36.3 451.3 36.3 427.5 40.6 431.5 47.8 435.4 54.9 437.4 64.3 438.3 78.3 438.1 90.3 436.5 99.9 433.5 106.8 429.5 111.4 425.5 114.3 422 117.1 417.6 118.8 413.6 121.1 403.7 121.7 391.8 121.4 383.9 120.7 377.9 119.2 372 116.7 366 112.7 360.1 108.8 356.1 104.3 352.9 99.1 350.2 92.3 347.9 82.3 346.1 70.3 345.5 58.3 345.9 52.3 347 46.3 349.1 41.1 352.1 36.3 356.6 36.3 322.4Z"/>
<path fill="#b8dce7" d="M38.3 322.4 200.4 322.4 200.4 451.3 36.3 451.3 36.3 434.3 42.4 437.4 52.3 440.1 62.3 441 76.3 441 88.3 440.1 98.3 438.1 106 435.4 112.3 432 116.3 428.8 120.4 424.7 124.8 417.6 126.9 411.6 128.4 404.2 128.9 391.8 128.4 380.1 126.8 372 124.7 366 120.4 358.7 113.7 352.1 106.3 347.7 98.3 344.8 88.3 342.7 78.3 341.9 62.3 341.8 52.3 342.7 44.3 344.8 36.3 348.8 36.3 322.4Z"/>
<path fill="#d0e7ef" d="M38.3 322.4 200.4 322.4 200.4 451.3 36.3 451.3 36.3 439.3 44.3 441.8 52.3 443.2 62.3 443.8 80.3 443.6 90.3 442.8 98.3 441.3 106.3 438.9 113.3 435.4 118.3 431.8 122.4 427.8 125.4 423.5 127.5 419.6 129.7 413.6 130.9 407.7 131.5 401.7 131.7 391.8 130.9 375.9 129.8 370 127.8 364 124.9 358.1 122.4 354.5 118.3 350.2 114.3 347 108.3 343.5 100.3 340.5 92.3 338.7 82.3 337.7 66.3 337.3 54.3 337.8 44.3 339.4 36.3 342.2 36.3 322.4Z"/>
<path fill="#e0edf3" d="M38.3 322.4 200.4 322.4 200.4 451.3 36.3 451.3 36.3 443.3 44.3 445.2 54.3 446.3 72.3 446.6 86.3 446.1 94.3 445.2 103 443.4 110.3 440.8 116.3 437.6 120.4 434.7 124.4 430.8 128.2 425.5 130.4 421.4 132.4 415.6 133.8 407.7 134.5 391.8 134.4 381.9 133.6 374 132.4 366.9 130.4 360.6 128.3 356.1 124.4 350.2 120.4 345.9 116.3 342.8 110.3 339.3 104.3 336.9 96.3 334.8 86.3 333.4 72.3 332.9 54.3 333.2 44.3 334.5 36.3 336.5 36.3 322.4ZM173 346.2 171.3 348.2 165.9 360.1 160.4 373.6 151 399.7 148.4 405.7 145 411.6 144.8 413.6 146.4 415.9 148.4 416.5 150.4 416.5 152.4 415.6 158.4 407.5 164.4 397.4 184.9 354.1 185.1 350.2 184.3 348.2 182.6 346.2 180.4 344.9 178.4 344.4 176.4 344.5 174.4 345.2Z"/>
<path fill="#eff2f3" d="M38.3 322.4 200.4 322.4 200.4 451.3 36.3 451.3 36.3 446.9 50.3 448.9 72.3 449.3 90.3 448.7 102.3 446.7 110.3 444.3 116.3 441.5 122.4 437.4 128.4 431.5 132.4 430.8 136.4 428.2 140.4 430.1 150.4 429.1 160.4 430.9 166.4 431.4 186.4 431.5 188.4 430.8 190.1 429.5 191.4 427.5 191.6 425.5 191.6 372 192.3 352.1 191.6 342.2 191.6 330.3 189.7 328.3 186.4 327.4 164.4 327.5 148.4 329.1 138.4 327.8 130.4 327.4 36.3 327.3 36.3 322.4Z"/>
</g>
<svg x="36.3" y="322.4" width="164.1" height="128.9" viewBox="36.3 322.4 164.1 128.9" overflow="hidden">
<path d="M48.6 327.4 47.8 327.4M60.9 327.4 58.9 327.4M73.2 327.4 68.3 327.4M85.5 327.4 78.6 327.4M97.8 327.4 90.9 327.4M110.1 327.4 103.2 327.4M122.5 327.4 115.5 327.4M134.8 327.4 127.8 327.4M147.1 327.4 140.1 327.4M159.4 327.4 152.4 327.4M171.7 327.4 164.7 327.4M184.0 327.4 177.0 327.4M196.3 327.4 189.4 327.4M36.3 342.4 32.4 340.6M48.6 342.4 38.7 338.4M60.9 342.4 45.9 336.8M73.2 342.4 58.0 337.2M85.5 342.4 70.4 337.4M97.8 342.4 83.0 337.7M110.1 342.4 95.8 338.4M122.5 342.4 108.8 339.3M134.8 342.4 121.2 339.9M147.1 342.4 134.1 340.4M159.4 342.4 147.2 340.6M171.7 342.4 160.4 340.7M184.0 342.4 173.5 340.8M196.3 342.4 186.6 340.9M36.3 355.4 34.1 350.1M48.6 355.4 46.4 349.8 44.2 347.1M60.9 355.4 59.3 351.2 57.8 348.6 54.5 345.9M73.2 355.4 71.6 351.2 70.1 348.6 66.8 345.9M85.5 355.4 83.3 349.9 81.4 347.5 79.7 346.3M97.8 355.4 95.5 349.9 93.6 347.9M110.1 355.4 108.2 350.8M122.5 355.4 121.7 353.9M134.8 355.4 131.6 354.8M147.1 355.4 143.9 355.4M159.4 355.4 156.2 355.5M171.7 355.4 168.5 355.5M184.0 355.4 180.8 355.5M196.3 355.4 193.1 355.5M36.3 367.4 33.6 356.9M48.6 367.4 46.9 360.1 43.9 351.4M60.9 367.4 57.9 355.8 55.7 350.2 54.4 348.5M73.2 367.4 70.2 355.8 68.0 350.2 66.7 348.5M85.5 367.4 82.9 357.2 80.9 351.6 79.6 349.5M97.8 367.4 96.1 360.1 93.6 352.5M110.1 367.4 107.8 358.0M122.5 367.4 121.8 365.3M134.8 367.4 132.9 367.7M147.1 367.4 145.2 368.5M159.4 367.4 157.6 368.5M171.7 367.4 169.9 368.5M184.0 367.4 182.2 368.5M196.3 367.4 194.5 368.5M36.3 376.9 35.4 369.5 34.2 363.6M48.6 376.9 47.2 366.5 44.7 356.9M60.9 376.9 59.2 365.0 55.6 353.0M73.2 376.9 71.5 365.0 67.9 353.0M85.5 376.9 83.8 365.0 80.7 354.3M97.8 376.9 96.7 368.0 94.3 358.2M110.1 376.9 108.4 364.9M122.5 376.9 121.9 373.9M134.8 376.9 133.7 377.0M147.1 376.9 146.1 378.0M159.4 376.9 158.4 378.1M171.7 376.9 170.7 378.1M184.0 376.9 183.0 378.1M196.3 376.9 195.3 378.1M36.3 393.2 35.8 376.7M48.6 393.2 48.4 379.7 47.1 368.6M60.9 393.2 60.5 376.7 59.6 369.3 58.5 363.7M73.2 393.2 72.8 376.7 71.9 369.3 70.8 363.7M85.5 393.2 85.2 378.2 83.4 365.3M97.8 393.2 97.7 381.2 96.6 370.2M110.1 393.2 109.8 378.3M122.5 393.2 122.6 387.9M134.8 393.2 135.4 392.0M147.1 393.2 147.7 392.8M159.4 393.2 160.0 392.8M171.7 393.2 172.3 392.8M184.0 393.2 184.6 392.8M196.3 393.2 196.9 392.8M36.3 406.4 36.3 389.7M48.6 406.4 48.5 381.4M60.9 406.4 60.9 385.4 60.4 376.4M73.2 406.4 73.2 385.4 72.7 376.4M85.5 406.4 85.5 385.4 85.2 378.1M97.8 406.4 97.8 383.0M110.1 406.4 110.1 391.3M122.5 406.4 123.1 400.3M134.8 406.4 137.2 403.2M147.1 406.4 148.9 404.8M159.4 406.4 161.2 404.8M171.7 406.4 173.5 404.8M184.0 406.4 185.9 404.8M196.3 406.4 198.2 404.8M36.3 417.6 36.4 401.3M48.6 417.6 48.7 393.2M60.9 417.6 61.0 388.4M73.2 417.6 73.3 388.4M85.5 417.6 85.6 390.0M97.8 417.6 97.9 394.8M110.1 417.6 110.2 403.0M122.5 417.6 123.5 411.3M134.8 417.6 138.1 413.1M147.1 417.6 150.0 414.7M159.4 417.6 162.3 414.7M171.7 417.6 174.6 414.7M184.0 417.6 186.9 414.7M196.3 417.6 199.2 414.7M36.3 427.5 37.3 421.6 37.6 412.8M48.6 427.5 49.4 420.1 49.5 405.8M60.9 427.5 61.6 420.0 61.7 401.6M73.2 427.5 73.9 420.0 74.0 401.6M85.5 427.5 86.3 420.0 86.4 403.0M97.8 427.5 98.7 420.1 98.8 407.3M110.1 427.5 111.3 421.6 111.6 414.2M122.5 427.5 125.5 421.6M134.8 427.5 138.9 423.9M147.1 427.5 151.0 425.2M159.4 427.5 163.3 425.2M171.7 427.5 175.6 425.2M184.0 427.5 187.9 425.2M196.3 427.5 200.2 425.2M36.3 433.9 38.8 428.5 40.0 421.5M48.6 433.9 50.8 426.7 51.5 416.1M60.9 433.9 62.2 429.6 63.0 425.2 63.4 412.7M73.2 433.9 74.5 429.6 75.3 425.2 75.8 412.7M85.5 433.9 86.9 429.6 87.8 425.2 88.2 413.9M97.8 433.9 100.2 426.8 101.1 417.2M110.1 433.9 113.1 428.7 114.8 422.9M122.5 433.9 128.0 429.3M134.8 433.9 139.7 431.7M147.1 433.9 151.9 432.6M159.4 433.9 164.2 432.6M171.7 433.9 176.5 432.6M184.0 433.9 188.8 432.6M196.3 433.9 201.1 432.6M36.3 440.2 39.3 436.9 41.7 432.6M48.6 440.2 51.7 435.1 53.6 429.5M60.9 440.2 63.7 434.9 65.8 427.6M73.2 440.2 76.0 434.9 78.1 427.6M85.5 440.2 88.4 435.0 90.6 428.3M97.8 440.2 101.2 435.3 103.5 430.4M110.1 440.2 116.6 434.0M122.5 440.2 128.7 437.6M134.8 440.2 140.3 439.1M147.1 440.2 152.5 439.6M159.4 440.2 164.8 439.6M171.7 440.2 177.1 439.6M184.0 440.2 189.5 439.6M196.3 440.2 201.8 439.6M36.3 445.9 40.4 444.1 42.6 442.6M48.6 445.9 52.4 443.5 54.7 441.3M60.9 445.9 64.5 443.2 66.9 440.6M73.2 445.9 76.9 443.3 79.2 440.6M85.5 445.9 89.3 443.4 91.7 441.0M97.8 445.9 104.3 442.1M110.1 445.9 116.8 443.7M122.5 445.9 128.9 444.9M134.8 445.9 141.0 445.5M147.1 445.9 153.3 445.7M159.4 445.9 165.6 445.7M171.7 445.9 177.9 445.7M184.0 445.9 190.2 445.7M196.3 445.9 202.6 445.7" stroke="#000" stroke-width="0.85" fill="none" stroke-linecap="round" stroke-linejoin="round"/><path d="M46.6 327.4L47.8 326.7L47.8 328.1ZM55.8 327.4L58.9 326.1L58.9 328.7ZM65.1 327.4L68.3 326.1L68.3 328.7ZM75.4 327.4L78.6 326.1L78.6 328.7ZM87.7 327.4L90.9 326.1L90.9 328.7ZM100.0 327.4L103.2 326.1L103.2 328.7ZM112.3 327.4L115.5 326.1L115.5 328.7ZM124.6 327.4L127.8 326.1L127.8 328.7ZM136.9 327.4L140.1 326.1L140.1 328.7ZM149.2 327.4L152.4 326.1L152.4 328.7ZM161.5 327.4L164.7 326.1L164.7 328.7ZM173.8 327.4L177.0 326.1L177.0 328.7ZM186.2 327.4L189.4 326.1L189.4 328.7ZM29.5 339.2L33.0 339.4L31.9 341.7ZM35.8 336.9L39.3 337.2L38.1 339.5ZM43.0 335.4L46.5 335.7L45.3 338.0ZM55.1 336.0L58.5 336.0L57.6 338.4ZM67.4 336.2L70.9 336.1L70.0 338.6ZM80.0 336.7L83.5 336.5L82.6 339.0ZM92.8 337.5L96.2 337.2L95.4 339.6ZM105.7 338.5L109.1 338.0L108.5 340.5ZM118.1 339.3L121.5 338.7L121.0 341.2ZM130.9 339.9L134.3 339.1L133.9 341.6ZM144.1 340.1L147.4 339.3L147.0 341.8ZM157.2 340.2L160.5 339.4L160.2 342.0ZM170.3 340.3L173.7 339.5L173.3 342.1ZM183.5 340.5L186.8 339.6L186.5 342.2ZM32.5 347.3L35.2 349.4L33.0 350.7ZM41.7 345.1L45.0 346.0L43.4 348.1ZM51.8 344.3L55.2 344.8L53.9 347.0ZM64.0 344.4L67.4 344.8L66.2 347.1ZM77.0 344.7L80.4 345.2L79.1 347.4ZM91.1 345.9L94.4 346.8L92.8 348.9ZM106.3 348.2L109.2 350.0L107.1 351.6ZM120.5 351.7L122.8 353.3L120.5 354.6ZM128.6 353.6L132.1 353.6L131.1 356.0ZM140.7 355.3L143.9 354.1L143.8 356.7ZM153.0 355.5L156.2 354.2L156.2 356.8ZM165.3 355.5L168.5 354.2L168.5 356.8ZM177.6 355.5L180.8 354.2L180.8 356.8ZM189.9 355.5L193.1 354.2L193.1 356.8ZM32.6 353.9L34.8 356.5L32.4 357.3ZM42.4 348.6L45.1 350.8L42.8 352.0ZM52.1 346.2L55.3 347.5L53.5 349.4ZM64.4 346.3L67.6 347.5L65.8 349.4ZM77.6 347.0L80.6 348.6L78.6 350.3ZM92.2 349.6L94.7 352.0L92.4 353.1ZM106.8 355.0L109.0 357.6L106.6 358.4ZM121.0 362.3L123.1 365.0L120.6 365.7ZM130.1 367.5L133.0 366.4L132.8 369.0ZM142.5 370.1L144.6 367.4L145.9 369.6ZM155.0 370.3L156.8 367.5L158.3 369.6ZM167.3 370.3L169.2 367.5L170.6 369.6ZM179.6 370.3L181.5 367.5L182.9 369.6ZM191.9 370.3L193.8 367.5L195.2 369.6ZM33.5 360.5L35.5 363.3L33.0 363.9ZM43.7 353.9L45.9 356.5L43.4 357.3ZM54.3 350.0L56.8 352.5L54.4 353.5ZM66.6 350.0L69.1 352.5L66.7 353.5ZM79.6 351.3L81.9 353.8L79.5 354.7ZM93.3 355.2L95.6 357.8L93.1 358.6ZM107.7 361.8L109.7 364.6L107.2 365.3ZM121.3 370.7L123.2 373.6L120.6 374.1ZM132.1 377.1L133.6 376.1L133.8 377.9ZM144.5 379.7L145.2 377.2L147.0 378.8ZM157.0 379.8L157.5 377.3L159.4 378.8ZM169.3 379.8L169.8 377.3L171.7 378.8ZM181.6 379.8L182.1 377.3L184.0 378.8ZM193.9 379.8L194.4 377.3L196.3 378.8ZM35.5 373.5L37.1 376.6L34.5 376.8ZM46.5 365.4L48.4 368.3L45.9 368.8ZM57.7 360.6L59.7 363.4L57.2 364.0ZM70.0 360.6L72.0 363.4L69.5 364.0ZM82.7 362.2L84.7 365.0L82.2 365.6ZM96.1 367.0L97.9 370.0L95.3 370.4ZM109.5 375.2L111.1 378.2L108.5 378.4ZM122.7 384.7L123.9 388.0L121.3 387.9ZM136.3 390.2L136.3 392.5L134.4 391.5ZM148.7 392.2L148.0 393.3L147.4 392.3ZM161.0 392.2L160.3 393.3L159.7 392.3ZM173.3 392.2L172.6 393.3L172.0 392.3ZM185.6 392.2L184.9 393.3L184.3 392.3ZM197.9 392.2L197.2 393.3L196.6 392.3ZM36.3 386.5L37.6 389.7L35.0 389.7ZM48.3 378.2L49.7 381.3L47.2 381.5ZM60.1 373.2L61.7 376.3L59.1 376.5ZM72.4 373.2L74.0 376.3L71.4 376.5ZM84.9 374.9L86.5 378.0L83.9 378.2ZM97.6 379.9L99.1 383.0L96.5 383.1ZM110.1 388.1L111.4 391.3L108.8 391.3ZM123.4 397.1L124.4 400.4L121.8 400.2ZM139.1 400.7L138.2 404.0L136.1 402.4ZM151.4 402.7L149.8 405.7L148.1 403.8ZM163.7 402.7L162.1 405.7L160.4 403.8ZM176.0 402.7L174.4 405.7L172.7 403.8ZM188.3 402.7L186.7 405.7L185.0 403.8ZM200.6 402.7L199.0 405.7L197.3 403.8ZM36.4 398.1L37.7 401.3L35.1 401.3ZM48.7 390.0L50.0 393.2L47.4 393.2ZM60.9 385.2L62.3 388.4L59.7 388.4ZM73.2 385.2L74.6 388.4L72.0 388.4ZM85.6 386.8L86.9 390.0L84.3 390.0ZM97.9 391.6L99.2 394.8L96.6 394.8ZM110.2 399.8L111.5 403.0L108.9 403.0ZM124.0 408.2L124.8 411.6L122.2 411.1ZM140.1 410.6L139.1 413.9L137.1 412.3ZM152.2 412.4L150.9 415.6L149.0 413.8ZM164.5 412.4L163.2 415.6L161.3 413.8ZM176.8 412.4L175.5 415.6L173.6 413.8ZM189.1 412.4L187.8 415.6L186.0 413.8ZM201.4 412.4L200.1 415.6L198.3 413.8ZM37.6 409.6L38.9 412.9L36.3 412.8ZM49.5 402.6L50.8 405.8L48.2 405.8ZM61.7 398.4L63.0 401.6L60.4 401.6ZM74.0 398.4L75.3 401.6L72.7 401.6ZM86.4 399.8L87.7 403.0L85.1 403.0ZM98.8 404.1L100.1 407.3L97.5 407.3ZM111.6 411.0L112.9 414.3L110.3 414.2ZM126.5 418.6L126.7 422.1L124.2 421.2ZM141.1 421.7L139.8 424.9L138.0 423.0ZM153.6 423.4L151.7 426.3L150.2 424.2ZM165.9 423.4L164.0 426.3L162.5 424.2ZM178.2 423.4L176.3 426.3L174.8 424.2ZM190.5 423.4L188.6 426.3L187.1 424.2ZM202.8 423.4L200.9 426.3L199.4 424.2ZM40.2 418.3L41.3 421.6L38.7 421.4ZM51.5 412.9L52.8 416.1L50.2 416.1ZM63.5 409.5L64.7 412.7L62.1 412.7ZM75.8 409.5L77.1 412.7L74.5 412.7ZM88.2 410.7L89.5 413.9L86.9 413.9ZM101.1 414.0L102.4 417.2L99.8 417.2ZM115.2 419.7L116.1 423.0L113.5 422.7ZM130.3 427.1L128.9 430.2L127.1 428.3ZM142.6 430.4L140.2 432.9L139.2 430.5ZM154.9 431.6L152.2 433.8L151.5 431.3ZM167.2 431.6L164.5 433.8L163.8 431.3ZM179.5 431.6L176.8 433.8L176.1 431.3ZM191.8 431.6L189.2 433.8L188.4 431.3ZM204.1 431.6L201.5 433.8L200.7 431.3ZM42.9 429.6L42.9 433.1L40.5 432.1ZM54.3 426.4L54.9 429.8L52.3 429.2ZM66.2 424.4L67.0 427.8L64.5 427.4ZM78.6 424.5L79.4 427.8L76.8 427.4ZM91.2 425.2L91.9 428.6L89.3 428.1ZM104.5 427.4L104.7 430.8L102.2 430.0ZM118.8 431.7L117.6 434.9L115.7 433.1ZM131.7 436.3L129.2 438.8L128.2 436.4ZM143.4 438.5L140.5 440.4L140.0 437.8ZM155.7 439.2L152.7 440.9L152.4 438.3ZM168.0 439.2L165.0 440.9L164.7 438.3ZM180.3 439.2L177.3 440.9L177.0 438.3ZM192.6 439.2L189.6 440.9L189.3 438.3ZM204.9 439.2L201.9 440.9L201.6 438.3ZM45.0 440.6L43.4 443.6L41.7 441.6ZM56.6 438.8L55.8 442.1L53.7 440.6ZM68.6 437.8L68.0 441.2L65.8 439.9ZM81.0 437.9L80.3 441.3L78.2 439.9ZM93.7 438.5L92.8 441.8L90.7 440.2ZM106.8 440.1L105.2 443.1L103.5 441.1ZM119.8 442.7L117.2 444.9L116.4 442.5ZM132.1 444.5L129.1 446.2L128.8 443.7ZM144.2 445.3L141.1 446.8L141.0 444.2ZM156.5 445.5L153.4 447.0L153.3 444.4ZM168.8 445.5L165.7 447.0L165.6 444.4ZM181.1 445.5L178.0 447.0L177.9 444.4ZM193.4 445.5L190.3 447.0L190.2 444.4ZM205.8 445.5L202.6 447.0L202.5 444.4Z" fill="#000"/>
</svg>
<rect x="36.3" y="322.4" width="164.1" height="128.9" fill="none" stroke="#333" stroke-width="1"/>
<path d="M36.3 322.4h-2.2M36.3 341.2h-2.2M36.3 355.5h-2.2M36.3 367.1h-2.2M36.3 376.9h-2.2M36.3 393.2h-2.2M36.3 406.4h-2.2M36.3 427.5h-2.2M36.3 440.2h-2.2M36.3 451.3h-2.2M200.4 334.2h2.2M200.4 356.5h2.2M200.4 379.5h2.2M200.4 401.6h2.2M200.4 423.2h2.2M36.3 451.3v2.2M77.3 451.3v2.2M118.3 451.3v2.2M159.4 451.3v2.2M200.4 451.3v2.2M44.5 451.3v1.3M52.7 451.3v1.3M60.9 451.3v1.3M69.1 451.3v1.3M85.5 451.3v1.3M93.7 451.3v1.3M101.9 451.3v1.3M110.1 451.3v1.3M126.6 451.3v1.3M134.8 451.3v1.3M143 451.3v1.3M151.2 451.3v1.3M167.6 451.3v1.3M175.8 451.3v1.3M184 451.3v1.3M192.2 451.3v1.3" stroke="#333" stroke-width="0.9" fill="none"/>
<text x="32.2" y="325.8" font-size="10.2" text-anchor="end">100</text>
<text x="32.2" y="344.6" font-size="10.2" text-anchor="end">150</text>
<text x="32.2" y="358.9" font-size="10.2" text-anchor="end">200</text>
<text x="32.2" y="370.5" font-size="10.2" text-anchor="end">250</text>
<text x="32.2" y="380.3" font-size="10.2" text-anchor="end">300</text>
<text x="32.2" y="396.6" font-size="10.2" text-anchor="end">400</text>
<text x="32.2" y="409.8" font-size="10.2" text-anchor="end">500</text>
<text x="32.2" y="430.9" font-size="10.2" text-anchor="end">700</text>
<text x="32.2" y="443.6" font-size="10.2" text-anchor="end">850</text>
<text x="32.2" y="454.7" font-size="10.2" text-anchor="end">1000</text>
<text x="204.6" y="337.6" font-size="10.2" text-anchor="start">15</text>
<text x="204.6" y="359.9" font-size="10.2" text-anchor="start">12</text>
<text x="204.6" y="382.9" font-size="10.2" text-anchor="start">9</text>
<text x="204.6" y="405" font-size="10.2" text-anchor="start">6</text>
<text x="204.6" y="426.6" font-size="10.2" text-anchor="start">3</text>
<text x="36.3" y="462.9" font-size="10.2" text-anchor="middle">0</text>
<text x="77.3" y="462.9" font-size="10.2" text-anchor="middle">10N</text>
<text x="118.3" y="462.9" font-size="10.2" text-anchor="middle">20N</text>
<text x="159.4" y="462.9" font-size="10.2" text-anchor="middle">30N</text>
<text x="200.4" y="462.9" font-size="10.2" text-anchor="middle">40N</text>
<text x="36.7" y="318" font-size="11.7" text-anchor="start">(g)MME_P1:1984-2014</text>
<text x="6.6" y="386.8" font-size="10.0" text-anchor="middle" transform="rotate(-90 6.6 386.8)">Pressure(mb)</text>
<text x="224.7" y="386.5" font-size="10.0" text-anchor="middle" transform="rotate(-90 224.7 386.5)">Height/(km)</text>
<g>
<rect x="265.4" y="322.4" width="164.1" height="128.9" fill="#22447a"/>
<path fill="#2c5a98" d="M267.4 322.4 429.5 322.4 429.5 451.3 265.4 451.3 265.4 322.4ZM294.9 381.9 293.4 385.2 292.8 387.8 292.5 393.8 293 397.8 293.5 399.7 295.4 403.5 297.4 404.5 299.4 403.4 301.7 397.8 302.2 393.8 301.9 387.8 300.8 383.9 299.4 381.3 297.4 380.2 295.4 381.2Z"/>
<path fill="#3a6eb0" d="M267.4 322.4 429.5 322.4 429.5 451.3 265.4 451.3 265.4 322.4ZM295.4 370 293.3 372 290.6 377.9 289.1 387.8 289 395.8 290.6 407.7 293.1 413.6 295.4 416.2 297.4 416.7 299.4 416.6 302.4 415.6 305.3 413.6 307.4 411.2 309.4 407.8 311.5 401.7 312.4 391.8 311.5 383.9 310.3 379.9 308.3 375.9 304.8 372 301.4 370.1 299.4 369.6 297.4 369.5 295.4 370Z"/>
<path fill="#4a87bd" d="M267.4 322.4 429.5 322.4 429.5 451.3 265.4 451.3 265.4 322.4ZM292.7 364 290.8 366 288.6 370 286.7 375.9 285.8 381.9 285.2 389.8 285.3 397.8 286.1 405.7 287.4 411.6 288.7 415.6 291 419.6 293.4 421.9 295.4 422.9 299.4 423.1 303.4 422.3 307.4 420.6 309.4 419.1 314.2 413.6 316.2 409.7 318.1 403.7 318.9 397.8 319.1 391.8 318.8 385.9 317.7 379.9 315.5 374 313.4 370.5 311.4 368 307.4 364.8 303.4 363.1 299.4 362.4 295.4 362.6 293.4 363.5Z"/>
<path fill="#5a9ec9" d="M267.4 322.4 429.5 322.4 429.5 451.3 265.4 451.3 265.4 322.4ZM292.2 358.1 288.7 360.1 285.1 364 282.1 370 280.4 375.9 279.3 383.9 279 393.8 279.3 401.7 280.6 409.7 282.5 415.6 284.4 419.6 287.5 423.5 290.1 425.5 293.4 426.9 297.4 427.4 303.4 427 307.4 426 313 423.5 317.8 419.6 320.9 415.6 323.8 409.7 325.8 401.7 326.3 395.8 326.2 385.9 325.2 379.9 323.4 374 321.5 370 318.7 366 314.4 362.1 311.2 360.1 305.4 358 299.4 357.3 293.4 357.7Z"/>
<path fill="#6aaed3" d="M267.4 322.4 429.5 322.4 429.5 451.3 265.4 451.3 265.4 322.4ZM291.3 354.1 286 356.1 281.1 360.1 277 366 274.7 372 273 379.9 272.3 389.8 272.7 401.7 274.4 411.6 276.6 417.6 279.4 422.4 283.4 426.6 287.4 429.1 291.4 430.4 297.4 430.9 305.4 430.5 311.4 429.5 317.4 427.4 323.9 423.5 329.4 417.8 332.9 411.6 334.9 405.7 336 397.8 336.1 387.8 334.6 377.9 332.5 372 328.9 366 325.1 362.1 319.4 358.1 315 356.1 307.4 354.2 299.4 353.6 291.4 354.1Z"/>
<path fill="#86bfdb" d="M267.4 322.4 429.5 322.4 429.5 451.3 265.4 451.3 265.4 399.1 266.7 409.7 269.2 417.6 272.6 423.5 277.4 428.6 281.9 431.5 289.4 433.8 297.4 434.3 307.4 433.9 315.4 432.3 321.4 430.1 327.4 426.3 332.2 421.6 336 415.6 338.4 409.7 340.1 399.7 340.4 391.8 340 383.9 338.6 375.9 336.5 370 334.4 366 331.4 362.3 325.4 356.8 319.4 353.6 313.4 351.6 305.4 350.4 295.4 350.1 289.4 350.7 283.4 352.4 277.1 356.1 271.9 362.1 268.8 368 266.5 375.9 265.4 385.6 265.4 322.4Z"/>
<path fill="#a2cfe2" d="M267.4 322.4 429.5 322.4 429.5 451.3 265.4 451.3 265.4 424.2 270.1 429.5 275.4 433.2 280.8 435.4 287.4 436.9 297.4 437.4 309.4 437 317.4 435.7 325 433.5 329.4 431.3 335.1 427.5 339.1 423.5 343.1 417.6 345.6 411.6 347 405.7 347.7 399.7 347.9 391.8 347.6 383.9 346.8 377.9 345.3 372 342.7 366 338.5 360.1 334.3 356.1 329.4 352.9 323.4 350.2 315.4 348 307.4 347 293.4 346.8 285.4 347.6 279.4 349.2 273.5 352.1 268.7 356.1 265.4 360.1 265.4 322.4Z"/>
<path fill="#b8dce7" d="M267.4 322.4 429.5 322.4 429.5 451.3 265.4 451.3 265.4 432.6 269.4 435.1 273.4 437 281.4 439.2 289.4 440.1 303.4 440.2 316.2 439.4 326.5 437.4 333.4 435 340 431.5 343.4 429 347.4 425.1 351.4 419.6 353.3 415.6 355.5 408.4 356.6 391.8 355.5 375.9 353.5 368.9 351.2 364 347.4 358.6 343.4 354.6 337.4 350.4 333.4 348.4 325.4 345.6 315.4 343.7 305.4 343 291.4 342.9 283.4 343.6 277.4 344.9 271.4 347.2 265.4 350.9 265.4 322.4Z"/>
<path fill="#d0e7ef" d="M267.4 322.4 429.5 322.4 429.5 451.3 265.4 451.3 265.4 438.3 273.4 441.1 281.4 442.5 291.4 443.2 309.4 443 319.4 442.2 327.4 440.7 335.4 438.1 341.4 435.2 346.7 431.5 350.7 427.5 353.7 423.5 356.7 417.6 358.6 411.6 359.6 405.7 360.2 391.8 359.6 377.9 358.6 372 356.9 366 354.1 360.1 351.5 356 347.4 351.5 343.4 348.2 337.4 344.6 329.4 341.6 321.4 339.7 311.4 338.6 295.4 338.3 283.4 338.8 273.4 340.5 265.4 343.5 265.4 322.4Z"/>
<path fill="#e0edf3" d="M267.4 322.4 429.5 322.4 429.5 451.3 265.4 451.3 265.4 442.7 273.4 444.7 283.4 445.9 299.4 446.2 313.4 445.8 323.4 444.8 331.4 443.1 337.4 441.1 344.8 437.4 349.5 434.1 353.5 430.1 356.8 425.5 359.5 420.2 361.5 414 362.5 407.7 363.3 391.8 363.1 381.9 362.3 374 361.3 368 359.5 361.9 356.7 356.1 353.5 351.2 349.5 346.8 345.4 343.6 339.4 340 331.4 337 323.4 335.1 313.4 334 299.4 333.6 283.4 333.9 273.4 335.2 265.4 337.3 265.4 322.4ZM402.1 346.2 400.4 348.2 395 360.1 389.5 373.6 380.1 399.7 377.5 405.7 374.1 411.6 373.9 413.6 375.5 415.9 377.5 416.5 379.5 416.5 381.5 415.6 387.5 407.5 393.5 397.4 414 354.1 414.2 350.2 413.4 348.2 411.7 346.2 409.5 344.9 407.5 344.4 405.5 344.5 403.5 345.2Z"/>
<path fill="#eff2f3" d="M267.4 322.4 429.5 322.4 429.5 451.3 265.4 451.3 265.4 446.7 279.4 448.7 301.4 449.1 319.4 448.5 331.4 446.5 339.4 444 345.1 441.4 351 437.4 357.5 431.5 361.5 430.8 365.5 428.2 369.5 430.1 379.5 429.1 389.5 430.9 395.5 431.4 415.5 431.5 417.5 430.8 419.2 429.5 420.5 427.5 420.7 425.5 420.7 372 421.4 352.1 420.7 342.2 420.7 330.3 418.8 328.3 415.5 327.4 393.5 327.5 377.5 329.1 367.5 327.8 359.5 327.4 265.4 327.3 265.4 322.4ZM365.5 406.2 365.8 407.7 365.5 410.7 365.3 407.7Z"/>
</g>
<svg x="265.4" y="322.4" width="164.1" height="128.9" viewBox="265.4 322.4 164.1 128.9" overflow="hidden">
<path d="M277.7 327.4 276.9 327.4M290.0 327.4 288.0 327.4M302.3 327.4 297.4 327.4M314.6 327.4 307.7 327.4M326.9 327.4 320.0 327.4M339.2 327.4 332.3 327.4M351.6 327.4 344.6 327.4M363.9 327.4 356.9 327.4M376.2 327.4 369.2 327.4M388.5 327.4 381.5 327.4M400.8 327.4 393.8 327.4M413.1 327.4 406.1 327.4M425.4 327.4 418.5 327.4M265.4 342.4 261.5 340.6M277.7 342.4 267.8 338.4M290.0 342.4 275.0 336.8M302.3 342.4 287.1 337.2M314.6 342.4 299.5 337.4M326.9 342.4 312.1 337.7M339.2 342.4 324.9 338.4M351.6 342.4 337.9 339.3M363.9 342.4 350.3 339.9M376.2 342.4 363.2 340.4M388.5 342.4 376.3 340.6M400.8 342.4 389.5 340.7M413.1 342.4 402.6 340.8M425.4 342.4 415.7 340.9M265.4 355.4 263.2 350.1M277.7 355.4 275.5 349.8 273.3 347.1M290.0 355.4 288.4 351.2 286.9 348.6 283.6 345.9M302.3 355.4 300.7 351.2 299.2 348.6 295.9 345.9M314.6 355.4 312.4 349.9 310.5 347.5 308.8 346.3M326.9 355.4 324.6 349.9 322.7 347.9M339.2 355.4 337.3 350.8M351.6 355.4 350.8 353.9M363.9 355.4 360.7 354.8M376.2 355.4 373.0 355.4M388.5 355.4 385.3 355.5M400.8 355.4 397.6 355.5M413.1 355.4 409.9 355.5M425.4 355.4 422.2 355.5M265.4 367.4 262.7 356.9M277.7 367.4 276.0 360.1 273.0 351.4M290.0 367.4 287.0 355.8 284.8 350.2 283.5 348.5M302.3 367.4 299.3 355.8 297.1 350.2 295.8 348.5M314.6 367.4 312.0 357.2 310.0 351.6 308.7 349.5M326.9 367.4 325.2 360.1 322.7 352.5M339.2 367.4 336.9 358.0M351.6 367.4 350.9 365.3M363.9 367.4 362.0 367.7M376.2 367.4 374.3 368.5M388.5 367.4 386.7 368.5M400.8 367.4 399.0 368.5M413.1 367.4 411.3 368.5M425.4 367.4 423.6 368.5M265.4 376.9 264.5 369.5 263.3 363.6M277.7 376.9 276.3 366.5 273.8 356.9M290.0 376.9 288.3 365.0 284.7 353.0M302.3 376.9 300.6 365.0 297.0 353.0M314.6 376.9 312.9 365.0 309.8 354.3M326.9 376.9 325.8 368.0 323.4 358.2M339.2 376.9 337.5 364.9M351.6 376.9 351.0 373.9M363.9 376.9 362.8 377.0M376.2 376.9 375.2 378.0M388.5 376.9 387.5 378.1M400.8 376.9 399.8 378.1M413.1 376.9 412.1 378.1M425.4 376.9 424.4 378.1M265.4 393.2 264.9 376.7M277.7 393.2 277.5 379.7 276.2 368.6M290.0 393.2 289.6 376.7 288.7 369.3 287.6 363.7M302.3 393.2 301.9 376.7 301.0 369.3 299.9 363.7M314.6 393.2 314.3 378.2 312.5 365.3M326.9 393.2 326.8 381.2 325.7 370.2M339.2 393.2 338.9 378.3M351.6 393.2 351.7 387.9M363.9 393.2 364.5 392.0M376.2 393.2 376.8 392.8M388.5 393.2 389.1 392.8M400.8 393.2 401.4 392.8M413.1 393.2 413.7 392.8M425.4 393.2 426.0 392.8M265.4 406.4 265.4 389.7M277.7 406.4 277.6 381.4M290.0 406.4 290.0 385.4 289.5 376.4M302.3 406.4 302.3 385.4 301.8 376.4M314.6 406.4 314.6 385.4 314.3 378.1M326.9 406.4 326.9 383.0M339.2 406.4 339.2 391.3M351.6 406.4 352.2 400.3M363.9 406.4 366.3 403.2M376.2 406.4 378.0 404.8M388.5 406.4 390.3 404.8M400.8 406.4 402.6 404.8M413.1 406.4 415.0 404.8M425.4 406.4 427.3 404.8M265.4 417.6 265.5 401.3M277.7 417.6 277.8 393.2M290.0 417.6 290.1 388.4M302.3 417.6 302.4 388.4M314.6 417.6 314.7 390.0M326.9 417.6 327.0 394.8M339.2 417.6 339.3 403.0M351.6 417.6 352.6 411.3M363.9 417.6 367.2 413.1M376.2 417.6 379.1 414.7M388.5 417.6 391.4 414.7M400.8 417.6 403.7 414.7M413.1 417.6 416.0 414.7M425.4 417.6 428.3 414.7M265.4 427.5 266.4 421.6 266.7 412.8M277.7 427.5 278.5 420.1 278.6 405.8M290.0 427.5 290.7 420.0 290.8 401.6M302.3 427.5 303.0 420.0 303.1 401.6M314.6 427.5 315.4 420.0 315.5 403.0M326.9 427.5 327.8 420.1 327.9 407.3M339.2 427.5 340.4 421.6 340.7 414.2M351.6 427.5 354.6 421.6M363.9 427.5 368.0 423.9M376.2 427.5 380.1 425.2M388.5 427.5 392.4 425.2M400.8 427.5 404.7 425.2M413.1 427.5 417.0 425.2M425.4 427.5 429.3 425.2M265.4 433.9 267.9 428.5 269.1 421.5M277.7 433.9 279.9 426.7 280.6 416.1M290.0 433.9 291.3 429.6 292.1 425.2 292.5 412.7M302.3 433.9 303.6 429.6 304.4 425.2 304.9 412.7M314.6 433.9 316.0 429.6 316.9 425.2 317.3 413.9M326.9 433.9 329.3 426.8 330.2 417.2M339.2 433.9 342.2 428.7 343.9 422.9M351.6 433.9 357.1 429.3M363.9 433.9 368.8 431.7M376.2 433.9 381.0 432.6M388.5 433.9 393.3 432.6M400.8 433.9 405.6 432.6M413.1 433.9 417.9 432.6M425.4 433.9 430.2 432.6M265.4 440.2 268.4 436.9 270.8 432.6M277.7 440.2 280.8 435.1 282.7 429.5M290.0 440.2 292.8 434.9 294.9 427.6M302.3 440.2 305.1 434.9 307.2 427.6M314.6 440.2 317.5 435.0 319.7 428.3M326.9 440.2 330.3 435.3 332.6 430.4M339.2 440.2 345.7 434.0M351.6 440.2 357.8 437.6M363.9 440.2 369.4 439.1M376.2 440.2 381.6 439.6M388.5 440.2 393.9 439.6M400.8 440.2 406.2 439.6M413.1 440.2 418.6 439.6M425.4 440.2 430.9 439.6M265.4 445.9 269.5 444.1 271.7 442.6M277.7 445.9 281.5 443.5 283.8 441.3M290.0 445.9 293.6 443.2 296.0 440.6M302.3 445.9 306.0 443.3 308.3 440.6M314.6 445.9 318.4 443.4 320.8 441.0M326.9 445.9 333.4 442.1M339.2 445.9 345.9 443.7M351.6 445.9 358.0 444.9M363.9 445.9 370.1 445.5M376.2 445.9 382.4 445.7M388.5 445.9 394.7 445.7M400.8 445.9 407.0 445.7M413.1 445.9 419.3 445.7M425.4 445.9 431.7 445.7" stroke="#000" stroke-width="0.85" fill="none" stroke-linecap="round" stroke-linejoin="round"/><path d="M275.7 327.4L276.9 326.7L276.9 328.1ZM284.9 327.4L288.0 326.1L288.0 328.7ZM294.2 327.4L297.4 326.1L297.4 328.7ZM304.5 327.4L307.7 326.1L307.7 328.7ZM316.8 327.4L320.0 326.1L320.0 328.7ZM329.1 327.4L332.3 326.1L332.3 328.7ZM341.4 327.4L344.6 326.1L344.6 328.7ZM353.7 327.4L356.9 326.1L356.9 328.7ZM366.0 327.4L369.2 326.1L369.2 328.7ZM378.3 327.4L381.5 326.1L381.5 328.7ZM390.6 327.4L393.8 326.1L393.8 328.7ZM402.9 327.4L406.1 326.1L406.1 328.7ZM415.3 327.4L418.5 326.1L418.5 328.7ZM258.6 339.2L262.1 339.4L261.0 341.7ZM264.9 336.9L268.4 337.2L267.2 339.5ZM272.1 335.4L275.6 335.7L274.4 338.0ZM284.2 336.0L287.6 336.0L286.7 338.4ZM296.5 336.2L300.0 336.1L299.1 338.6ZM309.1 336.7L312.6 336.5L311.7 339.0ZM321.9 337.5L325.3 337.2L324.5 339.6ZM334.8 338.5L338.2 338.0L337.6 340.5ZM347.2 339.3L350.6 338.7L350.1 341.2ZM360.0 339.9L363.4 339.1L363.0 341.6ZM373.2 340.1L376.5 339.3L376.1 341.8ZM386.3 340.2L389.6 339.4L389.3 342.0ZM399.4 340.3L402.8 339.5L402.4 342.1ZM412.6 340.5L415.9 339.6L415.6 342.2ZM261.6 347.3L264.3 349.4L262.1 350.7ZM270.8 345.1L274.1 346.0L272.5 348.1ZM280.9 344.3L284.3 344.8L283.0 347.0ZM293.1 344.4L296.5 344.8L295.3 347.1ZM306.1 344.7L309.5 345.2L308.2 347.4ZM320.2 345.9L323.5 346.8L321.9 348.9ZM335.4 348.2L338.3 350.0L336.2 351.6ZM349.6 351.7L351.9 353.3L349.6 354.6ZM357.7 353.6L361.2 353.6L360.2 356.0ZM369.8 355.3L373.0 354.1L372.9 356.7ZM382.1 355.5L385.3 354.2L385.3 356.8ZM394.4 355.5L397.6 354.2L397.6 356.8ZM406.7 355.5L409.9 354.2L409.9 356.8ZM419.0 355.5L422.2 354.2L422.2 356.8ZM261.7 353.9L263.9 356.5L261.5 357.3ZM271.5 348.6L274.2 350.8L271.9 352.0ZM281.2 346.2L284.4 347.5L282.6 349.4ZM293.5 346.3L296.7 347.5L294.9 349.4ZM306.7 347.0L309.7 348.6L307.7 350.3ZM321.3 349.6L323.8 352.0L321.5 353.1ZM335.9 355.0L338.1 357.6L335.7 358.4ZM350.1 362.3L352.2 365.0L349.7 365.7ZM359.2 367.5L362.1 366.4L361.9 369.0ZM371.6 370.1L373.7 367.4L375.0 369.6ZM384.1 370.3L385.9 367.5L387.4 369.6ZM396.4 370.3L398.3 367.5L399.7 369.6ZM408.7 370.3L410.6 367.5L412.0 369.6ZM421.0 370.3L422.9 367.5L424.3 369.6ZM262.6 360.5L264.6 363.3L262.1 363.9ZM272.8 353.9L275.0 356.5L272.5 357.3ZM283.4 350.0L285.9 352.5L283.5 353.5ZM295.7 350.0L298.2 352.5L295.8 353.5ZM308.7 351.3L311.0 353.8L308.6 354.7ZM322.4 355.2L324.7 357.8L322.2 358.6ZM336.8 361.8L338.8 364.6L336.3 365.3ZM350.4 370.7L352.3 373.6L349.7 374.1ZM361.2 377.1L362.7 376.1L362.9 377.9ZM373.6 379.7L374.3 377.2L376.1 378.8ZM386.1 379.8L386.6 377.3L388.5 378.8ZM398.4 379.8L398.9 377.3L400.8 378.8ZM410.7 379.8L411.2 377.3L413.1 378.8ZM423.0 379.8L423.5 377.3L425.4 378.8ZM264.6 373.5L266.2 376.6L263.6 376.8ZM275.6 365.4L277.5 368.3L275.0 368.8ZM286.8 360.6L288.8 363.4L286.3 364.0ZM299.1 360.6L301.1 363.4L298.6 364.0ZM311.8 362.2L313.8 365.0L311.3 365.6ZM325.2 367.0L327.0 370.0L324.4 370.4ZM338.6 375.2L340.2 378.2L337.6 378.4ZM351.8 384.7L353.0 388.0L350.4 387.9ZM365.4 390.2L365.4 392.5L363.5 391.5ZM377.8 392.2L377.1 393.3L376.5 392.3ZM390.1 392.2L389.4 393.3L388.8 392.3ZM402.4 392.2L401.7 393.3L401.1 392.3ZM414.7 392.2L414.0 393.3L413.4 392.3ZM427.0 392.2L426.3 393.3L425.7 392.3ZM265.4 386.5L266.7 389.7L264.1 389.7ZM277.4 378.2L278.8 381.3L276.3 381.5ZM289.2 373.2L290.8 376.3L288.2 376.5ZM301.5 373.2L303.1 376.3L300.5 376.5ZM314.0 374.9L315.6 378.0L313.0 378.2ZM326.7 379.9L328.2 383.0L325.6 383.1ZM339.2 388.1L340.5 391.3L337.9 391.3ZM352.5 397.1L353.5 400.4L350.9 400.2ZM368.2 400.7L367.3 404.0L365.2 402.4ZM380.5 402.7L378.9 405.7L377.2 403.8ZM392.8 402.7L391.2 405.7L389.5 403.8ZM405.1 402.7L403.5 405.7L401.8 403.8ZM417.4 402.7L415.8 405.7L414.1 403.8ZM429.7 402.7L428.1 405.7L426.4 403.8ZM265.5 398.1L266.8 401.3L264.2 401.3ZM277.8 390.0L279.1 393.2L276.5 393.2ZM290.0 385.2L291.4 388.4L288.8 388.4ZM302.3 385.2L303.7 388.4L301.1 388.4ZM314.7 386.8L316.0 390.0L313.4 390.0ZM327.0 391.6L328.3 394.8L325.7 394.8ZM339.3 399.8L340.6 403.0L338.0 403.0ZM353.1 408.2L353.9 411.6L351.3 411.1ZM369.2 410.6L368.2 413.9L366.2 412.3ZM381.3 412.4L380.0 415.6L378.1 413.8ZM393.6 412.4L392.3 415.6L390.4 413.8ZM405.9 412.4L404.6 415.6L402.7 413.8ZM418.2 412.4L416.9 415.6L415.1 413.8ZM430.5 412.4L429.2 415.6L427.4 413.8ZM266.7 409.6L268.0 412.9L265.4 412.8ZM278.6 402.6L279.9 405.8L277.3 405.8ZM290.8 398.4L292.1 401.6L289.5 401.6ZM303.1 398.4L304.4 401.6L301.8 401.6ZM315.5 399.8L316.8 403.0L314.2 403.0ZM327.9 404.1L329.2 407.3L326.6 407.3ZM340.7 411.0L342.0 414.3L339.4 414.2ZM355.6 418.6L355.8 422.1L353.3 421.2ZM370.2 421.7L368.9 424.9L367.1 423.0ZM382.7 423.4L380.8 426.3L379.3 424.2ZM395.0 423.4L393.1 426.3L391.6 424.2ZM407.3 423.4L405.4 426.3L403.9 424.2ZM419.6 423.4L417.7 426.3L416.2 424.2ZM431.9 423.4L430.0 426.3L428.5 424.2ZM269.3 418.3L270.4 421.6L267.8 421.4ZM280.6 412.9L281.9 416.1L279.3 416.1ZM292.6 409.5L293.8 412.7L291.2 412.7ZM304.9 409.5L306.2 412.7L303.6 412.7ZM317.3 410.7L318.6 413.9L316.0 413.9ZM330.2 414.0L331.5 417.2L328.9 417.2ZM344.3 419.7L345.2 423.0L342.6 422.7ZM359.4 427.1L358.0 430.2L356.2 428.3ZM371.7 430.4L369.3 432.9L368.3 430.5ZM384.0 431.6L381.3 433.8L380.6 431.3ZM396.3 431.6L393.6 433.8L392.9 431.3ZM408.6 431.6L405.9 433.8L405.2 431.3ZM420.9 431.6L418.3 433.8L417.5 431.3ZM433.2 431.6L430.6 433.8L429.8 431.3ZM272.0 429.6L272.0 433.1L269.6 432.1ZM283.4 426.4L284.0 429.8L281.4 429.2ZM295.3 424.4L296.1 427.8L293.6 427.4ZM307.7 424.5L308.5 427.8L305.9 427.4ZM320.3 425.2L321.0 428.6L318.4 428.1ZM333.6 427.4L333.8 430.8L331.3 430.0ZM347.9 431.7L346.7 434.9L344.8 433.1ZM360.8 436.3L358.3 438.8L357.3 436.4ZM372.5 438.5L369.6 440.4L369.1 437.8ZM384.8 439.2L381.8 440.9L381.5 438.3ZM397.1 439.2L394.1 440.9L393.8 438.3ZM409.4 439.2L406.4 440.9L406.1 438.3ZM421.7 439.2L418.7 440.9L418.4 438.3ZM434.0 439.2L431.0 440.9L430.7 438.3ZM274.1 440.6L272.5 443.6L270.8 441.6ZM285.7 438.8L284.9 442.1L282.8 440.6ZM297.7 437.8L297.1 441.2L294.9 439.9ZM310.1 437.9L309.4 441.3L307.3 439.9ZM322.8 438.5L321.9 441.8L319.8 440.2ZM335.9 440.1L334.3 443.1L332.6 441.1ZM348.9 442.7L346.3 444.9L345.5 442.5ZM361.2 444.5L358.2 446.2L357.9 443.7ZM373.3 445.3L370.2 446.8L370.1 444.2ZM385.6 445.5L382.5 447.0L382.4 444.4ZM397.9 445.5L394.8 447.0L394.7 444.4ZM410.2 445.5L407.1 447.0L407.0 444.4ZM422.5 445.5L419.4 447.0L419.3 444.4ZM434.9 445.5L431.7 447.0L431.6 444.4Z" fill="#000"/>
</svg>
<rect x="265.4" y="322.4" width="164.1" height="128.9" fill="none" stroke="#333" stroke-width="1"/>
<path d="M265.4 322.4h-2.2M265.4 341.2h-2.2M265.4 355.5h-2.2M265.4 367.1h-2.2M265.4 376.9h-2.2M265.4 393.2h-2.2M265.4 406.4h-2.2M265.4 427.5h-2.2M265.4 440.2h-2.2M265.4 451.3h-2.2M429.5 334.2h2.2M429.5 356.5h2.2M429.5 379.5h2.2M429.5 401.6h2.2M429.5 423.2h2.2M265.4 451.3v2.2M306.4 451.3v2.2M347.4 451.3v2.2M388.5 451.3v2.2M429.5 451.3v2.2M273.6 451.3v1.3M281.8 451.3v1.3M290 451.3v1.3M298.2 451.3v1.3M314.6 451.3v1.3M322.8 451.3v1.3M331 451.3v1.3M339.2 451.3v1.3M355.7 451.3v1.3M363.9 451.3v1.3M372.1 451.3v1.3M380.3 451.3v1.3M396.7 451.3v1.3M404.9 451.3v1.3M413.1 451.3v1.3M421.3 451.3v1.3" stroke="#333" stroke-width="0.9" fill="none"/>
<text x="261.3" y="325.8" font-size="10.2" text-anchor="end">100</text>
<text x="261.3" y="344.6" font-size="10.2" text-anchor="end">150</text>
<text x="261.3" y="358.9" font-size="10.2" text-anchor="end">200</text>
<text x="261.3" y="370.5" font-size="10.2" text-anchor="end">250</text>
<text x="261.3" y="380.3" font-size="10.2" text-anchor="end">300</text>
<text x="261.3" y="396.6" font-size="10.2" text-anchor="end">400</text>
<text x="261.3" y="409.8" font-size="10.2" text-anchor="end">500</text>
<text x="261.3" y="430.9" font-size="10.2" text-anchor="end">700</text>
<text x="261.3" y="443.6" font-size="10.2" text-anchor="end">850</text>
<text x="261.3" y="454.7" font-size="10.2" text-anchor="end">1000</text>
<text x="433.7" y="337.6" font-size="10.2" text-anchor="start">15</text>
<text x="433.7" y="359.9" font-size="10.2" text-anchor="start">12</text>
<text x="433.7" y="382.9" font-size="10.2" text-anchor="start">9</text>
<text x="433.7" y="405" font-size="10.2" text-anchor="start">6</text>
<text x="433.7" y="426.6" font-size="10.2" text-anchor="start">3</text>
<text x="265.4" y="462.9" font-size="10.2" text-anchor="middle">0</text>
<text x="306.4" y="462.9" font-size="10.2" text-anchor="middle">10N</text>
<text x="347.4" y="462.9" font-size="10.2" text-anchor="middle">20N</text>
<text x="388.5" y="462.9" font-size="10.2" text-anchor="middle">30N</text>
<text x="429.5" y="462.9" font-size="10.2" text-anchor="middle">40N</text>
<text x="265.8" y="318" font-size="11.7" text-anchor="start">(h)MME_P2:2019-2049</text>
<text x="235.7" y="386.8" font-size="10.0" text-anchor="middle" transform="rotate(-90 235.7 386.8)">Pressure(mb)</text>
<text x="453.8" y="386.5" font-size="10.0" text-anchor="middle" transform="rotate(-90 453.8 386.5)">Height/(km)</text>
<g>
<rect x="494.4" y="322.4" width="164.1" height="128.9" fill="#3a68ad"/>
<path fill="#4a88bd" d="M496.4 322.4 658.5 322.4 658.5 451.3 494.4 451.3 494.4 322.4ZM585.6 385.9 585.4 387.8 586.5 390.2 588.2 387.8 588 385.9 586.5 384.2Z"/>
<path fill="#62a4cb" d="M496.4 322.4 658.5 322.4 658.5 451.3 494.4 451.3 494.4 322.4ZM581.6 360.1 580.5 360.9 578.2 364 576.5 368.9 575.5 374 575 391.8 575.5 399.7 576.4 404.6 578.5 409.5 580.5 412 582.5 413.3 584.5 413.9 588.5 414 592.5 413.1 594.5 411.9 596.5 410 598.5 406.7 600.1 401.7 600.9 397.8 601.3 381.9 600.2 372 598.2 366 596.5 363 594.5 360.9 592.5 359.7 588.5 358.8 584.5 358.9 582.5 359.5Z"/>
<path fill="#8cc2da" d="M496.4 322.4 658.5 322.4 658.5 451.3 494.4 451.3 494.4 322.4ZM585.3 350.2 582.5 350.6 580.5 351.6 578.5 353.4 576.5 356.3 574.4 361.5 573.2 368 572.3 375.9 572.4 399.7 574.4 412.7 576.4 417.8 578.5 420.7 580.5 422.5 582.5 423.4 584.5 423.8 590.5 423.8 596.5 422.3 600.5 419.8 603.9 415.6 605.9 411.6 607.6 405.7 608.7 397.8 608.7 377.9 608.2 372 607 366 604.8 360.1 602.2 356.1 600.4 354.1 596.5 351.6 592.5 350.4 586.5 350.1Z"/>
<path fill="#b0d6e7" d="M496.4 322.4 658.5 322.4 658.5 451.3 494.4 451.3 494.4 322.4ZM582.4 342.2 578.5 344.2 575.2 348.2 572.6 354.1 570.8 362.1 569.7 374 569.5 393.8 570.1 405.7 571.3 413.6 573.1 419.6 575 423.5 578.5 427.4 580.5 428.6 584.5 429.4 592.5 429.4 598.5 428.6 602.5 427.5 608.5 424.3 612.5 420.5 615.7 415.6 618.5 407.7 619.9 397.8 620.1 383.9 619.5 372 618.2 364 616.3 358.1 613.1 352.1 610.5 348.9 606.5 345.6 602.5 343.6 596.5 342.1 588.5 341.7 582.5 342.2ZM641.4 417.6 639.2 419.6 638.2 421.6 637.6 425.5 638 427.5 639 429.5 640.9 431.5 642.5 432.4 644.5 432.7 646.5 432.3 648.5 430.8 649.4 429.5 650.1 427.5 650.2 423.5 648.6 419.6 646.5 417.7 644.5 416.9 642.5 417Z"/>
<path fill="#d3e7f0" d="M496.4 322.4 658.5 322.4 658.5 451.3 494.4 451.3 494.4 446.4 496 445.4 496.8 443.4 496.4 440.1 494.4 438.4 494.4 382.5 496.4 379.9 497.4 372 496.4 364.9 494.4 362.4 494.4 322.4ZM578.7 334.3 574.4 337.8 570.4 344.5 567.5 354.1 566 366 565.5 391.8 566.3 409.7 568.5 421.6 570.4 427 572.4 430.5 576.4 434.5 580.5 436.3 586.5 436.8 598.5 436.4 604.5 435.6 610.5 433.9 615.8 431.5 622.5 427.3 624.5 426.3 626.5 426.2 628.5 427.3 631.9 431.5 634.2 433.5 638.5 436.2 644.5 438.5 646.5 438.7 648.5 438.3 650.5 437.1 652.1 435.4 654.1 431.5 654.7 427.5 653.9 419.6 652.5 416.1 650.5 413 646.5 409.3 644.5 408.2 636.5 406.4 635 405.7 633.5 403.7 632.3 397.8 631.8 375.9 630.6 364 627.9 354.1 623.8 346.2 620.5 342.2 615.6 338.3 612.1 336.3 606.7 334.3 600.5 333.1 594.5 332.6 584.5 332.8 580.5 333.6Z"/>
<path fill="#eaf0f3" d="M496.4 322.4 658.5 322.4 658.5 418.2 657.4 413.6 653.1 401.7 652.1 397.8 651.4 391.8 650.5 368 649.1 360.1 646.6 352.1 642.3 344.2 637.1 338.3 632.5 334.7 628.5 332.4 620.5 329.2 612.5 327.4 604.5 326.4 584.5 326.2 578.5 327.3 574.4 329.5 572.4 331.3 570.1 334.3 567.1 340.2 564.9 346.2 563.5 352.1 561.9 366 561.5 387.8 562.1 409.7 564 423.5 565.8 429.5 568.4 435.2 571.8 439.4 574.3 441.4 578.5 443.2 582.5 443.8 598.5 443.8 610.5 442.9 626.5 439.7 630.5 439.6 636.5 441.2 640.5 444.7 642.5 445.6 646.5 446.3 650.5 445.3 653.7 443.4 656.5 440.3 658.5 436.6 658.5 451.3 494.4 451.3 496.4 450.4 498.4 448.1 499.8 443.4 499.5 439.4 498.8 437.4 496.4 434.4 494.4 433.8 494.4 393.8 496.4 392.8 498.9 387.8 500.2 381.9 500.9 372 500.3 364 499 358.1 496.4 353.3 494.4 352.3 494.4 322.4Z"/>
<path fill="#f5eee8" d="M496.4 322.4 558.1 322.4 560.4 324.6 562.6 328.3 562.9 330.3 561.8 334.3 558.3 338.3 552.4 341.8 552.1 344.2 553.2 346.2 555 352.1 556.7 360.1 558 372 558.4 403.7 557.1 425.5 554.9 435.4 552.5 441.4 548.7 447.3 546.4 449.5 543.4 451.3 520.1 451.3 516.4 448.6 513.8 445.4 510.1 437.4 507.5 425.5 506.1 401.7 506.6 374 507.7 360.1 509.1 352.1 509 348.2 508.4 347.4 504.4 346.3 496.4 341 494.4 340.3 494.4 322.4Z"/>
<path fill="#f3d9c8" d="M522.4 339.3 526.4 338.4 532.4 338.7 538.4 340 542.4 342.1 546.4 345.7 549.4 350.2 552.7 358.1 554.1 364 555.2 372 555.7 383.9 555.6 407.7 554.7 421.6 553.4 429.5 551 437.4 547.6 443.4 545.9 445.4 542.4 448 536.4 449.7 530.4 449.9 524.4 449.2 520.4 447.6 517.8 445.4 515.1 441.4 513.3 437.4 511.5 431.5 509.9 421.6 509.1 409.7 509 383.9 509.6 370 511.6 358.1 513.4 352.1 517.3 344.2 520.8 340.2Z"/>
<path fill="#ecb99e" d="M522.4 348.1 526.4 346.7 534.4 346.7 538.4 347.3 542.4 349 546.4 352.6 548.8 356.1 551.3 362.1 552.2 366 553.4 374 553.8 383.9 553.8 405.7 553 419.6 551.4 429.5 548.8 437.4 546.4 441.6 542.4 445.5 538.4 447.2 534.4 447.8 526.4 447.5 522.4 446.3 518.9 443.4 516.4 439.6 514 433.5 513.1 429.5 511.5 419.6 510.9 407.7 510.8 383.9 511.6 370 513.2 362.1 515.3 356.1 518.4 351.1 520.4 349.1 522.3 348.2Z"/>
<path fill="#e5957a" d="M524.4 351.4 528.4 350.8 536.4 351 540.4 352.1 542.4 353.1 545.7 356.1 548.2 360.1 549.8 364 551.2 370 552.2 379.9 552.4 395.8 552 411.6 551.1 421.6 549.6 429.5 547.6 435.4 544.4 440.8 540.4 444 536.4 445.2 530.4 445.5 526.4 445.2 522.4 443.6 520 441.4 517.5 437.4 515.9 433.5 514.3 427.5 512.9 417.6 512.4 407.7 512.3 385.9 512.8 374 514.1 366 516 360.1 518.4 355.8 520.4 353.6 522.7 352.1Z"/>
<path fill="#d96b59" d="M528.4 353.9 534.4 353.9 538.4 354.6 541.8 356.1 544.2 358.1 546.4 361.2 548.4 366 550.3 375.9 550.8 385.9 550.7 405.7 550.2 415.6 548.8 425.5 547.1 431.5 544.4 436.8 542.4 439.2 540.4 440.7 536.4 442.2 530.4 442.5 526.4 442.1 522.4 440.3 520.4 438.2 517.7 433.5 515.9 427.5 514.2 415.6 513.6 403.7 513.5 383.9 514 375.9 515.2 368 517.2 362.1 519.6 358.1 522.4 355.6 526.6 354.1Z"/>
<path fill="#c9454a" d="M524.4 357.4 528.4 356.5 534.4 356.6 538.4 357.3 540.4 358.1 542.9 360.1 545.6 364 548.2 372 549.2 381.9 549.4 395.8 549 409.7 548.1 419.6 546.4 427 544.4 432 542.4 435 538.4 437.9 534.4 438.8 530.4 438.9 526.4 438.5 523.9 437.4 520.4 434.1 519 431.5 516.4 423.1 515.2 413.6 514.7 403.7 514.7 385.9 515.2 375.9 516.4 368.8 518.1 364 520.4 360.2 523 358.1Z"/>
<path fill="#b22434" d="M524.4 360 528.4 359.1 534.4 359.1 538.4 360 540.4 361.1 542.4 362.9 544.4 365.9 546 370 546.9 374 547.7 381.9 547.9 395.8 547.7 405.7 546.8 415.6 544.3 425.5 542.4 428.9 540.4 431.2 538.4 432.5 534.4 433.5 530.4 433.6 526.4 433.2 524.4 432.4 522.4 430.9 520.4 428.4 518.4 423.8 517 417.6 516 409.7 515.6 399.7 515.6 385.9 516.3 375.9 516.9 372 518.9 366 521.6 362.1 524.3 360.1Z"/>
<path fill="#8e1a2e" d="M526.4 361.9 534.4 361.6 538.4 362.6 540.4 363.9 542.4 366.3 544.4 370.6 545.4 374 546.4 383.9 546.5 395.8 546.3 403.7 545.3 413.6 544.4 417.2 542.4 422.1 540.4 424.7 538.4 426.2 536.4 427 528.4 427.4 524.4 426.2 522.4 424.7 520.4 422 518.4 416.8 517.7 413.6 516.6 393.8 517.6 374 518.4 370.9 520.4 366.4 522.4 363.9 525.9 362.1Z"/>
<path fill="#6c0a24" d="M526.4 365.3 534.4 364.9 538.4 366.2 540.4 368 542.4 371.4 544.2 377.9 544.7 397.8 544.4 405.2 543.8 409.7 542.4 414.3 540.6 417.6 538.4 419.6 536.4 420.5 532.4 421 528.4 421 524.4 419.7 522.4 418 520.9 415.6 518.9 409.7 518.1 397.8 518.5 377.9 520.4 370.9 522.4 367.8 524.6 366Z"/>
</g>
<svg x="494.4" y="322.4" width="164.1" height="128.9" viewBox="494.4 322.4 164.1 128.9" overflow="hidden">
<path d="M506.7 327.4 505.6 327.4M519.0 327.4 515.4 327.4M531.3 327.4 525.1 327.4M543.6 327.4 537.4 327.4M555.9 327.4 549.7 327.4M568.2 327.4 562.0 327.4M580.6 327.4 574.4 327.4M592.9 327.4 586.7 327.4M605.2 327.4 600.1 327.4M617.5 327.4 614.1 327.4M629.8 327.4 627.9 327.4M642.1 327.4 640.5 327.4M654.4 327.4 653.0 327.4M494.4 342.4 498.2 342.4M506.7 342.4 508.4 342.4M519.0 342.4 519.7 342.4M543.6 342.4 542.7 342.4M555.9 342.4 554.9 342.4M568.2 342.4 567.4 342.4M494.4 355.4 509.5 355.4M506.7 355.4 514.2 355.6M519.0 355.4 521.4 358.7M531.3 355.4 530.3 359.4M543.6 355.4 539.8 359.0M555.9 355.4 552.1 355.5M568.2 355.4 565.6 354.8M580.6 355.4 579.1 353.8M592.9 355.4 591.9 353.8M605.2 355.4 604.8 354.9M494.4 367.4 507.7 367.4M506.7 367.4 513.2 368.4M519.0 367.4 522.5 393.5M531.3 367.4 529.8 399.9M543.6 367.4 538.7 393.6M555.9 367.4 552.7 368.0M568.2 367.4 565.8 365.9M580.6 367.4 578.3 360.6M592.9 367.4 591.5 360.7M605.2 367.4 604.8 366.1M494.4 376.9 506.3 376.9M506.7 376.9 512.4 377.9M519.0 376.9 522.2 403.0M531.3 376.9 529.9 409.4M543.6 376.9 539.1 403.1M555.9 376.9 553.3 377.4M568.2 376.9 566.2 375.5M580.6 376.9 578.5 370.2M592.9 376.9 591.6 370.2M605.2 376.9 604.9 375.6M506.7 393.2 506.7 393.8M519.0 393.2 519.0 419.3M531.3 393.2 531.3 425.7M543.6 393.2 543.6 419.3M568.2 393.2 568.2 391.9M580.6 393.2 580.6 386.6M592.9 393.2 592.9 386.6M605.2 393.2 605.2 391.9M506.7 406.4 506.7 407.0M519.0 406.4 519.0 432.5M531.3 406.4 531.3 438.9M543.6 406.4 543.6 432.5M568.2 406.4 568.2 405.1M580.6 406.4 580.6 399.8M592.9 406.4 592.9 399.8M605.2 406.4 605.6 404.6M617.5 406.4 619.9 403.3M629.8 406.4 632.1 403.6M642.1 406.4 644.4 403.6M654.4 406.4 656.7 403.6M506.7 417.6 506.7 418.2M519.0 417.6 519.0 443.7M531.3 417.6 531.3 450.1M543.6 417.6 543.6 443.7M568.2 417.6 568.2 416.3M580.6 417.6 580.6 411.0M592.9 417.6 592.9 411.0M605.2 417.6 605.6 415.8M617.5 417.6 620.2 414.1M629.8 417.6 632.4 414.4M642.1 417.6 644.7 414.4M654.4 417.6 657.0 414.4M506.7 427.5 506.7 428.1M519.0 427.5 519.0 453.6M531.3 427.5 531.3 460.0M543.6 427.5 543.6 453.6M568.2 427.5 568.2 426.5M580.6 427.5 580.6 423.2M592.9 427.5 592.9 423.2M605.2 427.5 605.6 426.0M617.5 427.5 620.2 424.1M629.8 427.5 632.4 424.3M642.1 427.5 644.7 424.3M654.4 427.5 657.0 424.3M519.0 433.9 519.0 458.4M531.3 433.9 531.3 464.5M543.6 433.9 543.7 458.4M580.6 433.9 580.6 432.1M592.9 433.9 592.9 432.1M605.2 433.9 605.7 432.7M617.5 433.9 620.2 430.6M629.8 433.9 632.5 430.7M642.1 433.9 644.8 430.7M654.4 433.9 657.1 430.7M519.0 440.2 517.6 458.2M531.3 440.2 531.3 462.8M543.6 440.2 545.0 458.2M555.9 440.2 556.8 440.6M568.2 440.2 569.2 439.9M580.6 440.2 581.7 439.3M592.9 440.2 594.0 439.3M605.2 440.2 606.8 439.3M617.5 440.2 622.6 436.4M629.8 440.2 634.9 436.5M642.1 440.2 647.2 436.5M654.4 440.2 659.5 436.5M494.4 445.9 495.2 445.9M506.7 445.9 506.0 446.2M519.0 445.9 516.6 457.9M531.3 445.9 531.3 461.2M543.6 445.9 546.1 457.9M555.9 445.9 557.6 446.2M568.2 445.9 570.0 445.8M580.6 445.9 582.7 445.4M592.9 445.9 595.2 445.4M605.2 445.9 608.2 445.3M617.5 445.9 622.8 443.7M629.8 445.9 635.1 443.8M642.1 445.9 647.4 443.8M654.4 445.9 659.7 443.8" stroke="#000" stroke-width="0.85" fill="none" stroke-linecap="round" stroke-linejoin="round"/><path d="M503.9 327.4L505.6 326.5L505.6 328.3ZM512.2 327.4L515.4 326.1L515.4 328.7ZM521.9 327.4L525.1 326.1L525.1 328.7ZM534.2 327.4L537.4 326.1L537.4 328.7ZM546.5 327.4L549.7 326.1L549.7 328.7ZM558.8 327.4L562.0 326.1L562.0 328.7ZM571.2 327.4L574.4 326.1L574.4 328.7ZM583.5 327.4L586.7 326.1L586.7 328.7ZM596.9 327.4L600.1 326.1L600.1 328.7ZM610.9 327.4L614.1 326.1L614.1 328.7ZM625.0 327.4L627.9 326.1L627.9 328.7ZM638.2 327.4L640.5 326.1L640.5 328.7ZM651.0 327.4L653.0 326.3L653.0 328.5ZM501.4 342.4L498.2 343.7L498.2 341.1ZM510.8 342.4L508.4 343.7L508.4 341.1ZM520.7 342.4L519.7 342.9L519.7 341.9ZM541.3 342.4L542.7 341.6L542.7 343.2ZM553.2 342.4L554.9 341.5L554.9 343.3ZM566.0 342.4L567.4 341.7L567.4 343.1ZM512.7 355.4L509.5 356.7L509.5 354.1ZM517.4 355.7L514.2 356.9L514.2 354.3ZM523.3 361.3L520.4 359.4L522.5 357.9ZM529.5 362.5L529.0 359.1L531.5 359.8ZM537.5 361.3L538.9 358.1L540.7 360.0ZM548.9 355.6L552.1 354.2L552.1 356.8ZM562.5 354.1L565.9 353.6L565.4 356.1ZM576.9 351.5L580.0 352.9L578.1 354.7ZM590.6 351.5L593.1 353.2L590.8 354.5ZM604.3 354.1L605.2 354.6L604.4 355.2ZM510.9 367.4L507.7 368.7L507.7 366.1ZM516.4 368.9L513.0 369.7L513.4 367.1ZM522.9 396.7L521.2 393.7L523.7 393.4ZM529.7 403.1L528.5 399.9L531.1 400.0ZM538.1 396.7L537.4 393.3L540.0 393.8ZM549.6 368.6L552.5 366.7L553.0 369.3ZM563.1 364.2L566.5 364.8L565.1 367.0ZM577.2 357.6L579.5 360.2L577.0 361.0ZM590.8 357.6L592.7 360.5L590.2 361.0ZM604.3 364.2L605.9 365.9L603.8 366.4ZM509.5 376.9L506.3 378.2L506.3 375.6ZM515.5 378.4L512.2 379.2L512.6 376.6ZM522.5 406.2L520.9 403.2L523.5 402.9ZM529.8 412.6L528.6 409.4L531.2 409.5ZM538.6 406.2L537.9 402.8L540.4 403.3ZM550.1 378.1L553.0 376.2L553.5 378.7ZM563.5 373.7L566.9 374.4L565.4 376.6ZM577.5 367.1L579.7 369.8L577.2 370.5ZM591.0 367.1L592.9 370.0L590.3 370.5ZM604.4 373.7L605.9 375.4L603.8 375.9ZM506.7 394.7L506.2 393.8L507.2 393.8ZM519.0 422.5L517.7 419.3L520.3 419.3ZM531.3 428.9L530.0 425.7L532.6 425.7ZM543.6 422.5L542.3 419.3L544.9 419.3ZM568.2 390.0L569.3 391.9L567.2 391.9ZM580.6 383.4L581.9 386.6L579.3 386.6ZM592.9 383.4L594.2 386.6L591.6 386.6ZM605.2 389.9L606.3 391.9L604.1 391.9ZM506.7 407.9L506.2 407.0L507.2 407.0ZM519.0 435.7L517.7 432.5L520.3 432.5ZM531.3 442.1L530.0 438.9L532.6 438.9ZM543.6 435.7L542.3 432.5L544.9 432.5ZM568.2 403.2L569.3 405.1L567.2 405.1ZM580.6 396.6L581.9 399.8L579.3 399.8ZM592.9 396.6L594.2 399.8L591.6 399.8ZM606.3 401.9L606.9 404.9L604.3 404.3ZM621.9 400.8L620.9 404.1L618.9 402.5ZM634.2 401.1L633.1 404.4L631.1 402.8ZM646.5 401.1L645.4 404.4L643.4 402.8ZM658.8 401.1L657.7 404.4L655.7 402.8ZM506.7 419.1L506.2 418.2L507.2 418.2ZM519.0 446.9L517.7 443.7L520.3 443.7ZM531.3 453.3L530.0 450.1L532.6 450.1ZM543.6 446.9L542.3 443.7L544.9 443.7ZM568.2 414.4L569.3 416.3L567.2 416.3ZM580.6 407.8L581.9 411.0L579.3 411.0ZM592.9 407.8L594.2 411.0L591.6 411.0ZM606.3 413.0L606.9 416.1L604.4 415.4ZM622.2 411.6L621.2 414.9L619.2 413.3ZM634.5 411.9L633.4 415.2L631.4 413.6ZM646.8 412.0L645.7 415.3L643.7 413.6ZM659.1 412.0L658.0 415.3L656.1 413.6ZM506.7 429.0L506.2 428.1L507.2 428.1ZM519.0 456.8L517.7 453.6L520.3 453.6ZM531.3 463.2L530.0 460.0L532.6 460.0ZM543.6 456.8L542.3 453.6L544.9 453.6ZM568.2 425.1L569.0 426.5L567.5 426.5ZM580.6 420.0L581.9 423.2L579.3 423.2ZM592.9 420.0L594.2 423.2L591.6 423.2ZM606.3 423.7L606.9 426.3L604.4 425.6ZM622.2 421.6L621.2 424.9L619.2 423.3ZM634.5 421.9L633.4 425.1L631.4 423.5ZM646.8 421.9L645.7 425.2L643.7 423.5ZM659.1 421.9L658.0 425.2L656.1 423.5ZM519.0 461.6L517.7 458.4L520.3 458.4ZM531.3 467.7L530.0 464.5L532.6 464.5ZM543.7 461.6L542.4 458.4L545.0 458.4ZM580.6 429.4L581.9 432.1L579.3 432.1ZM592.9 429.4L594.2 432.1L591.6 432.1ZM606.4 431.0L606.6 433.2L604.7 432.3ZM622.2 428.1L621.2 431.4L619.2 429.7ZM634.6 428.3L633.5 431.5L631.5 429.9ZM646.9 428.3L645.8 431.5L643.8 429.9ZM659.2 428.3L658.1 431.5L656.1 429.9ZM517.3 461.4L516.3 458.1L518.9 458.3ZM531.3 466.0L530.0 462.8L532.6 462.8ZM545.3 461.3L543.8 458.3L546.3 458.1ZM558.2 441.2L556.5 441.3L557.2 439.9ZM570.6 439.4L569.4 440.7L568.9 439.1ZM583.4 437.8L582.4 440.2L580.9 438.3ZM595.8 437.8L594.8 440.2L593.3 438.3ZM609.3 438.0L607.4 440.5L606.2 438.2ZM625.1 434.5L623.4 437.4L621.8 435.4ZM637.5 434.6L635.6 437.5L634.1 435.4ZM649.8 434.6L648.0 437.5L646.4 435.4ZM662.1 434.6L660.3 437.5L658.7 435.4ZM496.5 445.9L495.2 446.6L495.2 445.2ZM505.1 446.7L505.8 445.7L506.3 446.7ZM515.9 461.1L515.3 457.7L517.8 458.2ZM531.3 464.4L530.0 461.2L532.6 461.2ZM546.7 461.1L544.8 458.2L547.4 457.7ZM560.1 446.6L557.4 447.5L557.8 444.9ZM572.6 445.5L570.1 447.0L569.9 444.5ZM585.8 444.7L582.9 446.7L582.4 444.2ZM598.4 444.7L595.5 446.7L595.0 444.1ZM611.4 444.7L608.5 446.6L608.0 444.0ZM625.8 442.5L623.3 444.9L622.3 442.5ZM638.1 442.6L635.6 445.0L634.6 442.6ZM650.4 442.6L647.9 445.0L646.9 442.6ZM662.7 442.6L660.2 445.0L659.2 442.6Z" fill="#000"/>
<path d="M551.2 321.8h1.3v1.3h-1.3zM555.3 321.8h1.3v1.3h-1.3zM559.4 321.8h1.3v1.3h-1.3zM563.5 321.8h1.3v1.3h-1.3zM567.6 321.8h1.3v1.3h-1.3zM571.7 321.8h1.3v1.3h-1.3zM575.8 321.8h1.3v1.3h-1.3zM579.9 321.8h1.3v1.3h-1.3zM584.0 321.8h1.3v1.3h-1.3zM588.1 321.8h1.3v1.3h-1.3zM592.2 321.8h1.3v1.3h-1.3zM596.3 321.8h1.3v1.3h-1.3zM600.4 321.8h1.3v1.3h-1.3zM604.5 321.8h1.3v1.3h-1.3zM608.6 321.8h1.3v1.3h-1.3zM612.7 321.8h1.3v1.3h-1.3zM616.8 321.8h1.3v1.3h-1.3zM620.9 321.8h1.3v1.3h-1.3zM625.0 321.8h1.3v1.3h-1.3zM629.1 321.8h1.3v1.3h-1.3zM633.2 321.8h1.3v1.3h-1.3zM637.3 321.8h1.3v1.3h-1.3zM641.4 321.8h1.3v1.3h-1.3zM645.5 321.8h1.3v1.3h-1.3zM649.6 321.8h1.3v1.3h-1.3zM653.7 321.8h1.3v1.3h-1.3zM657.9 321.8h1.3v1.3h-1.3zM567.6 340.6h1.3v1.3h-1.3zM571.7 340.6h1.3v1.3h-1.3zM575.8 340.6h1.3v1.3h-1.3zM579.9 340.6h1.3v1.3h-1.3zM584.0 340.6h1.3v1.3h-1.3zM588.1 340.6h1.3v1.3h-1.3zM592.2 340.6h1.3v1.3h-1.3zM596.3 340.6h1.3v1.3h-1.3zM600.4 340.6h1.3v1.3h-1.3zM604.5 340.6h1.3v1.3h-1.3zM608.6 340.6h1.3v1.3h-1.3zM612.7 340.6h1.3v1.3h-1.3zM616.8 340.6h1.3v1.3h-1.3zM620.9 340.6h1.3v1.3h-1.3zM625.0 340.6h1.3v1.3h-1.3zM629.1 340.6h1.3v1.3h-1.3zM633.2 340.6h1.3v1.3h-1.3zM637.3 340.6h1.3v1.3h-1.3zM641.4 340.6h1.3v1.3h-1.3zM645.5 340.6h1.3v1.3h-1.3zM649.6 340.6h1.3v1.3h-1.3zM653.7 340.6h1.3v1.3h-1.3zM657.9 340.6h1.3v1.3h-1.3zM518.4 354.8h1.3v1.3h-1.3zM522.5 354.8h1.3v1.3h-1.3zM526.6 354.8h1.3v1.3h-1.3zM530.7 354.8h1.3v1.3h-1.3zM534.8 354.8h1.3v1.3h-1.3zM538.9 354.8h1.3v1.3h-1.3zM543.0 354.8h1.3v1.3h-1.3zM575.8 354.8h1.3v1.3h-1.3zM579.9 354.8h1.3v1.3h-1.3zM584.0 354.8h1.3v1.3h-1.3zM588.1 354.8h1.3v1.3h-1.3zM592.2 354.8h1.3v1.3h-1.3zM596.3 354.8h1.3v1.3h-1.3zM600.4 354.8h1.3v1.3h-1.3zM604.5 354.8h1.3v1.3h-1.3zM608.6 354.8h1.3v1.3h-1.3zM612.7 354.8h1.3v1.3h-1.3zM616.8 354.8h1.3v1.3h-1.3zM620.9 354.8h1.3v1.3h-1.3zM518.4 366.4h1.3v1.3h-1.3zM522.5 366.4h1.3v1.3h-1.3zM526.6 366.4h1.3v1.3h-1.3zM530.7 366.4h1.3v1.3h-1.3zM534.8 366.4h1.3v1.3h-1.3zM538.9 366.4h1.3v1.3h-1.3zM543.0 366.4h1.3v1.3h-1.3zM547.1 366.4h1.3v1.3h-1.3zM575.8 366.4h1.3v1.3h-1.3zM579.9 366.4h1.3v1.3h-1.3zM584.0 366.4h1.3v1.3h-1.3zM588.1 366.4h1.3v1.3h-1.3zM592.2 366.4h1.3v1.3h-1.3zM596.3 366.4h1.3v1.3h-1.3zM600.4 366.4h1.3v1.3h-1.3zM604.5 366.4h1.3v1.3h-1.3zM608.6 366.4h1.3v1.3h-1.3zM612.7 366.4h1.3v1.3h-1.3zM616.8 366.4h1.3v1.3h-1.3zM620.9 366.4h1.3v1.3h-1.3zM625.0 366.4h1.3v1.3h-1.3zM629.1 366.4h1.3v1.3h-1.3zM514.3 376.3h1.3v1.3h-1.3zM518.4 376.3h1.3v1.3h-1.3zM522.5 376.3h1.3v1.3h-1.3zM526.6 376.3h1.3v1.3h-1.3zM530.7 376.3h1.3v1.3h-1.3zM534.8 376.3h1.3v1.3h-1.3zM538.9 376.3h1.3v1.3h-1.3zM543.0 376.3h1.3v1.3h-1.3zM547.1 376.3h1.3v1.3h-1.3zM575.8 376.3h1.3v1.3h-1.3zM579.9 376.3h1.3v1.3h-1.3zM584.0 376.3h1.3v1.3h-1.3zM588.1 376.3h1.3v1.3h-1.3zM592.2 376.3h1.3v1.3h-1.3zM596.3 376.3h1.3v1.3h-1.3zM600.4 376.3h1.3v1.3h-1.3zM604.5 376.3h1.3v1.3h-1.3zM608.6 376.3h1.3v1.3h-1.3zM612.7 376.3h1.3v1.3h-1.3zM616.8 376.3h1.3v1.3h-1.3zM620.9 376.3h1.3v1.3h-1.3zM625.0 376.3h1.3v1.3h-1.3zM629.1 376.3h1.3v1.3h-1.3zM514.3 392.5h1.3v1.3h-1.3zM518.4 392.5h1.3v1.3h-1.3zM522.5 392.5h1.3v1.3h-1.3zM526.6 392.5h1.3v1.3h-1.3zM530.7 392.5h1.3v1.3h-1.3zM534.8 392.5h1.3v1.3h-1.3zM538.9 392.5h1.3v1.3h-1.3zM543.0 392.5h1.3v1.3h-1.3zM547.1 392.5h1.3v1.3h-1.3zM575.8 392.5h1.3v1.3h-1.3zM579.9 392.5h1.3v1.3h-1.3zM584.0 392.5h1.3v1.3h-1.3zM588.1 392.5h1.3v1.3h-1.3zM592.2 392.5h1.3v1.3h-1.3zM596.3 392.5h1.3v1.3h-1.3zM600.4 392.5h1.3v1.3h-1.3zM604.5 392.5h1.3v1.3h-1.3zM608.6 392.5h1.3v1.3h-1.3zM612.7 392.5h1.3v1.3h-1.3zM616.8 392.5h1.3v1.3h-1.3zM620.9 392.5h1.3v1.3h-1.3zM514.3 405.8h1.3v1.3h-1.3zM518.4 405.8h1.3v1.3h-1.3zM522.5 405.8h1.3v1.3h-1.3zM526.6 405.8h1.3v1.3h-1.3zM530.7 405.8h1.3v1.3h-1.3zM534.8 405.8h1.3v1.3h-1.3zM538.9 405.8h1.3v1.3h-1.3zM543.0 405.8h1.3v1.3h-1.3zM547.1 405.8h1.3v1.3h-1.3zM575.8 405.8h1.3v1.3h-1.3zM579.9 405.8h1.3v1.3h-1.3zM584.0 405.8h1.3v1.3h-1.3zM588.1 405.8h1.3v1.3h-1.3zM592.2 405.8h1.3v1.3h-1.3zM596.3 405.8h1.3v1.3h-1.3zM600.4 405.8h1.3v1.3h-1.3zM604.5 405.8h1.3v1.3h-1.3zM608.6 405.8h1.3v1.3h-1.3zM612.7 405.8h1.3v1.3h-1.3zM645.5 405.8h1.3v1.3h-1.3zM649.6 405.8h1.3v1.3h-1.3zM653.7 405.8h1.3v1.3h-1.3zM657.9 405.8h1.3v1.3h-1.3zM514.3 417.0h1.3v1.3h-1.3zM518.4 417.0h1.3v1.3h-1.3zM522.5 417.0h1.3v1.3h-1.3zM526.6 417.0h1.3v1.3h-1.3zM530.7 417.0h1.3v1.3h-1.3zM534.8 417.0h1.3v1.3h-1.3zM538.9 417.0h1.3v1.3h-1.3zM543.0 417.0h1.3v1.3h-1.3zM547.1 417.0h1.3v1.3h-1.3zM551.2 417.0h1.3v1.3h-1.3zM579.9 417.0h1.3v1.3h-1.3zM584.0 417.0h1.3v1.3h-1.3zM588.1 417.0h1.3v1.3h-1.3zM592.2 417.0h1.3v1.3h-1.3zM596.3 417.0h1.3v1.3h-1.3zM600.4 417.0h1.3v1.3h-1.3zM604.5 417.0h1.3v1.3h-1.3zM608.6 417.0h1.3v1.3h-1.3zM637.3 417.0h1.3v1.3h-1.3zM641.4 417.0h1.3v1.3h-1.3zM645.5 417.0h1.3v1.3h-1.3zM649.6 417.0h1.3v1.3h-1.3zM653.7 417.0h1.3v1.3h-1.3zM657.9 417.0h1.3v1.3h-1.3zM514.3 426.8h1.3v1.3h-1.3zM518.4 426.8h1.3v1.3h-1.3zM522.5 426.8h1.3v1.3h-1.3zM526.6 426.8h1.3v1.3h-1.3zM530.7 426.8h1.3v1.3h-1.3zM534.8 426.8h1.3v1.3h-1.3zM538.9 426.8h1.3v1.3h-1.3zM543.0 426.8h1.3v1.3h-1.3zM547.1 426.8h1.3v1.3h-1.3zM551.2 426.8h1.3v1.3h-1.3zM579.9 426.8h1.3v1.3h-1.3zM584.0 426.8h1.3v1.3h-1.3zM588.1 426.8h1.3v1.3h-1.3zM592.2 426.8h1.3v1.3h-1.3zM596.3 426.8h1.3v1.3h-1.3zM600.4 426.8h1.3v1.3h-1.3zM604.5 426.8h1.3v1.3h-1.3zM608.6 426.8h1.3v1.3h-1.3zM633.2 426.8h1.3v1.3h-1.3zM637.3 426.8h1.3v1.3h-1.3zM641.4 426.8h1.3v1.3h-1.3zM645.5 426.8h1.3v1.3h-1.3zM649.6 426.8h1.3v1.3h-1.3zM653.7 426.8h1.3v1.3h-1.3zM657.9 426.8h1.3v1.3h-1.3zM514.3 439.6h1.3v1.3h-1.3zM518.4 439.6h1.3v1.3h-1.3zM522.5 439.6h1.3v1.3h-1.3zM526.6 439.6h1.3v1.3h-1.3zM530.7 439.6h1.3v1.3h-1.3zM534.8 439.6h1.3v1.3h-1.3zM538.9 439.6h1.3v1.3h-1.3zM543.0 439.6h1.3v1.3h-1.3zM547.1 439.6h1.3v1.3h-1.3zM551.2 439.6h1.3v1.3h-1.3zM579.9 439.6h1.3v1.3h-1.3zM584.0 439.6h1.3v1.3h-1.3zM588.1 439.6h1.3v1.3h-1.3zM592.2 439.6h1.3v1.3h-1.3zM596.3 439.6h1.3v1.3h-1.3zM600.4 439.6h1.3v1.3h-1.3zM604.5 439.6h1.3v1.3h-1.3zM608.6 439.6h1.3v1.3h-1.3zM612.7 439.6h1.3v1.3h-1.3zM616.8 439.6h1.3v1.3h-1.3zM620.9 439.6h1.3v1.3h-1.3zM625.0 439.6h1.3v1.3h-1.3zM629.1 439.6h1.3v1.3h-1.3zM633.2 439.6h1.3v1.3h-1.3zM637.3 439.6h1.3v1.3h-1.3zM641.4 439.6h1.3v1.3h-1.3zM645.5 439.6h1.3v1.3h-1.3zM649.6 439.6h1.3v1.3h-1.3zM653.7 439.6h1.3v1.3h-1.3zM657.9 439.6h1.3v1.3h-1.3zM497.9 445.3h1.3v1.3h-1.3zM502.0 445.3h1.3v1.3h-1.3zM506.1 445.3h1.3v1.3h-1.3zM510.2 445.3h1.3v1.3h-1.3zM514.3 445.3h1.3v1.3h-1.3zM518.4 445.3h1.3v1.3h-1.3zM522.5 445.3h1.3v1.3h-1.3zM526.6 445.3h1.3v1.3h-1.3zM530.7 445.3h1.3v1.3h-1.3zM534.8 445.3h1.3v1.3h-1.3zM538.9 445.3h1.3v1.3h-1.3zM543.0 445.3h1.3v1.3h-1.3zM547.1 445.3h1.3v1.3h-1.3zM551.2 445.3h1.3v1.3h-1.3zM555.3 445.3h1.3v1.3h-1.3zM559.4 445.3h1.3v1.3h-1.3zM567.6 445.3h1.3v1.3h-1.3zM571.7 445.3h1.3v1.3h-1.3zM575.8 445.3h1.3v1.3h-1.3zM579.9 445.3h1.3v1.3h-1.3zM584.0 445.3h1.3v1.3h-1.3zM588.1 445.3h1.3v1.3h-1.3zM592.2 445.3h1.3v1.3h-1.3zM596.3 445.3h1.3v1.3h-1.3zM600.4 445.3h1.3v1.3h-1.3zM604.5 445.3h1.3v1.3h-1.3zM608.6 445.3h1.3v1.3h-1.3zM612.7 445.3h1.3v1.3h-1.3zM616.8 445.3h1.3v1.3h-1.3zM620.9 445.3h1.3v1.3h-1.3zM625.0 445.3h1.3v1.3h-1.3zM629.1 445.3h1.3v1.3h-1.3zM633.2 445.3h1.3v1.3h-1.3zM637.3 445.3h1.3v1.3h-1.3zM641.4 445.3h1.3v1.3h-1.3zM645.5 445.3h1.3v1.3h-1.3zM649.6 445.3h1.3v1.3h-1.3zM653.7 445.3h1.3v1.3h-1.3zM657.9 445.3h1.3v1.3h-1.3z" fill="#000"/>
</svg>
<rect x="494.4" y="322.4" width="164.1" height="128.9" fill="none" stroke="#333" stroke-width="1"/>
<path d="M494.4 322.4h-2.2M494.4 341.2h-2.2M494.4 355.5h-2.2M494.4 367.1h-2.2M494.4 376.9h-2.2M494.4 393.2h-2.2M494.4 406.4h-2.2M494.4 427.5h-2.2M494.4 440.2h-2.2M658.5 334.2h2.2M658.5 356.5h2.2M658.5 379.5h2.2M658.5 401.6h2.2M658.5 423.2h2.2M494.4 451.3v2.2M535.4 451.3v2.2M576.4 451.3v2.2M617.5 451.3v2.2M658.5 451.3v2.2M502.6 451.3v1.3M510.8 451.3v1.3M519 451.3v1.3M527.2 451.3v1.3M543.6 451.3v1.3M551.8 451.3v1.3M560 451.3v1.3M568.2 451.3v1.3M584.7 451.3v1.3M592.9 451.3v1.3M601.1 451.3v1.3M609.3 451.3v1.3M625.7 451.3v1.3M633.9 451.3v1.3M642.1 451.3v1.3M650.3 451.3v1.3" stroke="#333" stroke-width="0.9" fill="none"/>
<text x="490.3" y="325.8" font-size="10.2" text-anchor="end">100</text>
<text x="490.3" y="344.6" font-size="10.2" text-anchor="end">150</text>
<text x="490.3" y="358.9" font-size="10.2" text-anchor="end">200</text>
<text x="490.3" y="370.5" font-size="10.2" text-anchor="end">250</text>
<text x="490.3" y="380.3" font-size="10.2" text-anchor="end">300</text>
<text x="490.3" y="396.6" font-size="10.2" text-anchor="end">400</text>
<text x="490.3" y="409.8" font-size="10.2" text-anchor="end">500</text>
<text x="490.3" y="430.9" font-size="10.2" text-anchor="end">700</text>
<text x="490.3" y="443.6" font-size="10.2" text-anchor="end">850</text>
<text x="662.7" y="337.6" font-size="10.2" text-anchor="start">15</text>
<text x="662.7" y="359.9" font-size="10.2" text-anchor="start">12</text>
<text x="662.7" y="382.9" font-size="10.2" text-anchor="start">9</text>
<text x="662.7" y="405" font-size="10.2" text-anchor="start">6</text>
<text x="662.7" y="426.6" font-size="10.2" text-anchor="start">3</text>
<text x="494.4" y="462.9" font-size="10.2" text-anchor="middle">0</text>
<text x="535.4" y="462.9" font-size="10.2" text-anchor="middle">10N</text>
<text x="576.4" y="462.9" font-size="10.2" text-anchor="middle">20N</text>
<text x="617.5" y="462.9" font-size="10.2" text-anchor="middle">30N</text>
<text x="658.5" y="462.9" font-size="10.2" text-anchor="middle">40N</text>
<text x="494.8" y="318" font-size="11.7" text-anchor="start">(i)MME_P2-P1</text>
<text x="464.7" y="386.8" font-size="10.0" text-anchor="middle" transform="rotate(-90 464.7 386.8)">Pressure(mb)</text>
<text x="682.8" y="386.5" font-size="10.0" text-anchor="middle" transform="rotate(-90 682.8 386.5)">Height/(km)</text>
<path d="M96.6 481.4L111.5 475.5L111.5 487.4Z" fill="#1e3a6c"/>
<path d="M417.5 481.4L402.6 475.5L402.6 487.4Z" fill="#6a0c23"/>
<rect x="111.20" y="475.5" width="12.95" height="11.9" fill="#22447a"/>
<rect x="123.35" y="475.5" width="12.95" height="11.9" fill="#2c5a98"/>
<rect x="135.51" y="475.5" width="12.95" height="11.9" fill="#3a6eb0"/>
<rect x="147.66" y="475.5" width="12.95" height="11.9" fill="#4a87bd"/>
<rect x="159.82" y="475.5" width="12.95" height="11.9" fill="#5a9ec9"/>
<rect x="171.97" y="475.5" width="12.95" height="11.9" fill="#6aaed3"/>
<rect x="184.12" y="475.5" width="12.95" height="11.9" fill="#86bfdb"/>
<rect x="196.28" y="475.5" width="12.95" height="11.9" fill="#a2cfe2"/>
<rect x="208.43" y="475.5" width="12.95" height="11.9" fill="#b8dce7"/>
<rect x="220.59" y="475.5" width="12.95" height="11.9" fill="#d0e7ef"/>
<rect x="232.74" y="475.5" width="12.95" height="11.9" fill="#e0edf3"/>
<rect x="244.90" y="475.5" width="12.95" height="11.9" fill="#eff2f3"/>
<rect x="257.05" y="475.5" width="12.95" height="11.9" fill="#f3ebe4"/>
<rect x="269.20" y="475.5" width="12.95" height="11.9" fill="#f2e4d8"/>
<rect x="281.36" y="475.5" width="12.95" height="11.9" fill="#f2d4c2"/>
<rect x="293.51" y="475.5" width="12.95" height="11.9" fill="#ecbda5"/>
<rect x="305.67" y="475.5" width="12.95" height="11.9" fill="#e6a385"/>
<rect x="317.82" y="475.5" width="12.95" height="11.9" fill="#df8b6e"/>
<rect x="329.98" y="475.5" width="12.95" height="11.9" fill="#d5705c"/>
<rect x="342.13" y="475.5" width="12.95" height="11.9" fill="#cc544b"/>
<rect x="354.28" y="475.5" width="12.95" height="11.9" fill="#c03d40"/>
<rect x="366.44" y="475.5" width="12.95" height="11.9" fill="#b22434"/>
<rect x="378.59" y="475.5" width="12.95" height="11.9" fill="#941b2d"/>
<rect x="390.75" y="475.5" width="12.15" height="11.9" fill="#7c1228"/>
<path d="M96.6 481.4L111.2 475.5L402.9 475.5L417.5 481.4L402.9 487.4L111.2 487.4Z" fill="none" stroke="#222" stroke-width="0.8"/>
<text x="111.2" y="499.1" font-size="10.0" text-anchor="middle">−6.0</text>
<text x="147.7" y="499.1" font-size="10.0" text-anchor="middle">−4.5</text>
<text x="184.1" y="499.1" font-size="10.0" text-anchor="middle">−3.0</text>
<text x="220.6" y="499.1" font-size="10.0" text-anchor="middle">−1.5</text>
<text x="257.1" y="499.1" font-size="10.0" text-anchor="middle">0.0</text>
<text x="293.5" y="499.1" font-size="10.0" text-anchor="middle">1.5</text>
<text x="330" y="499.1" font-size="10.0" text-anchor="middle">3.0</text>
<text x="366.4" y="499.1" font-size="10.0" text-anchor="middle">4.5</text>
<text x="402.9" y="499.1" font-size="10.0" text-anchor="middle">6.0</text>
<path d="M111.20 487.4v2M147.66 487.4v2M184.12 487.4v2M220.59 487.4v2M257.05 487.4v2M293.51 487.4v2M329.97 487.4v2M366.44 487.4v2M402.90 487.4v2" stroke="#222" stroke-width="0.8"/>
<path d="M497.5 481.6L505.1 475.5L505.1 487.6Z" fill="#1c3a6c"/>
<path d="M657.6 481.6L650.2 475.5L650.2 487.6Z" fill="#6c0a24"/>
<rect x="504.80" y="475.5" width="9.91" height="12.1" fill="#22477c"/>
<rect x="513.91" y="475.5" width="9.91" height="12.1" fill="#3a68ad"/>
<rect x="523.01" y="475.5" width="9.91" height="12.1" fill="#4a88bd"/>
<rect x="532.12" y="475.5" width="9.91" height="12.1" fill="#62a4cb"/>
<rect x="541.23" y="475.5" width="9.91" height="12.1" fill="#8cc2da"/>
<rect x="550.33" y="475.5" width="9.91" height="12.1" fill="#b0d6e7"/>
<rect x="559.44" y="475.5" width="9.91" height="12.1" fill="#d3e7f0"/>
<rect x="568.54" y="475.5" width="9.91" height="12.1" fill="#eaf0f3"/>
<rect x="577.65" y="475.5" width="9.91" height="12.1" fill="#f5eee8"/>
<rect x="586.76" y="475.5" width="9.91" height="12.1" fill="#f3d9c8"/>
<rect x="595.86" y="475.5" width="9.91" height="12.1" fill="#ecb99e"/>
<rect x="604.97" y="475.5" width="9.91" height="12.1" fill="#e5957a"/>
<rect x="614.08" y="475.5" width="9.91" height="12.1" fill="#d96b59"/>
<rect x="623.18" y="475.5" width="9.91" height="12.1" fill="#c9454a"/>
<rect x="632.29" y="475.5" width="9.91" height="12.1" fill="#b22434"/>
<rect x="641.39" y="475.5" width="9.11" height="12.1" fill="#8e1a2e"/>
<path d="M497.5 481.6L504.8 475.5L650.5 475.5L657.6 481.6L650.5 487.6L504.8 487.6Z" fill="none" stroke="#222" stroke-width="0.8"/>
<text x="504.8" y="499.1" font-size="10.0" text-anchor="middle">−0.8</text>
<text x="523" y="499.1" font-size="10.0" text-anchor="middle">−0.6</text>
<text x="541.2" y="499.1" font-size="10.0" text-anchor="middle">−0.4</text>
<text x="559.4" y="499.1" font-size="10.0" text-anchor="middle">−0.2</text>
<text x="577.6" y="499.1" font-size="10.0" text-anchor="middle">0.0</text>
<text x="595.9" y="499.1" font-size="10.0" text-anchor="middle">0.2</text>
<text x="614.1" y="499.1" font-size="10.0" text-anchor="middle">0.4</text>
<text x="632.3" y="499.1" font-size="10.0" text-anchor="middle">0.6</text>
<text x="650.5" y="499.1" font-size="10.0" text-anchor="middle">0.8</text>
<path d="M504.80 487.6v2M523.01 487.6v2M541.23 487.6v2M559.44 487.6v2M577.65 487.6v2M595.86 487.6v2M614.08 487.6v2M632.29 487.6v2M650.50 487.6v2" stroke="#222" stroke-width="0.8"/>
<text x="69.8" y="480.6" font-size="9.6" text-anchor="middle" font-weight="bold">5</text>
<path d="M56.4 487.5H78" stroke="#000" stroke-width="1.8"/><path d="M83 487.5L76.5 485V490Z" fill="#000"/>
<text x="461.8" y="480.8" font-size="9.6" text-anchor="middle" font-weight="bold">0.5</text>
<path d="M457.2 487.4H463" stroke="#000" stroke-width="1.8"/><path d="M466.8 487.4L462 485.3V489.5Z" fill="#000"/>
</svg>
</body></html>
